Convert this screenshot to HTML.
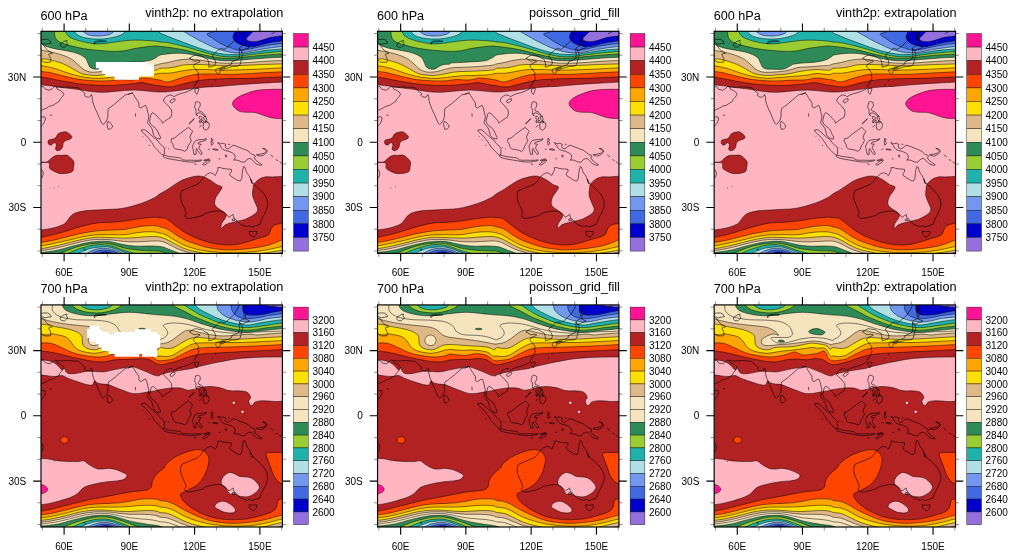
<!DOCTYPE html><html><head><meta charset="utf-8"><title>plot</title>
<style>html,body{margin:0;padding:0;background:#fff}svg{display:block;will-change:transform}text{font-family:"Liberation Sans",sans-serif;fill:#000}</style>
</head><body>
<svg width="1016" height="558" viewBox="0 0 1016 558">
<defs><clipPath id="fc"><rect x="0" y="0" width="241.4" height="222.1"/></clipPath>
<path id="coast" d="M-0.1 8.8L2.3 8.1L6.7 8.1L9.2 9.7L10.2 11.9L7.3 12.2L4.2 12.9L1.7 12.2L-0.1 11.3M19.6 12.2L21.2 11.3L23.1 10L25.9 9.1L25.6 11L26.9 13.2L25.3 14.4L23.7 16L20.6 15.7L19.3 14.4ZM53 12.2L53.3 10.7L55.8 9.7L60 9.4L62.8 9.5L65.3 10L62.8 10.4L60 10.4L56.5 10.7L54.3 11.3L53.6 12.9ZM1.4 12.9L2.9 14.4L4.8 17L7 19.5L9.5 20.4L11.4 22L9.2 22.3L7.7 23L8.6 25.2L9.5 27L9.9 28.9L9.5 30.8L6.1 31.1L2.9 30.8L1.7 29.9L-0.1 28.3M-0 55.6L2.1 55.1L4.5 58L8.3 58.9L11.1 57.5L13.5 55.1L15.4 55.6L16.3 58L19.6 59.4L22.5 61.7L22.9 63.1L21 66L19.1 67.9L18.2 70.2L14.9 72.1L12.1 74L8.3 75L5.4 76.8L1.7 78.5L-0 79.2M-0 86.3L2.1 85.4L4 85.8L4.5 87.7L3.6 90.1L2.6 92.4L0.7 94.3L-0 95.7M8.8 83.7L11.1 84.1M15.4 55.6L20.6 56.1L27.2 55.6L33.8 56.1L37.6 56.5L40.4 59.4L42.3 60.8L44.2 62.2L43.2 64.1L45.1 65.5L47.5 66L49.4 65L50.3 63.1L51.3 65.5L51.3 68.8L52.7 73.5L54.6 78.3L56.9 83L58.8 87.7L60.7 92L62.1 93.2L64 91.5L65.9 88.7L66.9 85.4L66.9 81.1L67.3 77.3L70.6 75L74.4 72.1L78.2 68.8L81.5 66L84.3 63.6L88.1 62.7L92 61.3M66.9 90.1L68.8 91L71.1 93.9L71.6 95.7L69.7 97.6L67.3 98.1L66.4 95.7L66.1 92.4ZM87 63.1L91.3 61.7L92.7 63.6L94.1 66L96 68.8L97.9 71.7L97.9 75.4L99.8 76.8L102.6 75L104.5 74L105.9 76.8L106.8 81.1L107.8 84.9L107.3 88.2L106.4 91.5L108.3 93.9L110.6 96.7M94.4 82L94.6 85.4M115.3 97.6L112.5 95.3L109.7 92.9L108.5 90.1L109.2 86.8L110.1 83L111.4 81.3L113.5 82.5L115.8 84.4L118.2 87.2L120.5 89.6L121.5 92L123.4 90.1L126.7 87.9L130 85.8L130.9 82L130.5 78.7L127.6 75L124.8 72.1L122.4 69.8L123.4 66.9L125.7 65L128.6 63.6L131.4 64.1L132.8 65.5L136.1 63.6L139.9 62.2L143.7 61.3L147.5 59.8L151.3 58L153.1 56.5M129.3 69.3L131.4 67.9L133.8 67.4L134.2 68.8L132.4 70.7L130.5 71.7L129 70.7ZM153.6 58L156 57L157.9 57.5L157.1 60.3L155.8 63.1L154.3 61.3ZM154.6 71L156.1 70.2L157.6 70.7L158.8 71.2L159.3 72.7L159.1 74.7L158.3 76.2L157.3 77.5L157.6 79.3L159.1 80L160.6 80.4L161.8 81.5L162.6 83L164.1 84L165.1 85L164.1 85.4L162.6 84.3L161.1 82.8L159.6 81.8L158.1 81.5L156.6 81.8L155.8 83.3L156.6 84.4L155.6 84L154.8 81.8L155 79.5L154.6 77.5L153.6 76.2L153.8 74.2L154.3 72.7ZM158.1 85.3L159.6 84.8L160.8 86L161.1 87.8L160.1 88.8L158.8 87.8L158.3 86.5ZM162.6 85.8L164.1 85.3L165.4 86.5L165.6 88.3L164.4 89.3L163.3 88L162.8 86.8ZM160.6 89.3L161.8 88.8L162.6 90.3L161.6 91.8L160.6 90.8ZM164.1 89.8L165.6 89.5L166.4 91L165.4 91.8L164.4 91ZM158.8 89L159.6 90.3L159.1 91.8L158.3 90.5ZM162.6 91.5L165.4 90.1L167.8 91.5L168.4 94.3L167.3 97.2L165 98.9L162.6 97.6L162.1 94.8ZM147.9 92.4L149.4 91L153.1 87.2L152.2 88.8L148.4 92.6ZM158.3 95.9L160.7 93.9M100.2 98.8L101.2 100.7L105 104L108.3 107.8L111.1 111.6L113.5 115.8L117.2 119.6L120.5 122.9L122.4 123.8L123.4 122.9L123.4 117.2L122.4 115.3L120.5 113.9L118.2 111.6L116.3 108.7L113 106.4L109.7 103.5L106.8 100.7L103.5 98.3L100.2 98.8ZM110.6 96.7L111.4 98.8L111.8 100.7L112.7 104L115.3 106.8L119.1 107.8L119.6 105.9L118 103.1L117 100.7L116.1 98.8L115.3 97.7M104.5 108.3L105.4 109.2M107.8 113.5L108.7 114.7M101.4 104.7L101.9 105.4M124.6 116L125.4 116.8M127.3 117.1L128.2 117.9M122.4 123.8L124.8 124.3L128.6 125.3L132.4 125.7L136.1 126.2L139.4 126.7L141.8 128.6L145.6 129L149.4 128.9L153.1 129L156.9 129L160.7 128.6L160.2 129.5L156 130.2L152.2 130.7L147.5 130.7L143.7 130.2L139.9 129.5L136.1 128.9L131.4 128.1L126.7 127.2L123.4 126.2L122.1 125.1ZM161.6 133.3L163.5 131.4L166.4 129.5L169.2 128.6L168.7 130L166.4 131.9L163.5 133.8ZM162.6 129L165.4 128.1L168.3 127.6L167.3 128.6L164 129.5ZM153.1 132.4L155.5 133.3M147.5 96.1L144.6 98.1L141.3 100.5L138 102.9L135.2 105.4L133.3 106.8L130.5 107.3L130 110.1L131.9 113L132.4 115.8L134.2 117.7L138 118.2L141.8 119.1L143.7 120.1L146.1 118.2L147 114.9L148.9 112L150.3 109.2L148.9 105.9L149.8 103.5L151.7 100L149.8 98.1ZM153.1 111.1L155 109.2L158.8 108.3L162.6 108.3L165.4 107.3L165 108.7L161.6 110.1L157.9 110.9L156.9 112.5L160.2 113L158.8 114.4L157.9 116.8L159.8 119.6L161.2 122.4L159.8 123.4L157.9 121L156.4 118.7L155.5 117.2L154.8 119.6L155.2 122.9L153.1 123.2L152.4 120.1L152 117.2L151.3 114.9L152.7 112.5ZM170.6 106.8L172 108.3L171.1 110.1L172.5 112L170.6 113.9L170.1 111.1ZM167.3 118.2L169.2 117.7M171.6 117.9L174.9 117.7L177.2 118.7L174.4 118.8ZM178.3 127.4L178.8 128.1M176.7 111.1L179.5 112.5L182.3 112L184.7 113L184.2 115.8L186.1 117.7L188.5 116.8L190.4 114.9L192.7 113.9L196.5 115.3L201.2 117.2L206 119.1L208.8 121L210.7 122.9L213.5 123.8L214.5 125.3L213.1 126.2L214.5 128.6L217.3 130.9L221.1 133.6L219.2 134L215.4 132.8L212.6 130L210.2 127.6L207.9 127.2L205.5 128.6L203.6 130.9L200.3 130.7L197 129L193.7 128.6L192.7 129L194.2 126.2L193.7 123.4L191.3 121.5L188 120.1L184.2 119.1L181.9 118.2L180.5 116.8L179 113.9L177.4 112.5ZM215.4 123.4L219.2 122.9L223 122L225.3 120.1L223.9 118.2L221.6 117L224.4 117.5L226.3 119.6L225.8 121L223.4 123.4L220.1 124.8L216.8 124.3ZM229.6 123.4L232.4 125.7M234.8 128.1L237.1 129.5M238.6 130L240.5 132.4M184.7 123.4L185.7 124.3L185.2 126L184.2 124.8ZM178.4 127L178.9 127.9M187.1 112.8L189.1 113.2M163.4 145.1L166.3 142.7L169.6 141.3L172.4 142.7L174.3 144.2L175.7 141.3L177.1 138L176.7 136.4L179 136.1L181.4 137.1L185.2 137.6L190.4 138L190.4 140.4L188.5 142.7L189.4 144.6L191.8 146.1L194.6 147.9L197 149.4L199.4 149.6L200.8 147L201.2 142.3L201.7 138.5L202.7 135.2L204.1 136.1L205 139.4L206.4 142.3L208.3 144.6L209.7 147.9L211.2 152.5L209.6 147.7L210.8 150.2L213.3 153.3L217 156.4L220.7 160.1L223.8 163.8L226.3 168.8L226.7 174.4L225.1 179.3L222.6 184.3L220.1 189.2L218.9 193L214.5 194.6L210.8 195.8L208.3 194.2L206.5 195.4L203.4 194.6L199.6 193L196.5 190.5L194.7 188L192.8 186.1L192 183L190.3 184.3L187.9 186.1L186 183.7L182.9 181.2L179.8 179.7L174.8 179.7L169.9 180.6L164.9 181.8L161.2 184.3L156.2 185.5L151.3 186.8L146.3 187.1L143.6 184.9L145.1 181.8L143.8 177.5L141.4 172.5L139.9 168.2L139.5 163.8L140.7 159.5L145.1 157.6L151.3 155.1L156.9 152.7L159.3 150.2L161.2 147.7ZM208.1 199.8L211.4 200.4L215.8 199.8L215.5 202.9L212.7 206L209.8 204.5L208.3 202ZM191 188L193.4 187.4L194.1 188.9L191.6 189.6ZM198.7 -1.3L198.3 0.6L196.4 4.4L193.5 9.1L189.7 12.9L186 16.2L183.1 18.1L180.3 17.1L177.9 18.1L175.6 20.4L172.7 22.3L171.3 24.7L172.7 26.6L174.2 28.9L174.8 31.8L173.7 34.1L170.9 35.1L167.8 36L168 33.7L167.5 30.8L166.6 28L164.2 27L162.3 25.6L160.5 24.7L156.7 24.2L154.3 23.7L152 24.7L149.1 26.6L148.2 27L149.6 27.5L151.5 28.9L152.9 29.9L155.7 29.4L158.6 29.4L159 30.4L157.1 31.3L154.8 32.2L152.9 33.7L152.4 35.6L154.3 37.4M174.8 38.4L176.5 37L178.4 37.4L179.4 39.3L178.4 41.7L177 43.1L175.6 41.7L174.6 39.8ZM179.8 37.9L182.2 36.5L184.1 37L182.7 38.4L180.8 39.1ZM178.4 37L181.2 35.6L185 35.1L187.9 34.1L190.7 32.7L190.7 30.8L192.6 29.9L195.4 28.9L198.3 27L198.7 23.3L198.3 20.4L198.3 17.6L200.1 19L201.6 23.3L200.6 27L199.7 30.8L199.2 33.2L197.3 34.6L194.5 35.1L191.6 35.1L188.8 36L186.9 36.5L185.5 37L183.1 36.5L180.3 37ZM198.3 17.1L200.1 15.2L203 13.8L205.8 14.8L208.6 16.2L206.8 17.1L204.4 17.6L202 19L200.1 19L198.7 18.1ZM201.7 -0.8L202.2 4.4L202.6 8.1L203.3 11.9L204.5 12.5L204.7 8.1L204.3 4.4L204.1 -0.8ZM154.4 37.2L155.8 39.5L157.7 41.9L156.7 44.7L158.1 46.1L157.2 48.5L155.8 50.9L154.4 53.2L152.9 55.6M170.4 54.2L171.8 52.8M174.2 49.9L174.7 48.5M0 137.5L1.8 140L2.3 143L1.2 146L0 147.5M12.9 156.3L13.7 156.9M17.4 155L18.2 155.6M42.8 217.6L44.4 218.2L43.6 219ZM230.5 2.4L232.5 1.6L234.5 0.4L235.2 -0.5" fill="none" stroke="#000" stroke-width="0.65" stroke-opacity="0.9" stroke-linejoin="round"/>
</defs>
<g transform="translate(41.0 31.3)">
<g clip-path="url(#fc)">
<rect x="0" y="0" width="241.4" height="222.1" fill="#FFB6C1"/>
<path d="M-0.5 53.5C1 53.6 5.8 54.1 8.5 54.5C11.2 54.8 12.9 55 16 55.5C19.1 55.9 23.7 56.5 27.2 57C30.8 57.4 34.1 57.7 37.2 58.2C40.4 58.7 43.1 59.3 46 59.7C48.9 60.1 51.8 60.5 54.8 60.7C57.7 60.9 60.4 61.1 63.5 61C66.6 60.8 70.2 60.4 73.5 60.1C76.8 59.8 80.2 59.4 83.5 59.2C86.8 59 90.2 58.8 93.5 58.8C96.8 58.9 100.2 59.2 103.5 59.5C106.8 59.7 110.9 60.2 113.5 60.5C116.1 60.7 116.8 60.7 119 60.7C121.2 60.7 123.8 60.7 126.5 60.5C129.2 60.2 132.3 59.8 135.2 59.5C138.2 59.1 140.9 58.6 144 58.2C147.1 57.8 150.2 57.4 154 57C157.8 56.5 162.3 56 166.5 55.7C170.7 55.4 174.4 55.4 179 55.1C183.6 54.8 189 54.2 194 53.8C199 53.4 203.8 52.9 209 52.6C214.2 52.2 219.7 52 225.2 51.7C230.8 51.4 239.3 50.9 242.1 50.7L243.4 -2L-2 -2Z" fill="#B22222" stroke="#000" stroke-width="0.55" stroke-opacity="0.9"/>
<path d="M-0.5 45.7C1 46 5.3 46.6 8.5 47.2C11.7 47.8 15.2 48.6 18.5 49.2C21.8 49.8 25.2 50.4 28.5 51C31.8 51.5 35.2 52.2 38.5 52.6C41.8 53 45.2 53.2 48.5 53.5C51.8 53.7 54.8 54 58.5 54.1C62.2 54.2 66.8 54.2 71 54.1C75.2 53.9 79.8 53.5 83.5 53.2C87.2 52.9 90.8 52.5 93.5 52.2C96.2 51.9 97.7 51.3 99.8 51.3C101.8 51.3 103.7 51.8 106 52.2C108.3 52.6 111.3 53.5 113.5 53.8C115.7 54.2 117 54.2 119 54.5C121 54.7 123.2 55.3 125.2 55.5C127.3 55.6 129.2 55.8 131.5 55.5C133.8 55.1 136.3 54.1 139 53.5C141.7 52.8 144.8 52 147.8 51.3C150.7 50.7 153.4 50 156.5 49.5C159.6 48.9 162.8 48.5 166.5 48.2C170.2 47.9 174.4 47.7 179 47.6C183.6 47.4 189 47.3 194 47.2C199 47.1 203.8 47.1 209 47C214.2 46.8 219.7 46.6 225.2 46.3C230.8 46.1 239.3 45.6 242.1 45.5L243.4 -2L-2 -2Z" fill="#FF4500" stroke="#000" stroke-width="0.55" stroke-opacity="0.9"/>
<path d="M-0.1 40.1C1.4 40.3 5.7 40.7 8.9 41.3C12.1 42 15.6 43 18.9 43.8C22.2 44.7 25.6 45.6 28.9 46.3C32.2 47.1 35.6 47.7 38.9 48.2C42.2 48.7 45.6 49 48.9 49.2C52.2 49.5 55.6 49.7 58.9 49.7C62.2 49.7 65.6 49.7 68.9 49.5C72.2 49.2 75.6 48.3 78.9 48.2C82.2 48.1 86 48.9 88.9 48.8C91.8 48.8 94.3 48.3 96.4 48C98.5 47.6 99.3 46.8 101.4 46.7C103.5 46.6 106.6 47 108.9 47.2C111.2 47.5 113.5 47.9 115.1 48.2C116.8 48.5 117.7 48.5 119 48.8C120.3 49.1 121.5 49.8 122.8 50.1C124 50.4 125 50.8 126.5 50.7C128 50.6 129.4 50.1 131.5 49.5C133.6 48.8 136.3 47.8 139 47C141.7 46.1 144.8 45.1 147.8 44.5C150.7 43.8 153 43.3 156.5 43C160 42.6 164.8 42.6 169 42.6C173.2 42.6 177.3 42.9 181.5 43C185.7 43 189.4 43.1 194 43C198.6 42.8 203.8 42.5 209 42.2C214.2 41.9 219.7 41.6 225.2 41.3C230.8 41 239.3 40.6 242.1 40.5L243.4 -2L-2 -2Z" fill="#FFA500" stroke="#000" stroke-width="0.55" stroke-opacity="0.9"/>
<path d="M-0.1 34.5C1 34.6 3.9 34.9 6.4 35.5C8.9 36 12.2 36.7 15.1 37.6C18.1 38.5 20.8 39.7 23.9 40.7C27 41.7 30.6 43 33.9 43.8C37.2 44.7 40.6 45.4 43.9 46C47.2 46.5 50.6 46.8 53.9 47C57.2 47.1 60.6 47 63.9 46.7C67.2 46.5 70.6 45.8 73.9 45.5C77.2 45.1 80.6 44.7 83.9 44.5C87.2 44.2 90.6 44.3 93.9 44.2C97.2 44.1 101 44 103.9 43.8C106.8 43.7 108.9 43.8 111.4 43.5C113.9 43.1 116.5 42.2 119 42C121.5 41.7 124 42.1 126.5 42C129 41.8 131.5 41.4 134 41C136.5 40.5 139 39.9 141.5 39.5C144 39 146.1 38.7 149 38.5C151.9 38.2 155.2 38.2 159 38.2C162.8 38.2 167.3 38.3 171.5 38.5C175.7 38.6 179.4 38.8 184 38.8C188.6 38.8 194 38.6 199 38.5C204 38.3 209 38.2 214 38C219 37.7 224.3 37.5 229 37.2C233.7 36.9 239.9 36.5 242.1 36.3L243.4 -2L-2 -2Z" fill="#FFDF00" stroke="#000" stroke-width="0.55" stroke-opacity="0.9"/>
<path d="M-0.1 27.9C0.6 27.9 2.4 27.5 3.9 27.6C5.4 27.7 6.4 27.8 8.9 28.4C11.4 29.1 16 30.3 18.9 31.3C21.8 32.3 23.9 33.2 26.4 34.5C28.9 35.7 31.4 37.5 33.9 38.8C36.4 40.2 38.9 41.7 41.4 42.6C43.9 43.4 46.4 43.6 48.9 43.8C51.4 44.1 53.9 44.3 56.4 44.2C58.9 44.1 61.4 43.6 63.9 43.2C66.4 42.8 68.9 42.2 71.4 41.7C73.9 41.2 76 40.7 78.9 40.5C81.8 40.2 85.6 40.2 88.9 40.1C92.2 40 95.6 39.8 98.9 39.7C102.2 39.6 106 39.4 108.9 39.2C111.8 39 114.7 38.8 116.4 38.5C118.1 38.1 117.3 37.2 119 37C120.7 36.7 124 36.9 126.5 36.7C129 36.5 131.5 36.2 134 35.7C136.5 35.2 139 34.2 141.5 33.8C144 33.4 146.1 33.3 149 33.2C151.9 33.1 155.2 33.1 159 33.2C162.8 33.3 167.3 33.6 171.5 33.8C175.7 34 179.4 34.4 184 34.5C188.6 34.5 194 34.4 199 34.2C204 34 209 33.7 214 33.5C219 33.2 224.3 33.1 229 33C233.7 32.8 239.9 32.6 242.1 32.6L243.4 -2L-2 -2Z" fill="#DEB887" stroke="#000" stroke-width="0.55" stroke-opacity="0.9"/>
<path d="M-0.1 18.8C1 19 3.9 19.6 6.4 20.1C8.9 20.6 12.2 21.2 15.1 21.9C18.1 22.7 21.2 23.6 23.9 24.7C26.6 25.8 29.1 26.9 31.4 28.4C33.7 30 35.8 32.2 37.6 33.8C39.5 35.5 40.8 37.1 42.6 38.2C44.5 39.3 46.6 40.3 48.9 40.7C51.2 41.1 54.1 40.9 56.4 40.7C58.7 40.5 60.6 40 62.6 39.5C64.7 38.9 66.6 38.1 68.9 37.6C71.2 37.1 73.5 36.6 76.4 36.3C79.3 36.1 83.1 36.1 86.4 36C89.7 35.8 93.1 35.7 96.4 35.5C99.7 35.2 103.3 35 106.4 34.7C109.5 34.4 113 34.2 115.1 33.8C117.2 33.5 117.1 33 119 32.6C120.9 32.2 124 31.8 126.5 31.3C129 30.8 131.5 30 134 29.4C136.5 28.9 139 28.4 141.5 28.2C144 27.9 146.1 27.8 149 27.9C151.9 28.1 155.2 28.4 159 28.8C162.8 29.3 167.3 30.2 171.5 30.7C175.7 31.2 179.4 31.8 184 31.9C188.6 32.1 194 31.9 199 31.7C204 31.5 209 31 214 30.7C219 30.4 224.3 29.9 229 29.7C233.7 29.4 239.9 29.3 242.1 29.2L243.4 -2L-2 -2Z" fill="#F5E4BD" stroke="#000" stroke-width="0.55" stroke-opacity="0.9"/>
<path d="M-0.1 11.9C0.6 12.4 2 13.6 3.9 14.4C5.8 15.3 8.5 16.2 11.4 16.9C14.3 17.7 18.1 18.2 21.4 18.8C24.7 19.4 28.5 20 31.4 20.7C34.3 21.4 36.7 22.2 38.9 23.2C41.1 24.2 43.2 25.5 44.5 26.9C45.9 28.4 46.3 30.5 47 31.9C47.8 33.4 48 34.8 48.9 35.7C49.8 36.6 51.2 37.3 52.6 37.6C54.1 37.9 56.2 38 57.6 37.6C59.1 37.2 59.9 35.8 61.4 35.1C62.9 34.3 64.7 33.6 66.4 33.2C68.1 32.8 70.1 33.2 71.4 33C72.6 32.7 72.2 32 73.9 31.7C75.6 31.4 78.5 31.5 81.4 31.3C84.3 31.2 88.1 30.9 91.4 30.7C94.7 30.5 98.5 30.3 101.4 30.1C104.3 29.8 106.6 29.8 108.9 29.2C111.2 28.6 113.5 27.2 115.1 26.3C116.8 25.4 117.1 24.4 119 23.8C120.9 23.2 123.8 22.9 126.5 22.6C129.2 22.3 132.3 22 135.2 21.9C138.2 21.9 140.9 21.9 144 22.2C147.1 22.5 150.7 23.1 154 23.8C157.3 24.5 160.7 25.6 164 26.3C167.3 27.1 170.7 27.9 174 28.4C177.3 29 180.7 29.3 184 29.4C187.3 29.6 190.2 29.4 194 29.2C197.8 29 202.3 28.5 206.5 28.2C210.7 27.9 214.8 27.5 219 27.2C223.2 26.9 227.6 26.5 231.5 26.3C235.4 26.1 240.4 26 242.1 25.9L243.4 -2L-2 -2Z" fill="#2E8B57" stroke="#000" stroke-width="0.55" stroke-opacity="0.9"/>
<path d="M13.5 -1.2C13.5 -0.2 13.4 2.9 13.8 4.4C14.1 6 14.4 7.1 15.4 8.2C16.4 9.3 17.8 10.4 19.8 11.3C21.7 12.3 24.3 13 27.2 13.8C30.2 14.7 33.7 15.6 37.2 16.3C40.8 17.1 44.5 17.7 48.5 18.2C52.5 18.7 56.8 19.1 61 19.4C65.2 19.8 69.8 20.1 73.5 20.1C77.2 20.1 80.2 19.9 83.5 19.4C86.8 19 90.2 17.8 93.5 17.2C96.8 16.6 100.2 16.1 103.5 15.7C106.8 15.3 110.9 14.8 113.5 14.7C116.1 14.6 116.8 14.9 119 15.1C121.2 15.3 123.8 15.6 126.5 15.9C129.2 16.3 132.3 16.7 135.2 17.2C138.2 17.7 140.9 18.1 144 18.8C147.1 19.5 150.7 20.5 154 21.3C157.3 22.2 160.7 23.1 164 23.8C167.3 24.6 170.7 25.4 174 25.9C177.3 26.5 180.7 26.8 184 26.9C187.3 27.1 190.2 26.9 194 26.7C197.8 26.4 202.3 25.9 206.5 25.4C210.7 25 214.8 24.6 219 24.2C223.2 23.8 227.6 23.5 231.5 23.2C235.4 22.9 240.4 22.7 242.1 22.6L243.4 -2Z" fill="#9ACD32" stroke="#000" stroke-width="0.55" stroke-opacity="0.9"/>
<path d="M24.1 -1.2C24.4 -0.4 25.1 1.9 26 3.2C26.9 4.4 28.1 5.4 29.8 6.3C31.4 7.3 33.3 8 36 8.8C38.7 9.7 42.7 10.7 46 11.3C49.3 11.9 52.7 12.5 56 12.6C59.3 12.7 62.7 12.3 66 11.9C69.3 11.6 72.7 10.9 76 10.4C79.3 10 82.7 9.5 86 9.2C89.3 8.9 92.7 8.8 96 8.8C99.3 8.8 102.7 9 106 9.2C109.3 9.4 113.8 9.8 116 10.1C118.2 10.3 117.2 10.5 119 10.7C120.8 10.9 123.8 10.9 126.5 11.3C129.2 11.7 132.3 12.5 135.2 13.2C138.2 13.9 140.9 14.6 144 15.4C147.1 16.3 150.7 17.2 154 18.2C157.3 19.2 160.7 20.4 164 21.3C167.3 22.3 170.7 23.1 174 23.8C177.3 24.5 180.7 25.2 184 25.4C187.3 25.7 190.2 25.7 194 25.4C197.8 25.2 202.3 24.4 206.5 23.8C210.7 23.3 214.8 22.7 219 22.2C223.2 21.7 227.6 21.3 231.5 20.9C235.4 20.6 240.4 20.2 242.1 20.1L243.4 -2Z" fill="#20B2AA" stroke="#000" stroke-width="0.55" stroke-opacity="0.9"/>
<path d="M32.2 -1.2C32.9 -0.4 34.5 2.1 36 3.2C37.5 4.3 38.9 5 41 5.7C43.1 6.4 45.8 6.8 48.5 7.2C51.2 7.6 54.3 7.8 57.2 7.8C60.2 7.8 63.1 7.6 66 7.2C68.9 6.8 72.2 6.1 74.8 5.4C77.2 4.8 79.1 4.3 81 3.2C82.9 2.1 85.2 -0.4 86 -1.2Z" fill="#B0E0E6" stroke="#000" stroke-width="0.55" stroke-opacity="0.9"/>
<path d="M116.5 -1.2C116.9 -0.7 117.8 0.9 119 1.7C120.2 2.5 121.9 2.9 124 3.8C126.1 4.7 128.6 5.8 131.5 6.9C134.4 8.1 138.2 9.4 141.5 10.7C144.8 11.9 148.2 13.2 151.5 14.4C154.8 15.7 158.2 16.9 161.5 17.9C164.8 19 168.2 19.9 171.5 20.7C174.8 21.5 178.2 22.2 181.5 22.6C184.8 23 188.2 23.2 191.5 23.2C194.8 23.2 197.8 23 201.5 22.6C205.2 22.2 209.8 21.3 214 20.7C218.2 20.1 221.8 19.3 226.5 18.8C231.2 18.3 239.5 17.8 242.1 17.6L243.4 -2Z" fill="#B0E0E6" stroke="#000" stroke-width="0.55" stroke-opacity="0.9"/>
<path d="M40.4 -1.2C41.3 -0.5 44 2 46 2.9C48 3.9 50.2 4.2 52.2 4.4C54.3 4.7 56.2 4.8 58.5 4.7C60.8 4.6 63.9 4.3 66 3.8C68.1 3.4 69.6 2.8 71 1.9C72.4 1.1 73.6 -0.7 74.1 -1.2Z" fill="#7297EE" stroke="#000" stroke-width="0.55" stroke-opacity="0.9"/>
<path d="M140.2 -1.2C141.5 -0.4 145 1.6 147.8 3.2C150.5 4.8 153.4 6.5 156.5 8.2C159.6 9.9 163.2 11.6 166.5 13.2C169.8 14.8 173.2 16.4 176.5 17.6C179.8 18.8 183.2 19.8 186.5 20.4C189.8 21.1 193.2 21.7 196.5 21.7C199.8 21.7 202.8 21.3 206.5 20.7C210.2 20.1 214.8 18.9 219 18.2C223.2 17.5 227.6 16.8 231.5 16.3C235.4 15.8 240.4 15.3 242.1 15.1L243.4 -2Z" fill="#7297EE" stroke="#000" stroke-width="0.55" stroke-opacity="0.9"/>
<path d="M176.5 -1.2C175.7 -0.8 173.3 0.3 171.5 0.9C169.7 1.6 165.9 1.9 165.9 2.9C165.9 3.9 169.3 5.4 171.5 6.9C173.7 8.4 176.1 10.4 179 11.9C181.9 13.5 185.7 15.2 189 16.3C192.3 17.5 195.7 18.6 199 18.8C202.3 19 205.7 18.1 209 17.6C212.3 17 215.2 16.2 219 15.4C222.8 14.7 227.6 13.8 231.5 13.2C235.4 12.6 240.4 12.2 242.1 11.9L243.4 -2Z" fill="#4169E1" stroke="#000" stroke-width="0.55" stroke-opacity="0.9"/>
<path d="M194.6 -1.2C194.2 -0.2 192.4 2.9 192.1 4.4C191.8 6 192 6.9 192.8 8.2C193.5 9.4 194.6 10.9 196.5 11.9C198.4 13 201.5 13.9 204 14.4C206.5 15 209 15.6 211.5 15.4C214 15.3 216.1 14.5 219 13.8C221.9 13.1 225.1 12.1 229 11.3C232.9 10.6 239.9 9.6 242.1 9.2L243.4 -2Z" fill="#0000CD" stroke="#000" stroke-width="0.55" stroke-opacity="0.9"/>
<path d="M213.4 -1.2C212.4 -0.2 209.1 3 207.8 4.4C206.4 5.9 205.2 6.7 205.2 7.6C205.2 8.4 206.3 9.2 207.8 9.7C209.2 10.2 211.7 10.6 214 10.4C216.3 10.3 219 9.5 221.5 8.8C224 8.1 226.5 6.9 229 6.3C231.5 5.7 234.3 5.3 236.5 5.1C238.7 4.8 241.2 4.8 242.1 4.7L243.4 -2Z" fill="#9370DB" stroke="#000" stroke-width="0.55" stroke-opacity="0.9"/>
<path d="M242.8 58C239.8 58 230 58 225.2 58.2C220.5 58.5 217.1 58.8 214 59.5C210.9 60.1 208.8 61 206.5 61.8C204.2 62.6 202.3 63.3 200.2 64.3C198.2 65.4 195.5 66.7 194 68.1C192.5 69.4 191.5 71 191.5 72.5C191.5 73.9 192.8 75.5 194 76.8C195.2 78.1 196.9 79.5 199 80.2C201.1 80.9 204 80.8 206.5 81C209 81.1 211.5 80.7 214 81.2C216.5 81.7 219 82.9 221.5 83.7C224 84.5 226.5 85.6 229 86.2C231.5 86.8 234.2 87 236.5 87.2C238.8 87.4 241.7 87.2 242.8 87.2Z" fill="#FF1493" stroke="#000" stroke-width="0.55" stroke-opacity="0.9"/>
<path d="M7.9 108.7C8.8 108.2 11.1 108.1 12.2 107.7C13.4 107.3 13.9 107.1 14.8 106.2C15.6 105.3 16.2 103.3 17.2 102.5C18.3 101.6 19.6 101.3 21 101C22.4 100.6 24 100.2 25.4 100.6C26.7 100.9 28.2 102.2 29.1 103.1C30.1 104 31.1 105.1 31 106C30.9 106.8 29.5 107.5 28.5 108.1C27.5 108.6 25.8 108.7 24.8 109.3C23.7 110 22.8 110.8 22.2 111.8C21.7 112.9 22.1 114.4 21.6 115.6C21.1 116.7 20.1 118.1 19.1 118.7C18.2 119.3 16.8 119.5 16 119.3C15.2 119.1 14.6 118.4 14.5 117.5C14.4 116.5 15.5 114.7 15.4 113.7C15.2 112.7 14.3 111.2 13.5 111.2C12.7 111.2 11.3 113.4 10.4 113.7C9.4 114 8.4 113.5 7.9 113.1C7.3 112.6 7 111.7 7 111C7 110.2 7 109.2 7.9 108.7Z" fill="#B22222" stroke="#000" stroke-width="0.55" stroke-opacity="0.9"/>
<path d="M-1.5 130.8C-0.2 130.7 4.1 131.1 6 130.6C7.9 130 8.3 128.5 9.8 127.5C11.2 126.4 12.9 124.9 14.8 124.3C16.6 123.7 19.1 124 21 124C22.9 123.9 24.5 123.5 26 124C27.5 124.4 28.6 125.7 29.8 126.8C30.9 127.9 32.4 129 32.9 130.6C33.3 132.1 32.7 134.6 32.5 136.2C32.3 137.8 32.5 139 31.6 139.9C30.8 140.9 29 141.4 27.2 141.8C25.5 142.2 22.9 142.5 21 142.4C19.1 142.4 17.6 142 16 141.4C14.4 140.9 12.9 140.1 11.6 139.3C10.4 138.6 9 137.9 8.5 136.8C8 135.8 8.8 134 8.5 133.1C8.2 132.2 8.3 131.6 6.6 131.3C5 131 -0.1 131.3 -1.5 131.2C-2.9 131.1 -2.8 130.9 -1.5 130.8Z" fill="#B22222" stroke="#000" stroke-width="0.55" stroke-opacity="0.9"/>
<path d="M-0.5 198.7C1 198.5 5.8 198 8.5 197.4C11.2 196.9 13.5 196.4 16 195.6C18.5 194.7 21.6 193.7 23.5 192.4C25.4 191.2 26 189.5 27.2 188.1C28.5 186.6 29.5 184.8 31 183.7C32.5 182.6 33.5 181.9 36 181.2C38.5 180.5 42.7 179.7 46 179.3C49.3 178.9 52.7 178.9 56 178.7C59.3 178.5 62.7 178.2 66 178.1C69.3 177.9 72.7 178 76 177.7C79.3 177.4 82.7 176.9 86 176.2C89.3 175.5 92.7 174.5 96 173.4C99.3 172.4 102.9 171.3 106 169.9C109.1 168.6 112.6 166.8 114.8 165.6C116.9 164.3 117 163.7 119 162.4C121 161.2 124 159.6 126.5 158.1C129 156.5 131.5 154.6 134 153.1C136.5 151.5 139 149.8 141.5 148.7C144 147.6 146.5 146.9 149 146.2C151.5 145.5 154.2 144.8 156.5 144.7C158.8 144.6 160.7 144.9 162.8 145.6C164.8 146.2 166.9 147.4 169 148.7C171.1 149.9 173.3 151.9 175.2 153.1C177.2 154.2 180.2 154.4 180.9 155.6C181.5 156.7 179.8 158.5 179 159.9C178.2 161.4 176.7 162.9 175.9 164.3C175 165.8 174.3 167.1 174 168.7C173.7 170.3 173.4 172.2 174 173.7C174.6 175.2 176.3 176.3 177.8 177.4C179.2 178.6 181.5 179.5 182.8 180.6C184 181.6 185 182.6 185.2 183.7C185.5 184.8 184.7 186.1 184 187.4C183.3 188.8 181.5 190.4 180.9 191.8C180.2 193.3 180 195.4 180 196.2C180 197 180.2 197.2 180.9 196.8C181.5 196.4 182.6 194.5 184 193.7C185.4 192.9 186.9 192.4 189 191.8C191.1 191.2 194 190.6 196.5 189.9C199 189.3 201.5 189 204 188.1C206.5 187.1 209.5 185.6 211.5 184.3C213.5 183.1 215 181.8 215.9 180.6C216.7 179.3 216.7 178.2 216.5 176.8C216.3 175.5 215.4 174.2 214.6 172.4C213.9 170.7 212.6 167.9 212.1 166.2C211.6 164.5 211.5 164.1 211.5 162.4C211.5 160.8 211.9 157.8 212.1 156.2C212.3 154.6 211.8 154.4 212.8 153.1C213.7 151.7 215.9 149.3 217.8 148.1C219.6 146.8 221.7 146 224 145.6C226.3 145.2 228.5 145.7 231.5 145.6C234.5 145.5 240.4 145.1 242.1 144.9L243.4 224.1L-2 224.1Z" fill="#B22222" stroke="#000" stroke-width="0.55" stroke-opacity="0.9"/>
<path d="M-0.5 206.2C1 205.9 5.3 205.1 8.5 204.3C11.7 203.6 15.2 202.8 18.5 201.8C21.8 200.9 25.2 199.7 28.5 198.7C31.8 197.7 35.2 196.5 38.5 195.6C41.8 194.6 45.2 193.8 48.5 193.1C51.8 192.4 54.8 191.8 58.5 191.4C62.2 191.1 66.8 191.2 71 190.9C75.2 190.7 79.8 190.2 83.5 189.7C87.2 189.2 90.2 188.6 93.5 188.1C96.8 187.6 100.2 187.2 103.5 186.8C106.8 186.5 110.9 186 113.5 185.9C116.1 185.9 117.2 186.3 119 186.4C120.8 186.6 122.3 186.2 124 186.8C125.7 187.4 127.1 188.6 129 189.9C130.9 191.3 132.8 193.1 135.2 194.9C137.8 196.8 140.9 199.3 144 201.2C147.1 203.1 150.7 204.7 154 206.2C157.3 207.7 160.7 208.9 164 209.9C167.3 211 170.7 211.8 174 212.4C177.3 213.1 180.7 213.5 184 213.7C187.3 213.9 190.7 213.9 194 213.4C197.3 213 200.7 212.1 204 211.2C207.3 210.3 210.9 209 214 208.1C217.1 207.1 220.5 206.4 222.8 205.6C225 204.7 226.5 204.4 227.8 203.1C229 201.7 229.2 199 230.2 197.4C231.3 195.9 232 194.6 234 193.7C236 192.8 240.8 192.1 242.1 191.8L243.4 224.1L-2 224.1Z" fill="#FF4500" stroke="#000" stroke-width="0.55" stroke-opacity="0.9"/>
<path d="M-0.5 211.2C1 210.9 5.3 210.3 8.5 209.7C11.7 209.1 15.2 208.2 18.5 207.4C21.8 206.7 25.2 205.8 28.5 204.9C31.8 204.1 35.2 203.2 38.5 202.4C41.8 201.7 45.2 201.1 48.5 200.6C51.8 200.1 54.8 199.6 58.5 199.3C62.2 199 66.8 198.9 71 198.7C75.2 198.5 79.8 198.5 83.5 198.1C87.2 197.7 90.2 196.8 93.5 196.2C96.8 195.6 100.2 195 103.5 194.7C106.8 194.4 110.9 194.2 113.5 194.3C116.1 194.5 117.2 195.2 119 195.6C120.8 196 122.3 196.2 124 196.8C125.7 197.4 127.1 198.2 129 199.3C130.9 200.5 132.8 202.1 135.2 203.7C137.8 205.3 140.9 207.2 144 208.7C147.1 210.2 150.7 211.3 154 212.4C157.3 213.6 160.7 214.7 164 215.6C167.3 216.4 170.7 217 174 217.4C177.3 217.9 180.7 218.3 184 218.4C187.3 218.6 190.7 218.6 194 218.4C197.3 218.3 200.7 218 204 217.7C207.3 217.4 210.7 216.9 214 216.4C217.3 215.9 221.1 215.4 224 214.7C226.9 214 229.2 213.2 231.5 212.4C233.8 211.7 236 210.7 237.8 209.9C239.5 209.2 241.4 208.4 242.1 208.1L243.4 224.1L-2 224.1Z" fill="#FFA500" stroke="#000" stroke-width="0.55" stroke-opacity="0.9"/>
<path d="M-0.5 214.7C1 214.4 5.3 213.7 8.5 213.1C11.7 212.4 15.2 211.7 18.5 210.9C21.8 210.2 25.2 209.5 28.5 208.7C31.8 207.9 35.2 206.9 38.5 206.2C41.8 205.5 45.2 204.8 48.5 204.3C51.8 203.9 54.8 203.6 58.5 203.4C62.2 203.3 66.8 203.4 71 203.4C75.2 203.4 79.8 203.7 83.5 203.4C87.2 203.2 90.2 202.3 93.5 201.8C96.8 201.3 100.2 200.8 103.5 200.6C106.8 200.4 110.9 200.4 113.5 200.6C116.1 200.8 117.2 201.4 119 201.8C120.8 202.2 122.1 202.2 124 203.1C125.9 203.9 128 205.5 130.2 206.8C132.5 208.2 135 209.8 137.8 211.2C140.5 212.6 143.4 214.1 146.5 215.2C149.6 216.3 153.2 217.3 156.5 218.1C159.8 218.9 163.2 219.5 166.5 219.9C169.8 220.4 173.2 220.7 176.5 220.9C179.8 221.2 183.2 221.4 186.5 221.4C189.8 221.5 193.2 221.5 196.5 221.4C199.8 221.4 203.2 221.2 206.5 220.9C209.8 220.7 213.2 220.4 216.5 219.9C219.8 219.5 223.6 219 226.5 218.4C229.4 217.9 231.4 217.4 234 216.8C236.6 216.2 240.8 215.3 242.1 214.9L243.4 224.1L-2 224.1Z" fill="#FFDF00" stroke="#000" stroke-width="0.55" stroke-opacity="0.9"/>
<path d="M-0.5 217.4C1 217.2 5.3 216.6 8.5 215.9C11.7 215.3 15.2 214.5 18.5 213.7C21.8 212.9 25.2 212 28.5 211.2C31.8 210.4 35.2 209.4 38.5 208.7C41.8 208 45.2 207.3 48.5 206.8C51.8 206.4 54.8 206 58.5 205.9C62.2 205.9 66.8 206.3 71 206.4C75.2 206.6 79.8 206.8 83.5 206.8C87.2 206.8 90.2 206.7 93.5 206.4C96.8 206.2 100.2 205.8 103.5 205.6C106.8 205.4 110.9 205.1 113.5 205.2C116.1 205.3 117.2 205.6 119 205.9C120.8 206.3 122.1 206.7 124 207.4C125.9 208.2 128 209.4 130.2 210.6C132.5 211.8 135 213.4 137.8 214.7C140.5 216 143.4 217.5 146.5 218.4C149.6 219.4 153.4 219.9 156.5 220.6C159.6 221.3 163.8 222.3 165.2 222.7L-2 224.1Z" fill="#DEB887" stroke="#000" stroke-width="0.55" stroke-opacity="0.9"/>
<path d="M217.8 222.7C219.6 222.4 225.9 221.4 229 220.9C232.1 220.4 234.3 220.1 236.5 219.7C238.7 219.3 241.2 218.9 242.1 218.7L243.4 224.1Z" fill="#DEB887" stroke="#000" stroke-width="0.55" stroke-opacity="0.9"/>
<path d="M-0.5 219.3C1 219.1 5.3 218.6 8.5 218.1C11.7 217.5 15.2 216.7 18.5 215.9C21.8 215.2 25.2 214.3 28.5 213.4C31.8 212.6 35.2 211.7 38.5 210.9C41.8 210.2 45.2 209.4 48.5 208.9C51.8 208.5 54.8 208.1 58.5 208.1C62.2 208 66.8 208.3 71 208.7C75.2 209.1 79.8 209.9 83.5 210.2C87.2 210.5 90.2 210.6 93.5 210.6C96.8 210.6 100.2 210.3 103.5 210.2C106.8 210.1 110.9 209.7 113.5 209.7C116.1 209.7 117.2 209.7 119 209.9C120.8 210.2 122.1 210.5 124 211.2C125.9 211.9 128 213.2 130.2 214.3C132.5 215.5 135 217 137.8 218.1C140.5 219.2 144 220.2 146.5 220.9C149 221.7 151.7 222.4 152.8 222.7L-2 224.1Z" fill="#F5E4BD" stroke="#000" stroke-width="0.55" stroke-opacity="0.9"/>
<path d="M235.2 222.7 L242.1 220.6L243.4 224.1Z" fill="#F5E4BD" stroke="#000" stroke-width="0.55" stroke-opacity="0.9"/>
<path d="M-0.5 221.2C1 221 5.3 220.7 8.5 220.2C11.7 219.7 15.2 219.2 18.5 218.4C21.8 217.7 25.2 216.5 28.5 215.6C31.8 214.7 35.2 213.8 38.5 213.1C41.8 212.3 45.2 211.5 48.5 210.9C51.8 210.4 55.2 210.1 58.5 209.9C61.8 209.8 65.2 209.8 68.5 210.2C71.8 210.6 75.2 211.8 78.5 212.4C81.8 213.1 85.2 213.9 88.5 214.3C91.8 214.7 95.2 214.9 98.5 214.9C101.8 215 105.1 214.7 108.5 214.7C111.9 214.7 116.4 214.9 119 215.2C121.6 215.5 122.1 215.8 124 216.4C125.9 217.1 128.2 218.2 130.2 218.9C132.3 219.7 134.8 220.6 136.5 221.2C138.2 221.8 139.6 222.4 140.2 222.7L-2 224.1Z" fill="#2E8B57" stroke="#000" stroke-width="0.55" stroke-opacity="0.9"/>
<path d="M17.2 222.7C18.7 222.1 23.3 220.4 26 219.3C28.7 218.3 30.6 217.4 33.5 216.4C36.4 215.5 40.2 214.4 43.5 213.7C46.8 213 50.2 212.5 53.5 212.2C56.8 211.9 60.2 211.6 63.5 211.8C66.8 212.1 70.2 212.9 73.5 213.7C76.8 214.5 80.2 216 83.5 216.8C86.8 217.6 90.2 218 93.5 218.4C96.8 218.9 100.2 219.1 103.5 219.3C106.8 219.5 110.9 219.6 113.5 219.7C116.1 219.8 117.5 219.7 119 219.9C120.5 220.2 121.5 220.5 122.8 220.9C124 221.4 125.9 222.4 126.5 222.7Z" fill="#9ACD32" stroke="#000" stroke-width="0.55" stroke-opacity="0.9"/>
<path d="M26 222.7C27.5 222 31.8 219.8 34.8 218.7C37.7 217.6 40.4 216.8 43.5 215.9C46.6 215.1 50.2 214.1 53.5 213.7C56.8 213.3 60.2 213.1 63.5 213.4C66.8 213.8 70.6 214.7 73.5 215.6C76.4 216.4 78.5 217.6 81 218.4C83.5 219.3 86 219.9 88.5 220.6C91 221.3 94.8 222.3 96 222.7Z" fill="#20B2AA" stroke="#000" stroke-width="0.55" stroke-opacity="0.9"/>
<path d="M36 222.7C37.2 222.1 41 220.3 43.5 219.3C46 218.3 48.1 217.4 51 216.8C53.9 216.2 58.1 215.7 61 215.6C63.9 215.4 66 215.5 68.5 215.9C71 216.4 73.7 217.3 76 218.1C78.3 218.8 80.4 219.8 82.2 220.6C84.1 221.3 86.4 222.3 87.2 222.7Z" fill="#B0E0E6" stroke="#000" stroke-width="0.55" stroke-opacity="0.9"/>
<path d="M44.8 222.7C45.8 222.1 48.7 220.2 51 219.3C53.3 218.4 56 217.6 58.5 217.2C61 216.8 63.5 216.9 66 217.2C68.5 217.4 71.4 218.1 73.5 218.7C75.6 219.3 76.8 219.9 78.5 220.6C80.2 221.2 82.7 222.3 83.5 222.7Z" fill="#7297EE" stroke="#000" stroke-width="0.55" stroke-opacity="0.9"/>
<path d="M49.8 222.7C50.8 222.2 53.9 220.6 56 219.9C58.1 219.3 60.2 219.1 62.2 218.9C64.3 218.8 66.4 219 68.5 219.3C70.6 219.7 73.1 220.4 74.8 220.9C76.4 221.5 77.9 222.4 78.5 222.7Z" fill="#4169E1" stroke="#000" stroke-width="0.55" stroke-opacity="0.9"/>
<path d="M56 222.7C57 222.4 60.4 221.1 62.2 220.8C64.1 220.5 65.4 220.5 67.2 220.8C69.1 221.1 72.5 222.4 73.5 222.7Z" fill="#0000CD" stroke="#000" stroke-width="0.55" stroke-opacity="0.9"/>
<path d="M54.9 30.7L107.2 30.7L107.2 33.3L113 33.3L113 45.3L97.9 45.3L97.9 48.4L73.5 48.4L73.5 45.3L64.2 45.3L64.2 42.6L61.1 42.6L61.1 39.5L58 39.5L58 36.9L54.9 36.9Z" fill="#fff"/>
<use href="#coast"/>
</g>
<path d="M1.3 0V-3.5 M1.3 222.1V225.6" stroke="#000" stroke-width="0.45"/>
<path d="M23.1 0V-7.8 M23.1 222.1V229.9" stroke="#000" stroke-width="1.1"/>
<path d="M44.8 0V-3.5 M44.8 222.1V225.6" stroke="#000" stroke-width="0.45"/>
<path d="M66.6 0V-3.5 M66.6 222.1V225.6" stroke="#000" stroke-width="0.45"/>
<path d="M88.3 0V-7.8 M88.3 222.1V229.9" stroke="#000" stroke-width="1.1"/>
<path d="M110.1 0V-3.5 M110.1 222.1V225.6" stroke="#000" stroke-width="0.45"/>
<path d="M131.9 0V-3.5 M131.9 222.1V225.6" stroke="#000" stroke-width="0.45"/>
<path d="M153.6 0V-7.8 M153.6 222.1V229.9" stroke="#000" stroke-width="1.1"/>
<path d="M175.4 0V-3.5 M175.4 222.1V225.6" stroke="#000" stroke-width="0.45"/>
<path d="M197.2 0V-3.5 M197.2 222.1V225.6" stroke="#000" stroke-width="0.45"/>
<path d="M218.9 0V-7.8 M218.9 222.1V229.9" stroke="#000" stroke-width="1.1"/>
<path d="M240.7 0V-3.5 M240.7 222.1V225.6" stroke="#000" stroke-width="0.45"/>
<path d="M0 219.6H-3.5 M241.4 219.6H244.9" stroke="#000" stroke-width="0.45"/>
<path d="M0 197.9H-3.5 M241.4 197.9H244.9" stroke="#000" stroke-width="0.45"/>
<path d="M0 176.2H-7.8 M241.4 176.2H249.2" stroke="#000" stroke-width="1.1"/>
<path d="M0 154.4H-3.5 M241.4 154.4H244.9" stroke="#000" stroke-width="0.45"/>
<path d="M0 132.7H-3.5 M241.4 132.7H244.9" stroke="#000" stroke-width="0.45"/>
<path d="M0 110.9H-7.8 M241.4 110.9H249.2" stroke="#000" stroke-width="1.1"/>
<path d="M0 89.2H-3.5 M241.4 89.2H244.9" stroke="#000" stroke-width="0.45"/>
<path d="M0 67.4H-3.5 M241.4 67.4H244.9" stroke="#000" stroke-width="0.45"/>
<path d="M0 45.7H-7.8 M241.4 45.7H249.2" stroke="#000" stroke-width="1.1"/>
<path d="M0 23.9H-3.5 M241.4 23.9H244.9" stroke="#000" stroke-width="0.45"/>
<path d="M0 2.2H-3.5 M241.4 2.2H244.9" stroke="#000" stroke-width="0.45"/>
<rect x="0" y="0" width="241.4" height="222.1" fill="none" stroke="#000" stroke-width="1.15"/>
<text x="23.1" y="244.7" text-anchor="middle" font-size="10">60E</text>
<text x="88.3" y="244.7" text-anchor="middle" font-size="10">90E</text>
<text x="153.6" y="244.7" text-anchor="middle" font-size="10">120E</text>
<text x="218.9" y="244.7" text-anchor="middle" font-size="10">150E</text>
<text x="-14.8" y="49.3" text-anchor="end" font-size="10">30N</text>
<text x="-14.8" y="114.5" text-anchor="end" font-size="10">0</text>
<text x="-14.8" y="179.8" text-anchor="end" font-size="10">30S</text>
<rect x="252.6" y="2.2" width="14.7" height="13.6" fill="#FF1493" stroke="#000" stroke-width="0.5" stroke-opacity="0.8"/>
<rect x="252.6" y="15.8" width="14.7" height="13.6" fill="#FFB6C1" stroke="#000" stroke-width="0.5" stroke-opacity="0.8"/>
<rect x="252.6" y="29.4" width="14.7" height="13.6" fill="#B22222" stroke="#000" stroke-width="0.5" stroke-opacity="0.8"/>
<rect x="252.6" y="43" width="14.7" height="13.6" fill="#FF4500" stroke="#000" stroke-width="0.5" stroke-opacity="0.8"/>
<rect x="252.6" y="56.6" width="14.7" height="13.6" fill="#FFA500" stroke="#000" stroke-width="0.5" stroke-opacity="0.8"/>
<rect x="252.6" y="70.2" width="14.7" height="13.6" fill="#FFDF00" stroke="#000" stroke-width="0.5" stroke-opacity="0.8"/>
<rect x="252.6" y="83.8" width="14.7" height="13.6" fill="#DEB887" stroke="#000" stroke-width="0.5" stroke-opacity="0.8"/>
<rect x="252.6" y="97.4" width="14.7" height="13.6" fill="#F5E4BD" stroke="#000" stroke-width="0.5" stroke-opacity="0.8"/>
<rect x="252.6" y="111" width="14.7" height="13.6" fill="#2E8B57" stroke="#000" stroke-width="0.5" stroke-opacity="0.8"/>
<rect x="252.6" y="124.6" width="14.7" height="13.6" fill="#9ACD32" stroke="#000" stroke-width="0.5" stroke-opacity="0.8"/>
<rect x="252.6" y="138.2" width="14.7" height="13.6" fill="#20B2AA" stroke="#000" stroke-width="0.5" stroke-opacity="0.8"/>
<rect x="252.6" y="151.8" width="14.7" height="13.6" fill="#B0E0E6" stroke="#000" stroke-width="0.5" stroke-opacity="0.8"/>
<rect x="252.6" y="165.4" width="14.7" height="13.6" fill="#7297EE" stroke="#000" stroke-width="0.5" stroke-opacity="0.8"/>
<rect x="252.6" y="179" width="14.7" height="13.6" fill="#4169E1" stroke="#000" stroke-width="0.5" stroke-opacity="0.8"/>
<rect x="252.6" y="192.6" width="14.7" height="13.6" fill="#0000CD" stroke="#000" stroke-width="0.5" stroke-opacity="0.8"/>
<rect x="252.6" y="206.2" width="14.7" height="13.6" fill="#9370DB" stroke="#000" stroke-width="0.5" stroke-opacity="0.8"/>
<text x="271.4" y="19.5" font-size="10">4450</text>
<text x="271.4" y="33.1" font-size="10">4400</text>
<text x="271.4" y="46.7" font-size="10">4350</text>
<text x="271.4" y="60.3" font-size="10">4300</text>
<text x="271.4" y="73.9" font-size="10">4250</text>
<text x="271.4" y="87.5" font-size="10">4200</text>
<text x="271.4" y="101.1" font-size="10">4150</text>
<text x="271.4" y="114.7" font-size="10">4100</text>
<text x="271.4" y="128.3" font-size="10">4050</text>
<text x="271.4" y="141.9" font-size="10">4000</text>
<text x="271.4" y="155.5" font-size="10">3950</text>
<text x="271.4" y="169.1" font-size="10">3900</text>
<text x="271.4" y="182.7" font-size="10">3850</text>
<text x="271.4" y="196.3" font-size="10">3800</text>
<text x="271.4" y="209.9" font-size="10">3750</text>
<text x="-0.5" y="-11.8" font-size="12.65">600 hPa</text>
<text x="242.4" y="-14.4" text-anchor="end" font-size="12.7">vinth2p: no extrapolation</text>
</g>
<g transform="translate(377.55 31.3)">
<g clip-path="url(#fc)">
<rect x="0" y="0" width="241.4" height="222.1" fill="#FFB6C1"/>
<path d="M-0.5 53.5C1 53.6 5.8 54.1 8.5 54.5C11.2 54.8 12.9 55 16 55.5C19.1 55.9 23.7 56.5 27.2 57C30.8 57.4 34.1 57.7 37.2 58.2C40.4 58.7 43.1 59.3 46 59.7C48.9 60.1 51.8 60.5 54.8 60.7C57.7 60.9 60.4 61.1 63.5 61C66.6 60.8 70.2 60.4 73.5 60.1C76.8 59.8 80.2 59.4 83.5 59.2C86.8 59 90.2 58.8 93.5 58.8C96.8 58.9 100.2 59.2 103.5 59.5C106.8 59.7 110.9 60.2 113.5 60.5C116.1 60.7 116.8 60.7 119 60.7C121.2 60.7 123.8 60.7 126.5 60.5C129.2 60.2 132.3 59.8 135.2 59.5C138.2 59.1 140.9 58.6 144 58.2C147.1 57.8 150.2 57.4 154 57C157.8 56.5 162.3 56 166.5 55.7C170.7 55.4 174.4 55.4 179 55.1C183.6 54.8 189 54.2 194 53.8C199 53.4 203.8 52.9 209 52.6C214.2 52.2 219.7 52 225.2 51.7C230.8 51.4 239.3 50.9 242.1 50.7L243.4 -2L-2 -2Z" fill="#B22222" stroke="#000" stroke-width="0.55" stroke-opacity="0.9"/>
<path d="M-0.5 45.7C1 46 5.3 46.6 8.5 47.2C11.7 47.8 15.2 48.6 18.5 49.2C21.8 49.8 25.2 50.4 28.5 51C31.8 51.5 35.2 52.2 38.5 52.6C41.8 53 45.2 53.2 48.5 53.5C51.8 53.7 54.8 54 58.5 54.1C62.2 54.2 66.8 54.2 71 54.1C75.2 53.9 79.8 53.5 83.5 53.2C87.2 52.9 90.8 52.5 93.5 52.2C96.2 51.9 97.7 51.3 99.8 51.3C101.8 51.3 103.7 51.8 106 52.2C108.3 52.6 111.3 53.5 113.5 53.8C115.7 54.2 117 54.2 119 54.5C121 54.7 123.2 55.3 125.2 55.5C127.3 55.6 129.2 55.8 131.5 55.5C133.8 55.1 136.3 54.1 139 53.5C141.7 52.8 144.8 52 147.8 51.3C150.7 50.7 153.4 50 156.5 49.5C159.6 48.9 162.8 48.5 166.5 48.2C170.2 47.9 174.4 47.7 179 47.6C183.6 47.4 189 47.3 194 47.2C199 47.1 203.8 47.1 209 47C214.2 46.8 219.7 46.6 225.2 46.3C230.8 46.1 239.3 45.6 242.1 45.5L243.4 -2L-2 -2Z" fill="#FF4500" stroke="#000" stroke-width="0.55" stroke-opacity="0.9"/>
<path d="M-0.1 40.1C1.4 40.3 5.7 40.7 8.9 41.3C12.1 42 15.6 43 18.9 43.8C22.2 44.7 25.6 45.6 28.9 46.3C32.2 47.1 35.6 47.7 38.9 48.2C42.2 48.7 45.6 49 48.9 49.2C52.2 49.5 55.6 49.7 58.9 49.7C62.2 49.7 65.6 49.7 68.9 49.5C72.2 49.2 75.6 48.3 78.9 48.2C82.2 48.1 86 48.9 88.9 48.8C91.8 48.8 94.3 48.3 96.4 48C98.5 47.6 99.3 46.8 101.4 46.7C103.5 46.6 106.6 47 108.9 47.2C111.2 47.5 113.5 47.9 115.1 48.2C116.8 48.5 117.7 48.5 119 48.8C120.3 49.1 121.5 49.8 122.8 50.1C124 50.4 125 50.8 126.5 50.7C128 50.6 129.4 50.1 131.5 49.5C133.6 48.8 136.3 47.8 139 47C141.7 46.1 144.8 45.1 147.8 44.5C150.7 43.8 153 43.3 156.5 43C160 42.6 164.8 42.6 169 42.6C173.2 42.6 177.3 42.9 181.5 43C185.7 43 189.4 43.1 194 43C198.6 42.8 203.8 42.5 209 42.2C214.2 41.9 219.7 41.6 225.2 41.3C230.8 41 239.3 40.6 242.1 40.5L243.4 -2L-2 -2Z" fill="#FFA500" stroke="#000" stroke-width="0.55" stroke-opacity="0.9"/>
<path d="M-0.1 34.5C1 34.6 3.9 34.9 6.4 35.5C8.9 36 12.2 36.7 15.1 37.6C18.1 38.5 20.8 39.7 23.9 40.7C27 41.7 30.6 43 33.9 43.8C37.2 44.7 40.6 45.4 43.9 46C47.2 46.5 50.6 46.8 53.9 47C57.2 47.1 60.6 47 63.9 46.7C67.2 46.5 70.6 45.8 73.9 45.5C77.2 45.1 80.6 44.7 83.9 44.5C87.2 44.2 90.6 44.3 93.9 44.2C97.2 44.1 101 44 103.9 43.8C106.8 43.7 108.9 43.8 111.4 43.5C113.9 43.1 116.5 42.2 119 42C121.5 41.7 124 42.1 126.5 42C129 41.8 131.5 41.4 134 41C136.5 40.5 139 39.9 141.5 39.5C144 39 146.1 38.7 149 38.5C151.9 38.2 155.2 38.2 159 38.2C162.8 38.2 167.3 38.3 171.5 38.5C175.7 38.6 179.4 38.8 184 38.8C188.6 38.8 194 38.6 199 38.5C204 38.3 209 38.2 214 38C219 37.7 224.3 37.5 229 37.2C233.7 36.9 239.9 36.5 242.1 36.3L243.4 -2L-2 -2Z" fill="#FFDF00" stroke="#000" stroke-width="0.55" stroke-opacity="0.9"/>
<path d="M-0.1 27.9C0.6 27.9 2.4 27.5 3.9 27.6C5.4 27.7 6.4 27.8 8.9 28.4C11.4 29.1 16 30.3 18.9 31.3C21.8 32.3 23.9 33.2 26.4 34.5C28.9 35.7 31.4 37.5 33.9 38.8C36.4 40.2 38.9 41.7 41.4 42.6C43.9 43.4 46.4 43.6 48.9 43.8C51.4 44.1 53.9 44.3 56.4 44.2C58.9 44.1 61.4 43.6 63.9 43.2C66.4 42.8 68.9 42.2 71.4 41.7C73.9 41.2 76 40.7 78.9 40.5C81.8 40.2 85.6 40.2 88.9 40.1C92.2 40 95.6 39.8 98.9 39.7C102.2 39.6 106 39.4 108.9 39.2C111.8 39 114.7 38.8 116.4 38.5C118.1 38.1 117.3 37.2 119 37C120.7 36.7 124 36.9 126.5 36.7C129 36.5 131.5 36.2 134 35.7C136.5 35.2 139 34.2 141.5 33.8C144 33.4 146.1 33.3 149 33.2C151.9 33.1 155.2 33.1 159 33.2C162.8 33.3 167.3 33.6 171.5 33.8C175.7 34 179.4 34.4 184 34.5C188.6 34.5 194 34.4 199 34.2C204 34 209 33.7 214 33.5C219 33.2 224.3 33.1 229 33C233.7 32.8 239.9 32.6 242.1 32.6L243.4 -2L-2 -2Z" fill="#DEB887" stroke="#000" stroke-width="0.55" stroke-opacity="0.9"/>
<path d="M-0.1 18.8C1 19 3.9 19.6 6.4 20.1C8.9 20.6 12.2 21.2 15.1 21.9C18.1 22.7 21.2 23.6 23.9 24.7C26.6 25.8 29.1 26.9 31.4 28.4C33.7 30 35.8 32.2 37.6 33.8C39.5 35.5 40.8 37.1 42.6 38.2C44.5 39.3 46.6 40.3 48.9 40.7C51.2 41.1 54.1 40.9 56.4 40.7C58.7 40.5 60.6 40 62.6 39.5C64.7 38.9 66.6 38.1 68.9 37.6C71.2 37.1 73.5 36.6 76.4 36.3C79.3 36.1 83.1 36.1 86.4 36C89.7 35.8 93.1 35.7 96.4 35.5C99.7 35.2 103.3 35 106.4 34.7C109.5 34.4 113 34.2 115.1 33.8C117.2 33.5 117.1 33 119 32.6C120.9 32.2 124 31.8 126.5 31.3C129 30.8 131.5 30 134 29.4C136.5 28.9 139 28.4 141.5 28.2C144 27.9 146.1 27.8 149 27.9C151.9 28.1 155.2 28.4 159 28.8C162.8 29.3 167.3 30.2 171.5 30.7C175.7 31.2 179.4 31.8 184 31.9C188.6 32.1 194 31.9 199 31.7C204 31.5 209 31 214 30.7C219 30.4 224.3 29.9 229 29.7C233.7 29.4 239.9 29.3 242.1 29.2L243.4 -2L-2 -2Z" fill="#F5E4BD" stroke="#000" stroke-width="0.55" stroke-opacity="0.9"/>
<path d="M-0.1 11.9C0.6 12.4 2 13.6 3.9 14.4C5.8 15.3 8.5 16.2 11.4 16.9C14.3 17.7 18.1 18.2 21.4 18.8C24.7 19.4 28.5 20 31.4 20.7C34.3 21.4 36.7 22.2 38.9 23.2C41.1 24.2 43.2 25.5 44.5 26.9C45.9 28.4 46.3 30.5 47 31.9C47.8 33.4 48 34.8 48.9 35.7C49.8 36.6 51.2 37.3 52.6 37.6C54.1 37.9 56.2 38 57.6 37.6C59.1 37.2 59.9 35.8 61.4 35.1C62.9 34.3 64.7 33.6 66.4 33.2C68.1 32.8 70.1 33.2 71.4 33C72.6 32.7 72.2 32 73.9 31.7C75.6 31.4 78.5 31.5 81.4 31.3C84.3 31.2 88.1 30.9 91.4 30.7C94.7 30.5 98.5 30.3 101.4 30.1C104.3 29.8 106.6 29.8 108.9 29.2C111.2 28.6 113.5 27.2 115.1 26.3C116.8 25.4 117.1 24.4 119 23.8C120.9 23.2 123.8 22.9 126.5 22.6C129.2 22.3 132.3 22 135.2 21.9C138.2 21.9 140.9 21.9 144 22.2C147.1 22.5 150.7 23.1 154 23.8C157.3 24.5 160.7 25.6 164 26.3C167.3 27.1 170.7 27.9 174 28.4C177.3 29 180.7 29.3 184 29.4C187.3 29.6 190.2 29.4 194 29.2C197.8 29 202.3 28.5 206.5 28.2C210.7 27.9 214.8 27.5 219 27.2C223.2 26.9 227.6 26.5 231.5 26.3C235.4 26.1 240.4 26 242.1 25.9L243.4 -2L-2 -2Z" fill="#2E8B57" stroke="#000" stroke-width="0.55" stroke-opacity="0.9"/>
<path d="M13.5 -1.2C13.5 -0.2 13.4 2.9 13.8 4.4C14.1 6 14.4 7.1 15.4 8.2C16.4 9.3 17.8 10.4 19.8 11.3C21.7 12.3 24.3 13 27.2 13.8C30.2 14.7 33.7 15.6 37.2 16.3C40.8 17.1 44.5 17.7 48.5 18.2C52.5 18.7 56.8 19.1 61 19.4C65.2 19.8 69.8 20.1 73.5 20.1C77.2 20.1 80.2 19.9 83.5 19.4C86.8 19 90.2 17.8 93.5 17.2C96.8 16.6 100.2 16.1 103.5 15.7C106.8 15.3 110.9 14.8 113.5 14.7C116.1 14.6 116.8 14.9 119 15.1C121.2 15.3 123.8 15.6 126.5 15.9C129.2 16.3 132.3 16.7 135.2 17.2C138.2 17.7 140.9 18.1 144 18.8C147.1 19.5 150.7 20.5 154 21.3C157.3 22.2 160.7 23.1 164 23.8C167.3 24.6 170.7 25.4 174 25.9C177.3 26.5 180.7 26.8 184 26.9C187.3 27.1 190.2 26.9 194 26.7C197.8 26.4 202.3 25.9 206.5 25.4C210.7 25 214.8 24.6 219 24.2C223.2 23.8 227.6 23.5 231.5 23.2C235.4 22.9 240.4 22.7 242.1 22.6L243.4 -2Z" fill="#9ACD32" stroke="#000" stroke-width="0.55" stroke-opacity="0.9"/>
<path d="M24.1 -1.2C24.4 -0.4 25.1 1.9 26 3.2C26.9 4.4 28.1 5.4 29.8 6.3C31.4 7.3 33.3 8 36 8.8C38.7 9.7 42.7 10.7 46 11.3C49.3 11.9 52.7 12.5 56 12.6C59.3 12.7 62.7 12.3 66 11.9C69.3 11.6 72.7 10.9 76 10.4C79.3 10 82.7 9.5 86 9.2C89.3 8.9 92.7 8.8 96 8.8C99.3 8.8 102.7 9 106 9.2C109.3 9.4 113.8 9.8 116 10.1C118.2 10.3 117.2 10.5 119 10.7C120.8 10.9 123.8 10.9 126.5 11.3C129.2 11.7 132.3 12.5 135.2 13.2C138.2 13.9 140.9 14.6 144 15.4C147.1 16.3 150.7 17.2 154 18.2C157.3 19.2 160.7 20.4 164 21.3C167.3 22.3 170.7 23.1 174 23.8C177.3 24.5 180.7 25.2 184 25.4C187.3 25.7 190.2 25.7 194 25.4C197.8 25.2 202.3 24.4 206.5 23.8C210.7 23.3 214.8 22.7 219 22.2C223.2 21.7 227.6 21.3 231.5 20.9C235.4 20.6 240.4 20.2 242.1 20.1L243.4 -2Z" fill="#20B2AA" stroke="#000" stroke-width="0.55" stroke-opacity="0.9"/>
<path d="M32.2 -1.2C32.9 -0.4 34.5 2.1 36 3.2C37.5 4.3 38.9 5 41 5.7C43.1 6.4 45.8 6.8 48.5 7.2C51.2 7.6 54.3 7.8 57.2 7.8C60.2 7.8 63.1 7.6 66 7.2C68.9 6.8 72.2 6.1 74.8 5.4C77.2 4.8 79.1 4.3 81 3.2C82.9 2.1 85.2 -0.4 86 -1.2Z" fill="#B0E0E6" stroke="#000" stroke-width="0.55" stroke-opacity="0.9"/>
<path d="M116.5 -1.2C116.9 -0.7 117.8 0.9 119 1.7C120.2 2.5 121.9 2.9 124 3.8C126.1 4.7 128.6 5.8 131.5 6.9C134.4 8.1 138.2 9.4 141.5 10.7C144.8 11.9 148.2 13.2 151.5 14.4C154.8 15.7 158.2 16.9 161.5 17.9C164.8 19 168.2 19.9 171.5 20.7C174.8 21.5 178.2 22.2 181.5 22.6C184.8 23 188.2 23.2 191.5 23.2C194.8 23.2 197.8 23 201.5 22.6C205.2 22.2 209.8 21.3 214 20.7C218.2 20.1 221.8 19.3 226.5 18.8C231.2 18.3 239.5 17.8 242.1 17.6L243.4 -2Z" fill="#B0E0E6" stroke="#000" stroke-width="0.55" stroke-opacity="0.9"/>
<path d="M40.4 -1.2C41.3 -0.5 44 2 46 2.9C48 3.9 50.2 4.2 52.2 4.4C54.3 4.7 56.2 4.8 58.5 4.7C60.8 4.6 63.9 4.3 66 3.8C68.1 3.4 69.6 2.8 71 1.9C72.4 1.1 73.6 -0.7 74.1 -1.2Z" fill="#7297EE" stroke="#000" stroke-width="0.55" stroke-opacity="0.9"/>
<path d="M140.2 -1.2C141.5 -0.4 145 1.6 147.8 3.2C150.5 4.8 153.4 6.5 156.5 8.2C159.6 9.9 163.2 11.6 166.5 13.2C169.8 14.8 173.2 16.4 176.5 17.6C179.8 18.8 183.2 19.8 186.5 20.4C189.8 21.1 193.2 21.7 196.5 21.7C199.8 21.7 202.8 21.3 206.5 20.7C210.2 20.1 214.8 18.9 219 18.2C223.2 17.5 227.6 16.8 231.5 16.3C235.4 15.8 240.4 15.3 242.1 15.1L243.4 -2Z" fill="#7297EE" stroke="#000" stroke-width="0.55" stroke-opacity="0.9"/>
<path d="M176.5 -1.2C175.7 -0.8 173.3 0.3 171.5 0.9C169.7 1.6 165.9 1.9 165.9 2.9C165.9 3.9 169.3 5.4 171.5 6.9C173.7 8.4 176.1 10.4 179 11.9C181.9 13.5 185.7 15.2 189 16.3C192.3 17.5 195.7 18.6 199 18.8C202.3 19 205.7 18.1 209 17.6C212.3 17 215.2 16.2 219 15.4C222.8 14.7 227.6 13.8 231.5 13.2C235.4 12.6 240.4 12.2 242.1 11.9L243.4 -2Z" fill="#4169E1" stroke="#000" stroke-width="0.55" stroke-opacity="0.9"/>
<path d="M194.6 -1.2C194.2 -0.2 192.4 2.9 192.1 4.4C191.8 6 192 6.9 192.8 8.2C193.5 9.4 194.6 10.9 196.5 11.9C198.4 13 201.5 13.9 204 14.4C206.5 15 209 15.6 211.5 15.4C214 15.3 216.1 14.5 219 13.8C221.9 13.1 225.1 12.1 229 11.3C232.9 10.6 239.9 9.6 242.1 9.2L243.4 -2Z" fill="#0000CD" stroke="#000" stroke-width="0.55" stroke-opacity="0.9"/>
<path d="M213.4 -1.2C212.4 -0.2 209.1 3 207.8 4.4C206.4 5.9 205.2 6.7 205.2 7.6C205.2 8.4 206.3 9.2 207.8 9.7C209.2 10.2 211.7 10.6 214 10.4C216.3 10.3 219 9.5 221.5 8.8C224 8.1 226.5 6.9 229 6.3C231.5 5.7 234.3 5.3 236.5 5.1C238.7 4.8 241.2 4.8 242.1 4.7L243.4 -2Z" fill="#9370DB" stroke="#000" stroke-width="0.55" stroke-opacity="0.9"/>
<path d="M242.8 58C239.8 58 230 58 225.2 58.2C220.5 58.5 217.1 58.8 214 59.5C210.9 60.1 208.8 61 206.5 61.8C204.2 62.6 202.3 63.3 200.2 64.3C198.2 65.4 195.5 66.7 194 68.1C192.5 69.4 191.5 71 191.5 72.5C191.5 73.9 192.8 75.5 194 76.8C195.2 78.1 196.9 79.5 199 80.2C201.1 80.9 204 80.8 206.5 81C209 81.1 211.5 80.7 214 81.2C216.5 81.7 219 82.9 221.5 83.7C224 84.5 226.5 85.6 229 86.2C231.5 86.8 234.2 87 236.5 87.2C238.8 87.4 241.7 87.2 242.8 87.2Z" fill="#FF1493" stroke="#000" stroke-width="0.55" stroke-opacity="0.9"/>
<path d="M7.9 108.7C8.8 108.2 11.1 108.1 12.2 107.7C13.4 107.3 13.9 107.1 14.8 106.2C15.6 105.3 16.2 103.3 17.2 102.5C18.3 101.6 19.6 101.3 21 101C22.4 100.6 24 100.2 25.4 100.6C26.7 100.9 28.2 102.2 29.1 103.1C30.1 104 31.1 105.1 31 106C30.9 106.8 29.5 107.5 28.5 108.1C27.5 108.6 25.8 108.7 24.8 109.3C23.7 110 22.8 110.8 22.2 111.8C21.7 112.9 22.1 114.4 21.6 115.6C21.1 116.7 20.1 118.1 19.1 118.7C18.2 119.3 16.8 119.5 16 119.3C15.2 119.1 14.6 118.4 14.5 117.5C14.4 116.5 15.5 114.7 15.4 113.7C15.2 112.7 14.3 111.2 13.5 111.2C12.7 111.2 11.3 113.4 10.4 113.7C9.4 114 8.4 113.5 7.9 113.1C7.3 112.6 7 111.7 7 111C7 110.2 7 109.2 7.9 108.7Z" fill="#B22222" stroke="#000" stroke-width="0.55" stroke-opacity="0.9"/>
<path d="M-1.5 130.8C-0.2 130.7 4.1 131.1 6 130.6C7.9 130 8.3 128.5 9.8 127.5C11.2 126.4 12.9 124.9 14.8 124.3C16.6 123.7 19.1 124 21 124C22.9 123.9 24.5 123.5 26 124C27.5 124.4 28.6 125.7 29.8 126.8C30.9 127.9 32.4 129 32.9 130.6C33.3 132.1 32.7 134.6 32.5 136.2C32.3 137.8 32.5 139 31.6 139.9C30.8 140.9 29 141.4 27.2 141.8C25.5 142.2 22.9 142.5 21 142.4C19.1 142.4 17.6 142 16 141.4C14.4 140.9 12.9 140.1 11.6 139.3C10.4 138.6 9 137.9 8.5 136.8C8 135.8 8.8 134 8.5 133.1C8.2 132.2 8.3 131.6 6.6 131.3C5 131 -0.1 131.3 -1.5 131.2C-2.9 131.1 -2.8 130.9 -1.5 130.8Z" fill="#B22222" stroke="#000" stroke-width="0.55" stroke-opacity="0.9"/>
<path d="M-0.5 198.7C1 198.5 5.8 198 8.5 197.4C11.2 196.9 13.5 196.4 16 195.6C18.5 194.7 21.6 193.7 23.5 192.4C25.4 191.2 26 189.5 27.2 188.1C28.5 186.6 29.5 184.8 31 183.7C32.5 182.6 33.5 181.9 36 181.2C38.5 180.5 42.7 179.7 46 179.3C49.3 178.9 52.7 178.9 56 178.7C59.3 178.5 62.7 178.2 66 178.1C69.3 177.9 72.7 178 76 177.7C79.3 177.4 82.7 176.9 86 176.2C89.3 175.5 92.7 174.5 96 173.4C99.3 172.4 102.9 171.3 106 169.9C109.1 168.6 112.6 166.8 114.8 165.6C116.9 164.3 117 163.7 119 162.4C121 161.2 124 159.6 126.5 158.1C129 156.5 131.5 154.6 134 153.1C136.5 151.5 139 149.8 141.5 148.7C144 147.6 146.5 146.9 149 146.2C151.5 145.5 154.2 144.8 156.5 144.7C158.8 144.6 160.7 144.9 162.8 145.6C164.8 146.2 166.9 147.4 169 148.7C171.1 149.9 173.3 151.9 175.2 153.1C177.2 154.2 180.2 154.4 180.9 155.6C181.5 156.7 179.8 158.5 179 159.9C178.2 161.4 176.7 162.9 175.9 164.3C175 165.8 174.3 167.1 174 168.7C173.7 170.3 173.4 172.2 174 173.7C174.6 175.2 176.3 176.3 177.8 177.4C179.2 178.6 181.5 179.5 182.8 180.6C184 181.6 185 182.6 185.2 183.7C185.5 184.8 184.7 186.1 184 187.4C183.3 188.8 181.5 190.4 180.9 191.8C180.2 193.3 180 195.4 180 196.2C180 197 180.2 197.2 180.9 196.8C181.5 196.4 182.6 194.5 184 193.7C185.4 192.9 186.9 192.4 189 191.8C191.1 191.2 194 190.6 196.5 189.9C199 189.3 201.5 189 204 188.1C206.5 187.1 209.5 185.6 211.5 184.3C213.5 183.1 215 181.8 215.9 180.6C216.7 179.3 216.7 178.2 216.5 176.8C216.3 175.5 215.4 174.2 214.6 172.4C213.9 170.7 212.6 167.9 212.1 166.2C211.6 164.5 211.5 164.1 211.5 162.4C211.5 160.8 211.9 157.8 212.1 156.2C212.3 154.6 211.8 154.4 212.8 153.1C213.7 151.7 215.9 149.3 217.8 148.1C219.6 146.8 221.7 146 224 145.6C226.3 145.2 228.5 145.7 231.5 145.6C234.5 145.5 240.4 145.1 242.1 144.9L243.4 224.1L-2 224.1Z" fill="#B22222" stroke="#000" stroke-width="0.55" stroke-opacity="0.9"/>
<path d="M-0.5 206.2C1 205.9 5.3 205.1 8.5 204.3C11.7 203.6 15.2 202.8 18.5 201.8C21.8 200.9 25.2 199.7 28.5 198.7C31.8 197.7 35.2 196.5 38.5 195.6C41.8 194.6 45.2 193.8 48.5 193.1C51.8 192.4 54.8 191.8 58.5 191.4C62.2 191.1 66.8 191.2 71 190.9C75.2 190.7 79.8 190.2 83.5 189.7C87.2 189.2 90.2 188.6 93.5 188.1C96.8 187.6 100.2 187.2 103.5 186.8C106.8 186.5 110.9 186 113.5 185.9C116.1 185.9 117.2 186.3 119 186.4C120.8 186.6 122.3 186.2 124 186.8C125.7 187.4 127.1 188.6 129 189.9C130.9 191.3 132.8 193.1 135.2 194.9C137.8 196.8 140.9 199.3 144 201.2C147.1 203.1 150.7 204.7 154 206.2C157.3 207.7 160.7 208.9 164 209.9C167.3 211 170.7 211.8 174 212.4C177.3 213.1 180.7 213.5 184 213.7C187.3 213.9 190.7 213.9 194 213.4C197.3 213 200.7 212.1 204 211.2C207.3 210.3 210.9 209 214 208.1C217.1 207.1 220.5 206.4 222.8 205.6C225 204.7 226.5 204.4 227.8 203.1C229 201.7 229.2 199 230.2 197.4C231.3 195.9 232 194.6 234 193.7C236 192.8 240.8 192.1 242.1 191.8L243.4 224.1L-2 224.1Z" fill="#FF4500" stroke="#000" stroke-width="0.55" stroke-opacity="0.9"/>
<path d="M-0.5 211.2C1 210.9 5.3 210.3 8.5 209.7C11.7 209.1 15.2 208.2 18.5 207.4C21.8 206.7 25.2 205.8 28.5 204.9C31.8 204.1 35.2 203.2 38.5 202.4C41.8 201.7 45.2 201.1 48.5 200.6C51.8 200.1 54.8 199.6 58.5 199.3C62.2 199 66.8 198.9 71 198.7C75.2 198.5 79.8 198.5 83.5 198.1C87.2 197.7 90.2 196.8 93.5 196.2C96.8 195.6 100.2 195 103.5 194.7C106.8 194.4 110.9 194.2 113.5 194.3C116.1 194.5 117.2 195.2 119 195.6C120.8 196 122.3 196.2 124 196.8C125.7 197.4 127.1 198.2 129 199.3C130.9 200.5 132.8 202.1 135.2 203.7C137.8 205.3 140.9 207.2 144 208.7C147.1 210.2 150.7 211.3 154 212.4C157.3 213.6 160.7 214.7 164 215.6C167.3 216.4 170.7 217 174 217.4C177.3 217.9 180.7 218.3 184 218.4C187.3 218.6 190.7 218.6 194 218.4C197.3 218.3 200.7 218 204 217.7C207.3 217.4 210.7 216.9 214 216.4C217.3 215.9 221.1 215.4 224 214.7C226.9 214 229.2 213.2 231.5 212.4C233.8 211.7 236 210.7 237.8 209.9C239.5 209.2 241.4 208.4 242.1 208.1L243.4 224.1L-2 224.1Z" fill="#FFA500" stroke="#000" stroke-width="0.55" stroke-opacity="0.9"/>
<path d="M-0.5 214.7C1 214.4 5.3 213.7 8.5 213.1C11.7 212.4 15.2 211.7 18.5 210.9C21.8 210.2 25.2 209.5 28.5 208.7C31.8 207.9 35.2 206.9 38.5 206.2C41.8 205.5 45.2 204.8 48.5 204.3C51.8 203.9 54.8 203.6 58.5 203.4C62.2 203.3 66.8 203.4 71 203.4C75.2 203.4 79.8 203.7 83.5 203.4C87.2 203.2 90.2 202.3 93.5 201.8C96.8 201.3 100.2 200.8 103.5 200.6C106.8 200.4 110.9 200.4 113.5 200.6C116.1 200.8 117.2 201.4 119 201.8C120.8 202.2 122.1 202.2 124 203.1C125.9 203.9 128 205.5 130.2 206.8C132.5 208.2 135 209.8 137.8 211.2C140.5 212.6 143.4 214.1 146.5 215.2C149.6 216.3 153.2 217.3 156.5 218.1C159.8 218.9 163.2 219.5 166.5 219.9C169.8 220.4 173.2 220.7 176.5 220.9C179.8 221.2 183.2 221.4 186.5 221.4C189.8 221.5 193.2 221.5 196.5 221.4C199.8 221.4 203.2 221.2 206.5 220.9C209.8 220.7 213.2 220.4 216.5 219.9C219.8 219.5 223.6 219 226.5 218.4C229.4 217.9 231.4 217.4 234 216.8C236.6 216.2 240.8 215.3 242.1 214.9L243.4 224.1L-2 224.1Z" fill="#FFDF00" stroke="#000" stroke-width="0.55" stroke-opacity="0.9"/>
<path d="M-0.5 217.4C1 217.2 5.3 216.6 8.5 215.9C11.7 215.3 15.2 214.5 18.5 213.7C21.8 212.9 25.2 212 28.5 211.2C31.8 210.4 35.2 209.4 38.5 208.7C41.8 208 45.2 207.3 48.5 206.8C51.8 206.4 54.8 206 58.5 205.9C62.2 205.9 66.8 206.3 71 206.4C75.2 206.6 79.8 206.8 83.5 206.8C87.2 206.8 90.2 206.7 93.5 206.4C96.8 206.2 100.2 205.8 103.5 205.6C106.8 205.4 110.9 205.1 113.5 205.2C116.1 205.3 117.2 205.6 119 205.9C120.8 206.3 122.1 206.7 124 207.4C125.9 208.2 128 209.4 130.2 210.6C132.5 211.8 135 213.4 137.8 214.7C140.5 216 143.4 217.5 146.5 218.4C149.6 219.4 153.4 219.9 156.5 220.6C159.6 221.3 163.8 222.3 165.2 222.7L-2 224.1Z" fill="#DEB887" stroke="#000" stroke-width="0.55" stroke-opacity="0.9"/>
<path d="M217.8 222.7C219.6 222.4 225.9 221.4 229 220.9C232.1 220.4 234.3 220.1 236.5 219.7C238.7 219.3 241.2 218.9 242.1 218.7L243.4 224.1Z" fill="#DEB887" stroke="#000" stroke-width="0.55" stroke-opacity="0.9"/>
<path d="M-0.5 219.3C1 219.1 5.3 218.6 8.5 218.1C11.7 217.5 15.2 216.7 18.5 215.9C21.8 215.2 25.2 214.3 28.5 213.4C31.8 212.6 35.2 211.7 38.5 210.9C41.8 210.2 45.2 209.4 48.5 208.9C51.8 208.5 54.8 208.1 58.5 208.1C62.2 208 66.8 208.3 71 208.7C75.2 209.1 79.8 209.9 83.5 210.2C87.2 210.5 90.2 210.6 93.5 210.6C96.8 210.6 100.2 210.3 103.5 210.2C106.8 210.1 110.9 209.7 113.5 209.7C116.1 209.7 117.2 209.7 119 209.9C120.8 210.2 122.1 210.5 124 211.2C125.9 211.9 128 213.2 130.2 214.3C132.5 215.5 135 217 137.8 218.1C140.5 219.2 144 220.2 146.5 220.9C149 221.7 151.7 222.4 152.8 222.7L-2 224.1Z" fill="#F5E4BD" stroke="#000" stroke-width="0.55" stroke-opacity="0.9"/>
<path d="M235.2 222.7 L242.1 220.6L243.4 224.1Z" fill="#F5E4BD" stroke="#000" stroke-width="0.55" stroke-opacity="0.9"/>
<path d="M-0.5 221.2C1 221 5.3 220.7 8.5 220.2C11.7 219.7 15.2 219.2 18.5 218.4C21.8 217.7 25.2 216.5 28.5 215.6C31.8 214.7 35.2 213.8 38.5 213.1C41.8 212.3 45.2 211.5 48.5 210.9C51.8 210.4 55.2 210.1 58.5 209.9C61.8 209.8 65.2 209.8 68.5 210.2C71.8 210.6 75.2 211.8 78.5 212.4C81.8 213.1 85.2 213.9 88.5 214.3C91.8 214.7 95.2 214.9 98.5 214.9C101.8 215 105.1 214.7 108.5 214.7C111.9 214.7 116.4 214.9 119 215.2C121.6 215.5 122.1 215.8 124 216.4C125.9 217.1 128.2 218.2 130.2 218.9C132.3 219.7 134.8 220.6 136.5 221.2C138.2 221.8 139.6 222.4 140.2 222.7L-2 224.1Z" fill="#2E8B57" stroke="#000" stroke-width="0.55" stroke-opacity="0.9"/>
<path d="M17.2 222.7C18.7 222.1 23.3 220.4 26 219.3C28.7 218.3 30.6 217.4 33.5 216.4C36.4 215.5 40.2 214.4 43.5 213.7C46.8 213 50.2 212.5 53.5 212.2C56.8 211.9 60.2 211.6 63.5 211.8C66.8 212.1 70.2 212.9 73.5 213.7C76.8 214.5 80.2 216 83.5 216.8C86.8 217.6 90.2 218 93.5 218.4C96.8 218.9 100.2 219.1 103.5 219.3C106.8 219.5 110.9 219.6 113.5 219.7C116.1 219.8 117.5 219.7 119 219.9C120.5 220.2 121.5 220.5 122.8 220.9C124 221.4 125.9 222.4 126.5 222.7Z" fill="#9ACD32" stroke="#000" stroke-width="0.55" stroke-opacity="0.9"/>
<path d="M26 222.7C27.5 222 31.8 219.8 34.8 218.7C37.7 217.6 40.4 216.8 43.5 215.9C46.6 215.1 50.2 214.1 53.5 213.7C56.8 213.3 60.2 213.1 63.5 213.4C66.8 213.8 70.6 214.7 73.5 215.6C76.4 216.4 78.5 217.6 81 218.4C83.5 219.3 86 219.9 88.5 220.6C91 221.3 94.8 222.3 96 222.7Z" fill="#20B2AA" stroke="#000" stroke-width="0.55" stroke-opacity="0.9"/>
<path d="M36 222.7C37.2 222.1 41 220.3 43.5 219.3C46 218.3 48.1 217.4 51 216.8C53.9 216.2 58.1 215.7 61 215.6C63.9 215.4 66 215.5 68.5 215.9C71 216.4 73.7 217.3 76 218.1C78.3 218.8 80.4 219.8 82.2 220.6C84.1 221.3 86.4 222.3 87.2 222.7Z" fill="#B0E0E6" stroke="#000" stroke-width="0.55" stroke-opacity="0.9"/>
<path d="M44.8 222.7C45.8 222.1 48.7 220.2 51 219.3C53.3 218.4 56 217.6 58.5 217.2C61 216.8 63.5 216.9 66 217.2C68.5 217.4 71.4 218.1 73.5 218.7C75.6 219.3 76.8 219.9 78.5 220.6C80.2 221.2 82.7 222.3 83.5 222.7Z" fill="#7297EE" stroke="#000" stroke-width="0.55" stroke-opacity="0.9"/>
<path d="M49.8 222.7C50.8 222.2 53.9 220.6 56 219.9C58.1 219.3 60.2 219.1 62.2 218.9C64.3 218.8 66.4 219 68.5 219.3C70.6 219.7 73.1 220.4 74.8 220.9C76.4 221.5 77.9 222.4 78.5 222.7Z" fill="#4169E1" stroke="#000" stroke-width="0.55" stroke-opacity="0.9"/>
<path d="M56 222.7C57 222.4 60.4 221.1 62.2 220.8C64.1 220.5 65.4 220.5 67.2 220.8C69.1 221.1 72.5 222.4 73.5 222.7Z" fill="#0000CD" stroke="#000" stroke-width="0.55" stroke-opacity="0.9"/>
<use href="#coast"/>
</g>
<path d="M1.3 0V-3.5 M1.3 222.1V225.6" stroke="#000" stroke-width="0.45"/>
<path d="M23.1 0V-7.8 M23.1 222.1V229.9" stroke="#000" stroke-width="1.1"/>
<path d="M44.8 0V-3.5 M44.8 222.1V225.6" stroke="#000" stroke-width="0.45"/>
<path d="M66.6 0V-3.5 M66.6 222.1V225.6" stroke="#000" stroke-width="0.45"/>
<path d="M88.3 0V-7.8 M88.3 222.1V229.9" stroke="#000" stroke-width="1.1"/>
<path d="M110.1 0V-3.5 M110.1 222.1V225.6" stroke="#000" stroke-width="0.45"/>
<path d="M131.9 0V-3.5 M131.9 222.1V225.6" stroke="#000" stroke-width="0.45"/>
<path d="M153.6 0V-7.8 M153.6 222.1V229.9" stroke="#000" stroke-width="1.1"/>
<path d="M175.4 0V-3.5 M175.4 222.1V225.6" stroke="#000" stroke-width="0.45"/>
<path d="M197.2 0V-3.5 M197.2 222.1V225.6" stroke="#000" stroke-width="0.45"/>
<path d="M218.9 0V-7.8 M218.9 222.1V229.9" stroke="#000" stroke-width="1.1"/>
<path d="M240.7 0V-3.5 M240.7 222.1V225.6" stroke="#000" stroke-width="0.45"/>
<path d="M0 219.6H-3.5 M241.4 219.6H244.9" stroke="#000" stroke-width="0.45"/>
<path d="M0 197.9H-3.5 M241.4 197.9H244.9" stroke="#000" stroke-width="0.45"/>
<path d="M0 176.2H-7.8 M241.4 176.2H249.2" stroke="#000" stroke-width="1.1"/>
<path d="M0 154.4H-3.5 M241.4 154.4H244.9" stroke="#000" stroke-width="0.45"/>
<path d="M0 132.7H-3.5 M241.4 132.7H244.9" stroke="#000" stroke-width="0.45"/>
<path d="M0 110.9H-7.8 M241.4 110.9H249.2" stroke="#000" stroke-width="1.1"/>
<path d="M0 89.2H-3.5 M241.4 89.2H244.9" stroke="#000" stroke-width="0.45"/>
<path d="M0 67.4H-3.5 M241.4 67.4H244.9" stroke="#000" stroke-width="0.45"/>
<path d="M0 45.7H-7.8 M241.4 45.7H249.2" stroke="#000" stroke-width="1.1"/>
<path d="M0 23.9H-3.5 M241.4 23.9H244.9" stroke="#000" stroke-width="0.45"/>
<path d="M0 2.2H-3.5 M241.4 2.2H244.9" stroke="#000" stroke-width="0.45"/>
<rect x="0" y="0" width="241.4" height="222.1" fill="none" stroke="#000" stroke-width="1.15"/>
<text x="23.1" y="244.7" text-anchor="middle" font-size="10">60E</text>
<text x="88.3" y="244.7" text-anchor="middle" font-size="10">90E</text>
<text x="153.6" y="244.7" text-anchor="middle" font-size="10">120E</text>
<text x="218.9" y="244.7" text-anchor="middle" font-size="10">150E</text>
<text x="-14.8" y="49.3" text-anchor="end" font-size="10">30N</text>
<text x="-14.8" y="114.5" text-anchor="end" font-size="10">0</text>
<text x="-14.8" y="179.8" text-anchor="end" font-size="10">30S</text>
<rect x="252.6" y="2.2" width="14.7" height="13.6" fill="#FF1493" stroke="#000" stroke-width="0.5" stroke-opacity="0.8"/>
<rect x="252.6" y="15.8" width="14.7" height="13.6" fill="#FFB6C1" stroke="#000" stroke-width="0.5" stroke-opacity="0.8"/>
<rect x="252.6" y="29.4" width="14.7" height="13.6" fill="#B22222" stroke="#000" stroke-width="0.5" stroke-opacity="0.8"/>
<rect x="252.6" y="43" width="14.7" height="13.6" fill="#FF4500" stroke="#000" stroke-width="0.5" stroke-opacity="0.8"/>
<rect x="252.6" y="56.6" width="14.7" height="13.6" fill="#FFA500" stroke="#000" stroke-width="0.5" stroke-opacity="0.8"/>
<rect x="252.6" y="70.2" width="14.7" height="13.6" fill="#FFDF00" stroke="#000" stroke-width="0.5" stroke-opacity="0.8"/>
<rect x="252.6" y="83.8" width="14.7" height="13.6" fill="#DEB887" stroke="#000" stroke-width="0.5" stroke-opacity="0.8"/>
<rect x="252.6" y="97.4" width="14.7" height="13.6" fill="#F5E4BD" stroke="#000" stroke-width="0.5" stroke-opacity="0.8"/>
<rect x="252.6" y="111" width="14.7" height="13.6" fill="#2E8B57" stroke="#000" stroke-width="0.5" stroke-opacity="0.8"/>
<rect x="252.6" y="124.6" width="14.7" height="13.6" fill="#9ACD32" stroke="#000" stroke-width="0.5" stroke-opacity="0.8"/>
<rect x="252.6" y="138.2" width="14.7" height="13.6" fill="#20B2AA" stroke="#000" stroke-width="0.5" stroke-opacity="0.8"/>
<rect x="252.6" y="151.8" width="14.7" height="13.6" fill="#B0E0E6" stroke="#000" stroke-width="0.5" stroke-opacity="0.8"/>
<rect x="252.6" y="165.4" width="14.7" height="13.6" fill="#7297EE" stroke="#000" stroke-width="0.5" stroke-opacity="0.8"/>
<rect x="252.6" y="179" width="14.7" height="13.6" fill="#4169E1" stroke="#000" stroke-width="0.5" stroke-opacity="0.8"/>
<rect x="252.6" y="192.6" width="14.7" height="13.6" fill="#0000CD" stroke="#000" stroke-width="0.5" stroke-opacity="0.8"/>
<rect x="252.6" y="206.2" width="14.7" height="13.6" fill="#9370DB" stroke="#000" stroke-width="0.5" stroke-opacity="0.8"/>
<text x="271.4" y="19.5" font-size="10">4450</text>
<text x="271.4" y="33.1" font-size="10">4400</text>
<text x="271.4" y="46.7" font-size="10">4350</text>
<text x="271.4" y="60.3" font-size="10">4300</text>
<text x="271.4" y="73.9" font-size="10">4250</text>
<text x="271.4" y="87.5" font-size="10">4200</text>
<text x="271.4" y="101.1" font-size="10">4150</text>
<text x="271.4" y="114.7" font-size="10">4100</text>
<text x="271.4" y="128.3" font-size="10">4050</text>
<text x="271.4" y="141.9" font-size="10">4000</text>
<text x="271.4" y="155.5" font-size="10">3950</text>
<text x="271.4" y="169.1" font-size="10">3900</text>
<text x="271.4" y="182.7" font-size="10">3850</text>
<text x="271.4" y="196.3" font-size="10">3800</text>
<text x="271.4" y="209.9" font-size="10">3750</text>
<text x="-0.5" y="-11.8" font-size="12.65">600 hPa</text>
<text x="242.4" y="-14.4" text-anchor="end" font-size="12.7">poisson_grid_fill</text>
</g>
<g transform="translate(714.15 31.3)">
<g clip-path="url(#fc)">
<rect x="0" y="0" width="241.4" height="222.1" fill="#FFB6C1"/>
<path d="M-0.5 53.5C1 53.6 5.8 54.1 8.5 54.5C11.2 54.8 12.9 55 16 55.5C19.1 55.9 23.7 56.5 27.2 57C30.8 57.4 34.1 57.7 37.2 58.2C40.4 58.7 43.1 59.3 46 59.7C48.9 60.1 51.8 60.5 54.8 60.7C57.7 60.9 60.4 61.1 63.5 61C66.6 60.8 70.2 60.4 73.5 60.1C76.8 59.8 80.2 59.4 83.5 59.2C86.8 59 90.2 58.8 93.5 58.8C96.8 58.9 100.2 59.2 103.5 59.5C106.8 59.7 110.9 60.2 113.5 60.5C116.1 60.7 116.8 60.7 119 60.7C121.2 60.7 123.8 60.7 126.5 60.5C129.2 60.2 132.3 59.8 135.2 59.5C138.2 59.1 140.9 58.6 144 58.2C147.1 57.8 150.2 57.4 154 57C157.8 56.5 162.3 56 166.5 55.7C170.7 55.4 174.4 55.4 179 55.1C183.6 54.8 189 54.2 194 53.8C199 53.4 203.8 52.9 209 52.6C214.2 52.2 219.7 52 225.2 51.7C230.8 51.4 239.3 50.9 242.1 50.7L243.4 -2L-2 -2Z" fill="#B22222" stroke="#000" stroke-width="0.55" stroke-opacity="0.9"/>
<path d="M-0.5 45.7C1 46 5.3 46.6 8.5 47.2C11.7 47.8 15.2 48.6 18.5 49.2C21.8 49.8 25.2 50.4 28.5 51C31.8 51.5 35.2 52.2 38.5 52.6C41.8 53 45.2 53.2 48.5 53.5C51.8 53.7 54.8 54 58.5 54.1C62.2 54.2 66.8 54.2 71 54.1C75.2 53.9 79.8 53.5 83.5 53.2C87.2 52.9 90.8 52.5 93.5 52.2C96.2 51.9 97.7 51.3 99.8 51.3C101.8 51.3 103.7 51.8 106 52.2C108.3 52.6 111.3 53.5 113.5 53.8C115.7 54.2 117 54.2 119 54.5C121 54.7 123.2 55.3 125.2 55.5C127.3 55.6 129.2 55.8 131.5 55.5C133.8 55.1 136.3 54.1 139 53.5C141.7 52.8 144.8 52 147.8 51.3C150.7 50.7 153.4 50 156.5 49.5C159.6 48.9 162.8 48.5 166.5 48.2C170.2 47.9 174.4 47.7 179 47.6C183.6 47.4 189 47.3 194 47.2C199 47.1 203.8 47.1 209 47C214.2 46.8 219.7 46.6 225.2 46.3C230.8 46.1 239.3 45.6 242.1 45.5L243.4 -2L-2 -2Z" fill="#FF4500" stroke="#000" stroke-width="0.55" stroke-opacity="0.9"/>
<path d="M-0.7 40.1C0.8 40.3 5.1 40.7 8.3 41.3C11.5 42 15 43 18.3 43.8C21.6 44.7 25 45.6 28.3 46.3C31.6 47.1 35 47.7 38.3 48.2C41.6 48.7 45 49 48.3 49.2C51.6 49.5 55 49.7 58.3 49.7C61.6 49.7 65 49.6 68.3 49.5C71.6 49.3 75 48.9 78.3 48.8C81.6 48.7 85.4 49 88.3 48.8C91.2 48.7 93.7 48.3 95.8 48C97.9 47.6 98.7 46.8 100.8 46.7C102.9 46.6 106 47 108.3 47.2C110.6 47.5 112.8 47.9 114.5 48.2C116.3 48.5 117.6 48.5 119 48.8C120.4 49.1 121.5 49.8 122.8 50.1C124 50.4 125 50.8 126.5 50.7C128 50.6 129.4 50.1 131.5 49.5C133.6 48.8 136.3 47.8 139 47C141.7 46.1 144.8 45.1 147.8 44.5C150.7 43.8 153 43.3 156.5 43C160 42.6 164.8 42.6 169 42.6C173.2 42.6 177.3 42.9 181.5 43C185.7 43 189.4 43.1 194 43C198.6 42.8 203.8 42.5 209 42.2C214.2 41.9 219.7 41.6 225.2 41.3C230.8 41 239.3 40.6 242.1 40.5L243.4 -2L-2 -2Z" fill="#FFA500" stroke="#000" stroke-width="0.55" stroke-opacity="0.9"/>
<path d="M-0.7 34.5C0.4 34.6 3.3 34.9 5.8 35.5C8.3 36 11.6 36.7 14.5 37.6C17.5 38.5 20.2 39.7 23.3 40.7C26.4 41.7 30 43 33.3 43.8C36.6 44.7 40 45.4 43.3 46C46.6 46.5 50 46.9 53.3 47C56.6 47 60 46.6 63.3 46.3C66.6 46.1 70 45.7 73.3 45.5C76.6 45.2 80 45 83.3 44.7C86.6 44.4 90.2 44.2 93.3 43.8C96.4 43.4 99.1 42.3 102 42.2C105 42.1 108.5 42.8 110.8 43C113.1 43.1 114.4 43.4 115.8 43.2C117.2 43 117.2 42.2 119 42C120.8 41.7 124 42.1 126.5 42C129 41.8 131.5 41.4 134 41C136.5 40.5 139 39.9 141.5 39.5C144 39 146.1 38.7 149 38.5C151.9 38.2 155.2 38.2 159 38.2C162.8 38.2 167.3 38.3 171.5 38.5C175.7 38.6 179.4 38.8 184 38.8C188.6 38.8 194 38.6 199 38.5C204 38.3 209 38.2 214 38C219 37.7 224.3 37.5 229 37.2C233.7 36.9 239.9 36.5 242.1 36.3L243.4 -2L-2 -2Z" fill="#FFDF00" stroke="#000" stroke-width="0.55" stroke-opacity="0.9"/>
<path d="M-0.7 27.9C-0 27.9 1.8 27.5 3.3 27.6C4.8 27.7 5.8 27.8 8.3 28.4C10.8 29.1 15.4 30.3 18.3 31.3C21.2 32.3 23.3 33.2 25.8 34.5C28.3 35.7 30.8 37.5 33.3 38.8C35.8 40.2 38.3 41.7 40.8 42.6C43.3 43.4 45.8 43.6 48.3 43.8C50.8 44.1 53.3 44.3 55.8 44.2C58.3 44.1 60.8 43.7 63.3 43.5C65.8 43.2 68.3 43.2 70.8 43C73.3 42.7 75.8 42.2 78.3 41.7C80.8 41.2 82.9 40.6 85.8 40.1C88.7 39.6 92.9 39.1 95.8 38.8C98.7 38.5 100.8 38.2 103.3 38.2C105.8 38.2 108.7 38.7 110.8 38.8C112.9 38.9 114.4 39.1 115.8 38.8C117.2 38.5 117.2 37.3 119 37C120.8 36.6 124 36.9 126.5 36.7C129 36.5 131.5 36.2 134 35.7C136.5 35.2 139 34.2 141.5 33.8C144 33.4 146.1 33.3 149 33.2C151.9 33.1 155.2 33.1 159 33.2C162.8 33.3 167.3 33.6 171.5 33.8C175.7 34 179.4 34.4 184 34.5C188.6 34.5 194 34.4 199 34.2C204 34 209 33.7 214 33.5C219 33.2 224.3 33.1 229 33C233.7 32.8 239.9 32.6 242.1 32.6L243.4 -2L-2 -2Z" fill="#DEB887" stroke="#000" stroke-width="0.55" stroke-opacity="0.9"/>
<path d="M-0.7 18.8C0.4 19 3.3 19.6 5.8 20.1C8.3 20.6 11.6 21.2 14.5 21.9C17.5 22.7 20.6 23.6 23.3 24.7C26 25.8 28.5 26.9 30.8 28.4C33.1 30 35.2 32.2 37 33.8C38.9 35.5 40.2 37.1 42 38.2C43.9 39.3 46 40.2 48.3 40.7C50.6 41.2 53.3 41 55.8 41C58.3 40.9 60.8 40.7 63.3 40.5C65.8 40.2 68.5 40.1 70.8 39.7C73.1 39.3 75 38.8 77 38.2C79.1 37.6 81 36.7 83.3 36.3C85.6 35.9 87.9 35.9 90.8 35.7C93.7 35.5 97.9 35.3 100.8 35.1C103.7 34.9 106 34.6 108.3 34.5C110.6 34.3 112.8 34.5 114.5 34.2C116.3 33.9 117 33.1 119 32.6C121 32.1 124 31.8 126.5 31.3C129 30.8 131.5 30 134 29.4C136.5 28.9 139 28.4 141.5 28.2C144 27.9 146.1 27.8 149 27.9C151.9 28.1 155.2 28.4 159 28.8C162.8 29.3 167.3 30.2 171.5 30.7C175.7 31.2 179.4 31.8 184 31.9C188.6 32.1 194 31.9 199 31.7C204 31.5 209 31 214 30.7C219 30.4 224.3 29.9 229 29.7C233.7 29.4 239.9 29.3 242.1 29.2L243.4 -2L-2 -2Z" fill="#F5E4BD" stroke="#000" stroke-width="0.55" stroke-opacity="0.9"/>
<path d="M-0.7 11.9C-0 12.4 1.4 13.6 3.3 14.4C5.2 15.3 7.9 16.2 10.8 16.9C13.7 17.7 17.5 18.2 20.8 18.8C24.1 19.4 27.9 20 30.8 20.7C33.7 21.4 36.1 22.2 38.3 23.2C40.5 24.2 42.6 25.5 43.9 26.9C45.3 28.4 45.7 30.5 46.4 31.9C47.2 33.4 47.4 34.8 48.3 35.7C49.2 36.6 50 37.2 52 37.6C54.1 38 58.1 37.9 60.8 38C63.5 38 66.2 38.2 68.3 38C70.4 37.7 71.6 37.1 73.3 36.3C75 35.5 76.2 33.9 78.3 33.2C80.4 32.5 82.9 32.3 85.8 31.9C88.7 31.6 92.5 31.6 95.8 31.3C99.1 31 102.9 30.6 105.8 30.1C108.7 29.5 111.2 28.8 113.3 27.9C115.4 27.1 117.3 25.4 118.3 24.7C119.2 24 117.6 24.2 119 23.8C120.4 23.5 123.8 22.9 126.5 22.6C129.2 22.3 132.3 22 135.2 21.9C138.2 21.9 140.9 21.9 144 22.2C147.1 22.5 150.7 23.1 154 23.8C157.3 24.5 160.7 25.6 164 26.3C167.3 27.1 170.7 27.9 174 28.4C177.3 29 180.7 29.3 184 29.4C187.3 29.6 190.2 29.4 194 29.2C197.8 29 202.3 28.5 206.5 28.2C210.7 27.9 214.8 27.5 219 27.2C223.2 26.9 227.6 26.5 231.5 26.3C235.4 26.1 240.4 26 242.1 25.9L243.4 -2L-2 -2Z" fill="#2E8B57" stroke="#000" stroke-width="0.55" stroke-opacity="0.9"/>
<path d="M13.5 -1.2C13.5 -0.2 13.4 2.9 13.8 4.4C14.1 6 14.4 7.1 15.4 8.2C16.4 9.3 17.8 10.4 19.8 11.3C21.7 12.3 24.3 13 27.2 13.8C30.2 14.7 33.7 15.6 37.2 16.3C40.8 17.1 44.5 17.7 48.5 18.2C52.5 18.7 56.8 19.1 61 19.4C65.2 19.8 69.8 20.1 73.5 20.1C77.2 20.1 80.2 19.9 83.5 19.4C86.8 19 90.2 17.8 93.5 17.2C96.8 16.6 100.2 16.1 103.5 15.7C106.8 15.3 110.9 14.8 113.5 14.7C116.1 14.6 116.8 14.9 119 15.1C121.2 15.3 123.8 15.6 126.5 15.9C129.2 16.3 132.3 16.7 135.2 17.2C138.2 17.7 140.9 18.1 144 18.8C147.1 19.5 150.7 20.5 154 21.3C157.3 22.2 160.7 23.1 164 23.8C167.3 24.6 170.7 25.4 174 25.9C177.3 26.5 180.7 26.8 184 26.9C187.3 27.1 190.2 26.9 194 26.7C197.8 26.4 202.3 25.9 206.5 25.4C210.7 25 214.8 24.6 219 24.2C223.2 23.8 227.6 23.5 231.5 23.2C235.4 22.9 240.4 22.7 242.1 22.6L243.4 -2Z" fill="#9ACD32" stroke="#000" stroke-width="0.55" stroke-opacity="0.9"/>
<path d="M24.1 -1.2C24.4 -0.4 25.1 1.9 26 3.2C26.9 4.4 28.1 5.4 29.8 6.3C31.4 7.3 33.3 8 36 8.8C38.7 9.7 42.7 10.7 46 11.3C49.3 11.9 52.7 12.5 56 12.6C59.3 12.7 62.7 12.3 66 11.9C69.3 11.6 72.7 10.9 76 10.4C79.3 10 82.7 9.5 86 9.2C89.3 8.9 92.7 8.8 96 8.8C99.3 8.8 102.7 9 106 9.2C109.3 9.4 113.8 9.8 116 10.1C118.2 10.3 117.2 10.5 119 10.7C120.8 10.9 123.8 10.9 126.5 11.3C129.2 11.7 132.3 12.5 135.2 13.2C138.2 13.9 140.9 14.6 144 15.4C147.1 16.3 150.7 17.2 154 18.2C157.3 19.2 160.7 20.4 164 21.3C167.3 22.3 170.7 23.1 174 23.8C177.3 24.5 180.7 25.2 184 25.4C187.3 25.7 190.2 25.7 194 25.4C197.8 25.2 202.3 24.4 206.5 23.8C210.7 23.3 214.8 22.7 219 22.2C223.2 21.7 227.6 21.3 231.5 20.9C235.4 20.6 240.4 20.2 242.1 20.1L243.4 -2Z" fill="#20B2AA" stroke="#000" stroke-width="0.55" stroke-opacity="0.9"/>
<path d="M32.2 -1.2C32.9 -0.4 34.5 2.1 36 3.2C37.5 4.3 38.9 5 41 5.7C43.1 6.4 45.8 6.8 48.5 7.2C51.2 7.6 54.3 7.8 57.2 7.8C60.2 7.8 63.1 7.6 66 7.2C68.9 6.8 72.2 6.1 74.8 5.4C77.2 4.8 79.1 4.3 81 3.2C82.9 2.1 85.2 -0.4 86 -1.2Z" fill="#B0E0E6" stroke="#000" stroke-width="0.55" stroke-opacity="0.9"/>
<path d="M116.5 -1.2C116.9 -0.7 117.8 0.9 119 1.7C120.2 2.5 121.9 2.9 124 3.8C126.1 4.7 128.6 5.8 131.5 6.9C134.4 8.1 138.2 9.4 141.5 10.7C144.8 11.9 148.2 13.2 151.5 14.4C154.8 15.7 158.2 16.9 161.5 17.9C164.8 19 168.2 19.9 171.5 20.7C174.8 21.5 178.2 22.2 181.5 22.6C184.8 23 188.2 23.2 191.5 23.2C194.8 23.2 197.8 23 201.5 22.6C205.2 22.2 209.8 21.3 214 20.7C218.2 20.1 221.8 19.3 226.5 18.8C231.2 18.3 239.5 17.8 242.1 17.6L243.4 -2Z" fill="#B0E0E6" stroke="#000" stroke-width="0.55" stroke-opacity="0.9"/>
<path d="M40.4 -1.2C41.3 -0.5 44 2 46 2.9C48 3.9 50.2 4.2 52.2 4.4C54.3 4.7 56.2 4.8 58.5 4.7C60.8 4.6 63.9 4.3 66 3.8C68.1 3.4 69.6 2.8 71 1.9C72.4 1.1 73.6 -0.7 74.1 -1.2Z" fill="#7297EE" stroke="#000" stroke-width="0.55" stroke-opacity="0.9"/>
<path d="M140.2 -1.2C141.5 -0.4 145 1.6 147.8 3.2C150.5 4.8 153.4 6.5 156.5 8.2C159.6 9.9 163.2 11.6 166.5 13.2C169.8 14.8 173.2 16.4 176.5 17.6C179.8 18.8 183.2 19.8 186.5 20.4C189.8 21.1 193.2 21.7 196.5 21.7C199.8 21.7 202.8 21.3 206.5 20.7C210.2 20.1 214.8 18.9 219 18.2C223.2 17.5 227.6 16.8 231.5 16.3C235.4 15.8 240.4 15.3 242.1 15.1L243.4 -2Z" fill="#7297EE" stroke="#000" stroke-width="0.55" stroke-opacity="0.9"/>
<path d="M176.5 -1.2C175.7 -0.8 173.3 0.3 171.5 0.9C169.7 1.6 165.9 1.9 165.9 2.9C165.9 3.9 169.3 5.4 171.5 6.9C173.7 8.4 176.1 10.4 179 11.9C181.9 13.5 185.7 15.2 189 16.3C192.3 17.5 195.7 18.6 199 18.8C202.3 19 205.7 18.1 209 17.6C212.3 17 215.2 16.2 219 15.4C222.8 14.7 227.6 13.8 231.5 13.2C235.4 12.6 240.4 12.2 242.1 11.9L243.4 -2Z" fill="#4169E1" stroke="#000" stroke-width="0.55" stroke-opacity="0.9"/>
<path d="M194.6 -1.2C194.2 -0.2 192.4 2.9 192.1 4.4C191.8 6 192 6.9 192.8 8.2C193.5 9.4 194.6 10.9 196.5 11.9C198.4 13 201.5 13.9 204 14.4C206.5 15 209 15.6 211.5 15.4C214 15.3 216.1 14.5 219 13.8C221.9 13.1 225.1 12.1 229 11.3C232.9 10.6 239.9 9.6 242.1 9.2L243.4 -2Z" fill="#0000CD" stroke="#000" stroke-width="0.55" stroke-opacity="0.9"/>
<path d="M213.4 -1.2C212.4 -0.2 209.1 3 207.8 4.4C206.4 5.9 205.2 6.7 205.2 7.6C205.2 8.4 206.3 9.2 207.8 9.7C209.2 10.2 211.7 10.6 214 10.4C216.3 10.3 219 9.5 221.5 8.8C224 8.1 226.5 6.9 229 6.3C231.5 5.7 234.3 5.3 236.5 5.1C238.7 4.8 241.2 4.8 242.1 4.7L243.4 -2Z" fill="#9370DB" stroke="#000" stroke-width="0.55" stroke-opacity="0.9"/>
<path d="M242.8 58C239.8 58 230 58 225.2 58.2C220.5 58.5 217.1 58.8 214 59.5C210.9 60.1 208.8 61 206.5 61.8C204.2 62.6 202.3 63.3 200.2 64.3C198.2 65.4 195.5 66.7 194 68.1C192.5 69.4 191.5 71 191.5 72.5C191.5 73.9 192.8 75.5 194 76.8C195.2 78.1 196.9 79.5 199 80.2C201.1 80.9 204 80.8 206.5 81C209 81.1 211.5 80.7 214 81.2C216.5 81.7 219 82.9 221.5 83.7C224 84.5 226.5 85.6 229 86.2C231.5 86.8 234.2 87 236.5 87.2C238.8 87.4 241.7 87.2 242.8 87.2Z" fill="#FF1493" stroke="#000" stroke-width="0.55" stroke-opacity="0.9"/>
<path d="M7.9 108.7C8.8 108.2 11.1 108.1 12.2 107.7C13.4 107.3 13.9 107.1 14.8 106.2C15.6 105.3 16.2 103.3 17.2 102.5C18.3 101.6 19.6 101.3 21 101C22.4 100.6 24 100.2 25.4 100.6C26.7 100.9 28.2 102.2 29.1 103.1C30.1 104 31.1 105.1 31 106C30.9 106.8 29.5 107.5 28.5 108.1C27.5 108.6 25.8 108.7 24.8 109.3C23.7 110 22.8 110.8 22.2 111.8C21.7 112.9 22.1 114.4 21.6 115.6C21.1 116.7 20.1 118.1 19.1 118.7C18.2 119.3 16.8 119.5 16 119.3C15.2 119.1 14.6 118.4 14.5 117.5C14.4 116.5 15.5 114.7 15.4 113.7C15.2 112.7 14.3 111.2 13.5 111.2C12.7 111.2 11.3 113.4 10.4 113.7C9.4 114 8.4 113.5 7.9 113.1C7.3 112.6 7 111.7 7 111C7 110.2 7 109.2 7.9 108.7Z" fill="#B22222" stroke="#000" stroke-width="0.55" stroke-opacity="0.9"/>
<path d="M-1.5 130.8C-0.2 130.7 4.1 131.1 6 130.6C7.9 130 8.3 128.5 9.8 127.5C11.2 126.4 12.9 124.9 14.8 124.3C16.6 123.7 19.1 124 21 124C22.9 123.9 24.5 123.5 26 124C27.5 124.4 28.6 125.7 29.8 126.8C30.9 127.9 32.4 129 32.9 130.6C33.3 132.1 32.7 134.6 32.5 136.2C32.3 137.8 32.5 139 31.6 139.9C30.8 140.9 29 141.4 27.2 141.8C25.5 142.2 22.9 142.5 21 142.4C19.1 142.4 17.6 142 16 141.4C14.4 140.9 12.9 140.1 11.6 139.3C10.4 138.6 9 137.9 8.5 136.8C8 135.8 8.8 134 8.5 133.1C8.2 132.2 8.3 131.6 6.6 131.3C5 131 -0.1 131.3 -1.5 131.2C-2.9 131.1 -2.8 130.9 -1.5 130.8Z" fill="#B22222" stroke="#000" stroke-width="0.55" stroke-opacity="0.9"/>
<path d="M-0.5 198.7C1 198.5 5.8 198 8.5 197.4C11.2 196.9 13.5 196.4 16 195.6C18.5 194.7 21.6 193.7 23.5 192.4C25.4 191.2 26 189.5 27.2 188.1C28.5 186.6 29.5 184.8 31 183.7C32.5 182.6 33.5 181.9 36 181.2C38.5 180.5 42.7 179.7 46 179.3C49.3 178.9 52.7 178.9 56 178.7C59.3 178.5 62.7 178.2 66 178.1C69.3 177.9 72.7 178 76 177.7C79.3 177.4 82.7 176.9 86 176.2C89.3 175.5 92.7 174.5 96 173.4C99.3 172.4 102.9 171.3 106 169.9C109.1 168.6 112.6 166.8 114.8 165.6C116.9 164.3 117 163.7 119 162.4C121 161.2 124 159.6 126.5 158.1C129 156.5 131.5 154.6 134 153.1C136.5 151.5 139 149.8 141.5 148.7C144 147.6 146.5 146.9 149 146.2C151.5 145.5 154.2 144.8 156.5 144.7C158.8 144.6 160.7 144.9 162.8 145.6C164.8 146.2 166.9 147.4 169 148.7C171.1 149.9 173.3 151.9 175.2 153.1C177.2 154.2 180.2 154.4 180.9 155.6C181.5 156.7 179.8 158.5 179 159.9C178.2 161.4 176.7 162.9 175.9 164.3C175 165.8 174.3 167.1 174 168.7C173.7 170.3 173.4 172.2 174 173.7C174.6 175.2 176.3 176.3 177.8 177.4C179.2 178.6 181.5 179.5 182.8 180.6C184 181.6 185 182.6 185.2 183.7C185.5 184.8 184.7 186.1 184 187.4C183.3 188.8 181.5 190.4 180.9 191.8C180.2 193.3 180 195.4 180 196.2C180 197 180.2 197.2 180.9 196.8C181.5 196.4 182.6 194.5 184 193.7C185.4 192.9 186.9 192.4 189 191.8C191.1 191.2 194 190.6 196.5 189.9C199 189.3 201.5 189 204 188.1C206.5 187.1 209.5 185.6 211.5 184.3C213.5 183.1 215 181.8 215.9 180.6C216.7 179.3 216.7 178.2 216.5 176.8C216.3 175.5 215.4 174.2 214.6 172.4C213.9 170.7 212.6 167.9 212.1 166.2C211.6 164.5 211.5 164.1 211.5 162.4C211.5 160.8 211.9 157.8 212.1 156.2C212.3 154.6 211.8 154.4 212.8 153.1C213.7 151.7 215.9 149.3 217.8 148.1C219.6 146.8 221.7 146 224 145.6C226.3 145.2 228.5 145.7 231.5 145.6C234.5 145.5 240.4 145.1 242.1 144.9L243.4 224.1L-2 224.1Z" fill="#B22222" stroke="#000" stroke-width="0.55" stroke-opacity="0.9"/>
<path d="M-0.5 206.2C1 205.9 5.3 205.1 8.5 204.3C11.7 203.6 15.2 202.8 18.5 201.8C21.8 200.9 25.2 199.7 28.5 198.7C31.8 197.7 35.2 196.5 38.5 195.6C41.8 194.6 45.2 193.8 48.5 193.1C51.8 192.4 54.8 191.8 58.5 191.4C62.2 191.1 66.8 191.2 71 190.9C75.2 190.7 79.8 190.2 83.5 189.7C87.2 189.2 90.2 188.6 93.5 188.1C96.8 187.6 100.2 187.2 103.5 186.8C106.8 186.5 110.9 186 113.5 185.9C116.1 185.9 117.2 186.3 119 186.4C120.8 186.6 122.3 186.2 124 186.8C125.7 187.4 127.1 188.6 129 189.9C130.9 191.3 132.8 193.1 135.2 194.9C137.8 196.8 140.9 199.3 144 201.2C147.1 203.1 150.7 204.7 154 206.2C157.3 207.7 160.7 208.9 164 209.9C167.3 211 170.7 211.8 174 212.4C177.3 213.1 180.7 213.5 184 213.7C187.3 213.9 190.7 213.9 194 213.4C197.3 213 200.7 212.1 204 211.2C207.3 210.3 210.9 209 214 208.1C217.1 207.1 220.5 206.4 222.8 205.6C225 204.7 226.5 204.4 227.8 203.1C229 201.7 229.2 199 230.2 197.4C231.3 195.9 232 194.6 234 193.7C236 192.8 240.8 192.1 242.1 191.8L243.4 224.1L-2 224.1Z" fill="#FF4500" stroke="#000" stroke-width="0.55" stroke-opacity="0.9"/>
<path d="M-0.5 211.2C1 210.9 5.3 210.3 8.5 209.7C11.7 209.1 15.2 208.2 18.5 207.4C21.8 206.7 25.2 205.8 28.5 204.9C31.8 204.1 35.2 203.2 38.5 202.4C41.8 201.7 45.2 201.1 48.5 200.6C51.8 200.1 54.8 199.6 58.5 199.3C62.2 199 66.8 198.9 71 198.7C75.2 198.5 79.8 198.5 83.5 198.1C87.2 197.7 90.2 196.8 93.5 196.2C96.8 195.6 100.2 195 103.5 194.7C106.8 194.4 110.9 194.2 113.5 194.3C116.1 194.5 117.2 195.2 119 195.6C120.8 196 122.3 196.2 124 196.8C125.7 197.4 127.1 198.2 129 199.3C130.9 200.5 132.8 202.1 135.2 203.7C137.8 205.3 140.9 207.2 144 208.7C147.1 210.2 150.7 211.3 154 212.4C157.3 213.6 160.7 214.7 164 215.6C167.3 216.4 170.7 217 174 217.4C177.3 217.9 180.7 218.3 184 218.4C187.3 218.6 190.7 218.6 194 218.4C197.3 218.3 200.7 218 204 217.7C207.3 217.4 210.7 216.9 214 216.4C217.3 215.9 221.1 215.4 224 214.7C226.9 214 229.2 213.2 231.5 212.4C233.8 211.7 236 210.7 237.8 209.9C239.5 209.2 241.4 208.4 242.1 208.1L243.4 224.1L-2 224.1Z" fill="#FFA500" stroke="#000" stroke-width="0.55" stroke-opacity="0.9"/>
<path d="M-0.5 214.7C1 214.4 5.3 213.7 8.5 213.1C11.7 212.4 15.2 211.7 18.5 210.9C21.8 210.2 25.2 209.5 28.5 208.7C31.8 207.9 35.2 206.9 38.5 206.2C41.8 205.5 45.2 204.8 48.5 204.3C51.8 203.9 54.8 203.6 58.5 203.4C62.2 203.3 66.8 203.4 71 203.4C75.2 203.4 79.8 203.7 83.5 203.4C87.2 203.2 90.2 202.3 93.5 201.8C96.8 201.3 100.2 200.8 103.5 200.6C106.8 200.4 110.9 200.4 113.5 200.6C116.1 200.8 117.2 201.4 119 201.8C120.8 202.2 122.1 202.2 124 203.1C125.9 203.9 128 205.5 130.2 206.8C132.5 208.2 135 209.8 137.8 211.2C140.5 212.6 143.4 214.1 146.5 215.2C149.6 216.3 153.2 217.3 156.5 218.1C159.8 218.9 163.2 219.5 166.5 219.9C169.8 220.4 173.2 220.7 176.5 220.9C179.8 221.2 183.2 221.4 186.5 221.4C189.8 221.5 193.2 221.5 196.5 221.4C199.8 221.4 203.2 221.2 206.5 220.9C209.8 220.7 213.2 220.4 216.5 219.9C219.8 219.5 223.6 219 226.5 218.4C229.4 217.9 231.4 217.4 234 216.8C236.6 216.2 240.8 215.3 242.1 214.9L243.4 224.1L-2 224.1Z" fill="#FFDF00" stroke="#000" stroke-width="0.55" stroke-opacity="0.9"/>
<path d="M-0.5 217.4C1 217.2 5.3 216.6 8.5 215.9C11.7 215.3 15.2 214.5 18.5 213.7C21.8 212.9 25.2 212 28.5 211.2C31.8 210.4 35.2 209.4 38.5 208.7C41.8 208 45.2 207.3 48.5 206.8C51.8 206.4 54.8 206 58.5 205.9C62.2 205.9 66.8 206.3 71 206.4C75.2 206.6 79.8 206.8 83.5 206.8C87.2 206.8 90.2 206.7 93.5 206.4C96.8 206.2 100.2 205.8 103.5 205.6C106.8 205.4 110.9 205.1 113.5 205.2C116.1 205.3 117.2 205.6 119 205.9C120.8 206.3 122.1 206.7 124 207.4C125.9 208.2 128 209.4 130.2 210.6C132.5 211.8 135 213.4 137.8 214.7C140.5 216 143.4 217.5 146.5 218.4C149.6 219.4 153.4 219.9 156.5 220.6C159.6 221.3 163.8 222.3 165.2 222.7L-2 224.1Z" fill="#DEB887" stroke="#000" stroke-width="0.55" stroke-opacity="0.9"/>
<path d="M217.8 222.7C219.6 222.4 225.9 221.4 229 220.9C232.1 220.4 234.3 220.1 236.5 219.7C238.7 219.3 241.2 218.9 242.1 218.7L243.4 224.1Z" fill="#DEB887" stroke="#000" stroke-width="0.55" stroke-opacity="0.9"/>
<path d="M-0.5 219.3C1 219.1 5.3 218.6 8.5 218.1C11.7 217.5 15.2 216.7 18.5 215.9C21.8 215.2 25.2 214.3 28.5 213.4C31.8 212.6 35.2 211.7 38.5 210.9C41.8 210.2 45.2 209.4 48.5 208.9C51.8 208.5 54.8 208.1 58.5 208.1C62.2 208 66.8 208.3 71 208.7C75.2 209.1 79.8 209.9 83.5 210.2C87.2 210.5 90.2 210.6 93.5 210.6C96.8 210.6 100.2 210.3 103.5 210.2C106.8 210.1 110.9 209.7 113.5 209.7C116.1 209.7 117.2 209.7 119 209.9C120.8 210.2 122.1 210.5 124 211.2C125.9 211.9 128 213.2 130.2 214.3C132.5 215.5 135 217 137.8 218.1C140.5 219.2 144 220.2 146.5 220.9C149 221.7 151.7 222.4 152.8 222.7L-2 224.1Z" fill="#F5E4BD" stroke="#000" stroke-width="0.55" stroke-opacity="0.9"/>
<path d="M235.2 222.7 L242.1 220.6L243.4 224.1Z" fill="#F5E4BD" stroke="#000" stroke-width="0.55" stroke-opacity="0.9"/>
<path d="M-0.5 221.2C1 221 5.3 220.7 8.5 220.2C11.7 219.7 15.2 219.2 18.5 218.4C21.8 217.7 25.2 216.5 28.5 215.6C31.8 214.7 35.2 213.8 38.5 213.1C41.8 212.3 45.2 211.5 48.5 210.9C51.8 210.4 55.2 210.1 58.5 209.9C61.8 209.8 65.2 209.8 68.5 210.2C71.8 210.6 75.2 211.8 78.5 212.4C81.8 213.1 85.2 213.9 88.5 214.3C91.8 214.7 95.2 214.9 98.5 214.9C101.8 215 105.1 214.7 108.5 214.7C111.9 214.7 116.4 214.9 119 215.2C121.6 215.5 122.1 215.8 124 216.4C125.9 217.1 128.2 218.2 130.2 218.9C132.3 219.7 134.8 220.6 136.5 221.2C138.2 221.8 139.6 222.4 140.2 222.7L-2 224.1Z" fill="#2E8B57" stroke="#000" stroke-width="0.55" stroke-opacity="0.9"/>
<path d="M17.2 222.7C18.7 222.1 23.3 220.4 26 219.3C28.7 218.3 30.6 217.4 33.5 216.4C36.4 215.5 40.2 214.4 43.5 213.7C46.8 213 50.2 212.5 53.5 212.2C56.8 211.9 60.2 211.6 63.5 211.8C66.8 212.1 70.2 212.9 73.5 213.7C76.8 214.5 80.2 216 83.5 216.8C86.8 217.6 90.2 218 93.5 218.4C96.8 218.9 100.2 219.1 103.5 219.3C106.8 219.5 110.9 219.6 113.5 219.7C116.1 219.8 117.5 219.7 119 219.9C120.5 220.2 121.5 220.5 122.8 220.9C124 221.4 125.9 222.4 126.5 222.7Z" fill="#9ACD32" stroke="#000" stroke-width="0.55" stroke-opacity="0.9"/>
<path d="M26 222.7C27.5 222 31.8 219.8 34.8 218.7C37.7 217.6 40.4 216.8 43.5 215.9C46.6 215.1 50.2 214.1 53.5 213.7C56.8 213.3 60.2 213.1 63.5 213.4C66.8 213.8 70.6 214.7 73.5 215.6C76.4 216.4 78.5 217.6 81 218.4C83.5 219.3 86 219.9 88.5 220.6C91 221.3 94.8 222.3 96 222.7Z" fill="#20B2AA" stroke="#000" stroke-width="0.55" stroke-opacity="0.9"/>
<path d="M36 222.7C37.2 222.1 41 220.3 43.5 219.3C46 218.3 48.1 217.4 51 216.8C53.9 216.2 58.1 215.7 61 215.6C63.9 215.4 66 215.5 68.5 215.9C71 216.4 73.7 217.3 76 218.1C78.3 218.8 80.4 219.8 82.2 220.6C84.1 221.3 86.4 222.3 87.2 222.7Z" fill="#B0E0E6" stroke="#000" stroke-width="0.55" stroke-opacity="0.9"/>
<path d="M44.8 222.7C45.8 222.1 48.7 220.2 51 219.3C53.3 218.4 56 217.6 58.5 217.2C61 216.8 63.5 216.9 66 217.2C68.5 217.4 71.4 218.1 73.5 218.7C75.6 219.3 76.8 219.9 78.5 220.6C80.2 221.2 82.7 222.3 83.5 222.7Z" fill="#7297EE" stroke="#000" stroke-width="0.55" stroke-opacity="0.9"/>
<path d="M49.8 222.7C50.8 222.2 53.9 220.6 56 219.9C58.1 219.3 60.2 219.1 62.2 218.9C64.3 218.8 66.4 219 68.5 219.3C70.6 219.7 73.1 220.4 74.8 220.9C76.4 221.5 77.9 222.4 78.5 222.7Z" fill="#4169E1" stroke="#000" stroke-width="0.55" stroke-opacity="0.9"/>
<path d="M56 222.7C57 222.4 60.4 221.1 62.2 220.8C64.1 220.5 65.4 220.5 67.2 220.8C69.1 221.1 72.5 222.4 73.5 222.7Z" fill="#0000CD" stroke="#000" stroke-width="0.55" stroke-opacity="0.9"/>
<use href="#coast"/>
</g>
<path d="M1.3 0V-3.5 M1.3 222.1V225.6" stroke="#000" stroke-width="0.45"/>
<path d="M23.1 0V-7.8 M23.1 222.1V229.9" stroke="#000" stroke-width="1.1"/>
<path d="M44.8 0V-3.5 M44.8 222.1V225.6" stroke="#000" stroke-width="0.45"/>
<path d="M66.6 0V-3.5 M66.6 222.1V225.6" stroke="#000" stroke-width="0.45"/>
<path d="M88.3 0V-7.8 M88.3 222.1V229.9" stroke="#000" stroke-width="1.1"/>
<path d="M110.1 0V-3.5 M110.1 222.1V225.6" stroke="#000" stroke-width="0.45"/>
<path d="M131.9 0V-3.5 M131.9 222.1V225.6" stroke="#000" stroke-width="0.45"/>
<path d="M153.6 0V-7.8 M153.6 222.1V229.9" stroke="#000" stroke-width="1.1"/>
<path d="M175.4 0V-3.5 M175.4 222.1V225.6" stroke="#000" stroke-width="0.45"/>
<path d="M197.2 0V-3.5 M197.2 222.1V225.6" stroke="#000" stroke-width="0.45"/>
<path d="M218.9 0V-7.8 M218.9 222.1V229.9" stroke="#000" stroke-width="1.1"/>
<path d="M240.7 0V-3.5 M240.7 222.1V225.6" stroke="#000" stroke-width="0.45"/>
<path d="M0 219.6H-3.5 M241.4 219.6H244.9" stroke="#000" stroke-width="0.45"/>
<path d="M0 197.9H-3.5 M241.4 197.9H244.9" stroke="#000" stroke-width="0.45"/>
<path d="M0 176.2H-7.8 M241.4 176.2H249.2" stroke="#000" stroke-width="1.1"/>
<path d="M0 154.4H-3.5 M241.4 154.4H244.9" stroke="#000" stroke-width="0.45"/>
<path d="M0 132.7H-3.5 M241.4 132.7H244.9" stroke="#000" stroke-width="0.45"/>
<path d="M0 110.9H-7.8 M241.4 110.9H249.2" stroke="#000" stroke-width="1.1"/>
<path d="M0 89.2H-3.5 M241.4 89.2H244.9" stroke="#000" stroke-width="0.45"/>
<path d="M0 67.4H-3.5 M241.4 67.4H244.9" stroke="#000" stroke-width="0.45"/>
<path d="M0 45.7H-7.8 M241.4 45.7H249.2" stroke="#000" stroke-width="1.1"/>
<path d="M0 23.9H-3.5 M241.4 23.9H244.9" stroke="#000" stroke-width="0.45"/>
<path d="M0 2.2H-3.5 M241.4 2.2H244.9" stroke="#000" stroke-width="0.45"/>
<rect x="0" y="0" width="241.4" height="222.1" fill="none" stroke="#000" stroke-width="1.15"/>
<text x="23.1" y="244.7" text-anchor="middle" font-size="10">60E</text>
<text x="88.3" y="244.7" text-anchor="middle" font-size="10">90E</text>
<text x="153.6" y="244.7" text-anchor="middle" font-size="10">120E</text>
<text x="218.9" y="244.7" text-anchor="middle" font-size="10">150E</text>
<text x="-14.8" y="49.3" text-anchor="end" font-size="10">30N</text>
<text x="-14.8" y="114.5" text-anchor="end" font-size="10">0</text>
<text x="-14.8" y="179.8" text-anchor="end" font-size="10">30S</text>
<rect x="252.6" y="2.2" width="14.7" height="13.6" fill="#FF1493" stroke="#000" stroke-width="0.5" stroke-opacity="0.8"/>
<rect x="252.6" y="15.8" width="14.7" height="13.6" fill="#FFB6C1" stroke="#000" stroke-width="0.5" stroke-opacity="0.8"/>
<rect x="252.6" y="29.4" width="14.7" height="13.6" fill="#B22222" stroke="#000" stroke-width="0.5" stroke-opacity="0.8"/>
<rect x="252.6" y="43" width="14.7" height="13.6" fill="#FF4500" stroke="#000" stroke-width="0.5" stroke-opacity="0.8"/>
<rect x="252.6" y="56.6" width="14.7" height="13.6" fill="#FFA500" stroke="#000" stroke-width="0.5" stroke-opacity="0.8"/>
<rect x="252.6" y="70.2" width="14.7" height="13.6" fill="#FFDF00" stroke="#000" stroke-width="0.5" stroke-opacity="0.8"/>
<rect x="252.6" y="83.8" width="14.7" height="13.6" fill="#DEB887" stroke="#000" stroke-width="0.5" stroke-opacity="0.8"/>
<rect x="252.6" y="97.4" width="14.7" height="13.6" fill="#F5E4BD" stroke="#000" stroke-width="0.5" stroke-opacity="0.8"/>
<rect x="252.6" y="111" width="14.7" height="13.6" fill="#2E8B57" stroke="#000" stroke-width="0.5" stroke-opacity="0.8"/>
<rect x="252.6" y="124.6" width="14.7" height="13.6" fill="#9ACD32" stroke="#000" stroke-width="0.5" stroke-opacity="0.8"/>
<rect x="252.6" y="138.2" width="14.7" height="13.6" fill="#20B2AA" stroke="#000" stroke-width="0.5" stroke-opacity="0.8"/>
<rect x="252.6" y="151.8" width="14.7" height="13.6" fill="#B0E0E6" stroke="#000" stroke-width="0.5" stroke-opacity="0.8"/>
<rect x="252.6" y="165.4" width="14.7" height="13.6" fill="#7297EE" stroke="#000" stroke-width="0.5" stroke-opacity="0.8"/>
<rect x="252.6" y="179" width="14.7" height="13.6" fill="#4169E1" stroke="#000" stroke-width="0.5" stroke-opacity="0.8"/>
<rect x="252.6" y="192.6" width="14.7" height="13.6" fill="#0000CD" stroke="#000" stroke-width="0.5" stroke-opacity="0.8"/>
<rect x="252.6" y="206.2" width="14.7" height="13.6" fill="#9370DB" stroke="#000" stroke-width="0.5" stroke-opacity="0.8"/>
<text x="271.4" y="19.5" font-size="10">4450</text>
<text x="271.4" y="33.1" font-size="10">4400</text>
<text x="271.4" y="46.7" font-size="10">4350</text>
<text x="271.4" y="60.3" font-size="10">4300</text>
<text x="271.4" y="73.9" font-size="10">4250</text>
<text x="271.4" y="87.5" font-size="10">4200</text>
<text x="271.4" y="101.1" font-size="10">4150</text>
<text x="271.4" y="114.7" font-size="10">4100</text>
<text x="271.4" y="128.3" font-size="10">4050</text>
<text x="271.4" y="141.9" font-size="10">4000</text>
<text x="271.4" y="155.5" font-size="10">3950</text>
<text x="271.4" y="169.1" font-size="10">3900</text>
<text x="271.4" y="182.7" font-size="10">3850</text>
<text x="271.4" y="196.3" font-size="10">3800</text>
<text x="271.4" y="209.9" font-size="10">3750</text>
<text x="-0.5" y="-11.8" font-size="12.65">600 hPa</text>
<text x="242.4" y="-14.4" text-anchor="end" font-size="12.7">vinth2p: extrapolation</text>
</g>
<g transform="translate(41.0 304.9)">
<g clip-path="url(#fc)">
<rect x="0" y="0" width="241.4" height="222.1" fill="#B22222"/>
<path d="M-1.5 69.7C-0 69.9 4.5 70.7 7.2 71C10 71.3 12.5 71.7 14.8 71.6C17 71.5 18.9 70.3 21 70.6C23.1 70.9 24.8 72.5 27.2 73.5C29.8 74.5 33.3 75.7 36 76.6C38.7 77.5 41 78.5 43.5 79.1C46 79.7 49.3 80.6 51 80.1C52.7 79.6 52.7 76.4 53.5 76C54.3 75.6 54.8 77.3 56 77.9C57.2 78.4 59.1 78.8 61 79.1C62.9 79.4 65.2 79.2 67.2 79.7C69.3 80.2 70.8 81.2 73.5 82.2C76.2 83.3 80.6 84.9 83.5 86C86.4 87 88.5 88.1 91 88.5C93.5 88.9 96 88.7 98.5 88.5C101 88.3 103.5 87.6 106 87.2C108.5 86.8 111.3 86.4 113.5 86C115.7 85.6 116.8 85.1 119 84.7C121.2 84.3 124 83.8 126.5 83.5C129 83.2 131.5 82.9 134 82.9C136.5 82.9 139.4 83.1 141.5 83.5C143.6 83.9 144.8 85.1 146.5 85.4C148.2 85.6 149.8 85 151.5 84.7C153.2 84.4 154.8 83.9 156.5 83.5C158.2 83.1 159.4 82.5 161.5 82.2C163.6 81.9 166.7 81.6 169 81.6C171.3 81.6 173.2 81.9 175.2 82.2C177.3 82.5 179.6 83 181.5 83.5C183.4 84 184.8 84.9 186.5 85.4C188.2 85.8 189.4 85.9 191.5 86C193.6 86.1 196.7 85.8 199 86C201.3 86.1 203.7 86.2 205.2 86.9C206.8 87.5 207.6 88.7 208.4 89.7C209.1 90.7 209.7 91.8 209.6 92.9C209.5 93.9 207.9 94.8 207.8 96C207.6 97.1 208.4 99 209 99.7C209.6 100.5 210.7 100.8 211.5 100.4C212.3 99.9 212.8 98 214 97.2C215.2 96.5 216.9 96.2 219 96C221.1 95.8 224 95.9 226.5 96C229 96.1 231.2 96.5 234 96.6C236.8 96.7 241.8 96.4 243.4 96.4L243.4 52.1C241.4 52.1 235.6 52.1 231.5 52.1C227.4 52.1 223.2 52.2 219 52.4C214.8 52.5 210.2 52.7 206.5 53C202.8 53.2 199.8 53.4 196.5 53.9C193.2 54.3 189.8 54.9 186.5 55.5C183.2 56.1 179.8 56.7 176.5 57.4C173.2 58 169.8 58.9 166.5 59.6C163.2 60.4 159 61.2 156.5 61.9C154 62.5 153.6 63 151.5 63.5C149.4 64 146.9 64.2 144 64.7C141.1 65.2 137.1 65.8 134 66.4C130.9 66.9 127.8 67.5 125.2 68.1C122.8 68.7 120.2 69.6 119 70.1C117.8 70.6 118.8 70.9 117.9 71C117 71 115.5 71 113.5 70.4C111.5 69.7 108.5 68.3 106 67.2C103.5 66.2 101 65 98.5 64.1C96 63.2 93.5 62.1 91 61.9C88.5 61.6 86.4 62.4 83.5 62.9C80.6 63.3 76.8 64.1 73.5 64.7C70.2 65.4 66.6 66.5 63.5 66.9C60.4 67.2 57.7 66.7 54.8 66.6C51.8 66.5 48.7 66.1 46 66.4C43.3 66.6 41 67.4 38.5 67.9C36 68.3 33.1 68.9 31 68.9C28.9 68.9 27.4 68.9 26 67.9C24.6 66.9 23.7 63.3 22.9 62.9C22 62.4 21.9 65.4 21 65.1C20.1 64.8 18.7 62.4 17.2 61.1C15.8 59.8 14.1 58.3 12.2 57.4C10.4 56.4 8.3 55.9 6 55.5C3.7 55.1 -0.2 55 -1.5 54.9Z" fill="#FFB6C1" stroke="#000" stroke-width="0.55" stroke-opacity="0.9"/>
<path d="M-1.1 46.1C0.6 46.3 5.6 46.6 8.9 47.1C12.2 47.6 15.6 48.5 18.9 49.2C22.2 50 25.6 51 28.9 51.7C32.2 52.5 35.6 53.2 38.9 53.9C42.2 54.5 45.6 55.3 48.9 55.9C52.2 56.4 56 57 58.9 57.1C61.8 57.2 63.9 56.7 66.4 56.4C68.9 56 71 55.1 73.9 54.9C76.8 54.6 80.6 54.7 83.9 54.6C87.2 54.5 91 54.4 93.9 54.2C96.8 54.1 98.9 53.5 101.4 53.6C103.9 53.7 106.8 54.1 108.9 54.9C111 55.6 112.2 57.1 113.9 58C115.6 58.8 116.9 59.7 119 59.9C121.1 60 123.6 59.3 126.5 58.6C129.4 57.9 133.2 56.9 136.5 55.9C139.8 54.8 143.2 53.4 146.5 52.4C149.8 51.4 153.2 50.5 156.5 49.9C159.8 49.2 163.2 48.9 166.5 48.6C169.8 48.3 172.8 48.2 176.5 48C180.2 47.8 184.8 47.6 189 47.4C193.2 47.1 197.3 46.9 201.5 46.7C205.7 46.5 209.8 46.3 214 46.1C218.2 45.9 221.7 45.7 226.5 45.5C231.3 45.2 240 44.7 242.8 44.6L243.4 -2L-2 -2Z" fill="#FF4500" stroke="#000" stroke-width="0.55" stroke-opacity="0.9"/>
<path d="M-1.1 38.4C0.1 38.3 4.1 37.8 6.4 38C8.7 38.1 10.4 38.5 12.6 39.2C14.9 40 17.6 41.2 20.1 42.4C22.6 43.5 24.9 45 27.6 46.1C30.4 47.2 33.3 48.4 36.4 49.2C39.5 50.1 43.1 50.6 46.4 51.1C49.7 51.6 53.1 52.1 56.4 52.1C59.7 52.1 63.7 51.6 66.4 51.1C69.1 50.6 70.6 49.4 72.6 49.2C74.7 49 76.2 49.6 78.9 49.9C81.6 50.1 86 50.6 88.9 50.5C91.8 50.3 93.9 49.1 96.4 48.9C98.9 48.6 101.6 48.9 103.9 49.2C106.2 49.6 108.3 50.2 110.1 51.1C112 52 113.7 54.1 115.1 54.9C116.6 55.6 117.1 55.8 119 55.9C120.9 55.9 124.4 55.4 126.5 55.1C128.6 54.8 129.4 55 131.5 54.2C133.6 53.5 136.3 51.8 139 50.5C141.7 49.1 144.8 47.3 147.8 46.1C150.7 44.9 153.4 43.9 156.5 43.4C159.6 42.8 163.2 42.8 166.5 42.6C169.8 42.4 172.8 42.4 176.5 42.4C180.2 42.3 184.8 42.2 189 42.1C193.2 42 197.3 41.9 201.5 41.7C205.7 41.6 209.8 41.3 214 41.1C218.2 40.9 221.7 40.7 226.5 40.5C231.3 40.2 240 39.7 242.8 39.6L243.4 -2L-2 -2Z" fill="#FFA500" stroke="#000" stroke-width="0.55" stroke-opacity="0.9"/>
<path d="M-1.1 29.2C0.1 29.3 4.5 29.9 6.4 29.9C8.3 29.8 8.5 28.9 10.1 28.9C11.8 28.9 14.1 29.4 16.4 29.9C18.7 30.3 21.9 30.9 23.9 31.7C25.9 32.6 27 33.6 28.3 34.9C29.5 36.1 30.3 37.8 31.4 39.2C32.5 40.7 33.7 42.5 35.1 43.6C36.6 44.7 38.3 45.4 40.1 46.1C42 46.8 44.1 47.2 46.4 47.6C48.7 48 51.4 48.4 53.9 48.4C56.4 48.3 59.1 47.6 61.4 47.1C63.7 46.6 65.6 45.5 67.6 45.1C69.7 44.7 71.2 44.5 73.9 44.6C76.6 44.7 81 45.4 83.9 45.5C86.8 45.6 88.9 45.1 91.4 45.1C93.9 45.1 96.4 45.3 98.9 45.5C101.4 45.7 104.3 45.9 106.4 46.4C108.5 46.8 109.9 47.2 111.4 48C112.9 48.8 113.9 50.6 115.1 51.1C116.4 51.6 117.3 51 119 51.1C120.7 51.2 123.2 51.8 125.2 51.7C127.3 51.6 129.4 51.3 131.5 50.5C133.6 49.6 135.7 48 137.8 46.7C139.8 45.5 141.7 44.2 144 43C146.3 41.7 149 40.1 151.5 39.2C154 38.4 156.1 38.2 159 38C161.9 37.8 165.7 38 169 38C172.3 37.9 175.7 37.7 179 37.6C182.3 37.5 185.2 37.6 189 37.6C192.8 37.6 197.3 37.7 201.5 37.6C205.7 37.5 209.8 37.3 214 37.1C218.2 36.9 221.7 36.6 226.5 36.4C231.3 36.1 240 35.6 242.8 35.5L243.4 -2L-2 -2Z" fill="#FFDF00" stroke="#000" stroke-width="0.55" stroke-opacity="0.9"/>
<path d="M-1.1 19.2C0.1 19.3 3.9 19.4 6.4 19.9C8.9 20.3 11.4 21.2 13.9 21.7C16.4 22.2 18.9 22.5 21.4 23C23.9 23.5 26.4 23.9 28.9 24.6C31.4 25.3 34.4 26.3 36.4 27.4C38.4 28.4 39.9 29.6 40.8 31.1C41.6 32.6 41.2 34.6 41.4 36.1C41.6 37.6 41.4 38.7 42 39.9C42.6 41 43.8 42.2 45.1 43C46.5 43.8 48.5 44.3 50.1 44.6C51.8 44.9 53.5 45.1 55.1 44.9C56.8 44.6 58.5 43.7 60.1 43C61.8 42.2 63.3 41 65.1 40.5C67 39.9 68.7 39.7 71.4 39.6C74.1 39.5 78.1 39.9 81.4 40.1C84.7 40.3 88.1 40.6 91.4 40.9C94.7 41.1 98.5 41.1 101.4 41.4C104.3 41.6 106.8 41.7 108.9 42.1C111 42.5 112.5 43.1 113.9 43.6C115.3 44.1 116.2 45 117 44.9C117.9 44.7 117.6 42.8 119 42.6C120.4 42.4 123.2 43.5 125.2 43.6C127.3 43.7 129.6 43.5 131.5 43C133.4 42.5 134.6 41.5 136.5 40.5C138.4 39.4 140.7 37.9 142.8 36.7C144.8 35.6 146.7 34.3 149 33.6C151.3 32.9 153.6 32.6 156.5 32.6C159.4 32.6 163.2 33.1 166.5 33.4C169.8 33.6 173.2 34 176.5 34.2C179.8 34.4 182.8 34.6 186.5 34.6C190.2 34.6 194.8 34.4 199 34.2C203.2 34.1 206.9 33.9 211.5 33.6C216.1 33.3 221.3 32.9 226.5 32.6C231.7 32.3 240 31.9 242.8 31.7L243.4 -2L-2 -2Z" fill="#DEB887" stroke="#000" stroke-width="0.55" stroke-opacity="0.9"/>
<path d="M-1.1 13C-0.3 13.3 1.8 14.2 3.9 14.9C6 15.5 8.5 16.1 11.4 16.7C14.3 17.4 18.1 18.1 21.4 18.6C24.7 19.1 28.1 19.5 31.4 19.9C34.7 20.2 38.5 20.5 41.4 20.9C44.3 21.2 46.6 21.4 48.9 21.7C51.2 22.1 53.3 22.4 55.1 23C57 23.6 58.7 24.4 60.1 25.5C61.6 26.5 62.4 28.2 63.9 29.2C65.4 30.3 66.8 31.1 68.9 31.7C71 32.4 73.5 32.6 76.4 33C79.3 33.4 83.1 33.8 86.4 34.2C89.7 34.6 93.1 35 96.4 35.5C99.7 36 103.5 36.6 106.4 37.1C109.3 37.6 111.9 38.2 113.9 38.6C115.9 39 117.4 39.1 118.3 39.2C119.1 39.3 117.5 39.4 118.9 39.1C120.3 38.8 124.4 38.4 126.7 37.6C129 36.8 130.6 35.5 132.6 34.2C134.6 32.9 136.8 31 138.6 29.7C140.4 28.4 141.9 27 143.5 26.3C145.1 25.6 146.6 25.3 148.4 25.3C150.2 25.3 152 25.8 154.3 26.3C156.6 26.8 159.6 27.7 162.2 28.3C164.8 28.9 167.5 29.5 170.1 29.9C172.7 30.3 175.1 30.7 178 30.9C180.9 31.1 184.5 31 187.8 30.9C191.1 30.8 194.2 30.5 197.7 30.2C201.2 29.9 205.9 29.2 209 29.2C212.1 29.2 213.2 30.2 216.5 30.1C219.8 30 224.6 29.2 229 28.9C233.4 28.5 240.7 28.1 243 28L243.4 -2L-2 -2Z" fill="#F5E4BD" stroke="#000" stroke-width="0.55" stroke-opacity="0.9"/>
<path d="M52.9 30.2C54.2 30.2 56 30.9 56.9 31.7C57.8 32.6 58.5 34.2 58.5 35.5C58.5 36.7 57.8 38.4 56.9 39.2C56 40.1 54.2 40.7 52.9 40.7C51.6 40.7 49.8 40.1 48.9 39.2C48 38.4 47.3 36.7 47.3 35.5C47.3 34.2 48 32.6 48.9 31.7C49.8 30.9 51.6 30.2 52.9 30.2Z" fill="#F5E4BD" stroke="#000" stroke-width="0.55" stroke-opacity="0.9"/>
<path d="M11.4 -0.8C11.4 0.2 11 3.3 11.4 4.9C11.8 6.4 12.6 7.5 13.9 8.6C15.1 9.7 16.8 10.9 18.9 11.7C21 12.6 23.5 13.1 26.4 13.6C29.3 14.1 33.1 14.6 36.4 14.9C39.7 15.1 43.1 15 46.4 15.1C49.7 15.2 53.1 15.2 56.4 15.5C59.7 15.7 63.7 16.1 66.4 16.7C69.1 17.4 71 18.3 72.6 19.2C74.3 20.2 75.5 21.2 76.4 22.4C77.3 23.5 77.2 25 78.3 26.1C79.3 27.2 80.9 28.2 82.6 28.9C84.4 29.5 86.2 29.8 88.9 30.1C91.6 30.4 95.6 30.2 98.9 30.5C102.2 30.7 106 31.1 108.9 31.7C111.8 32.4 114.7 33.7 116.4 34.2C118.1 34.7 117.9 35.1 119.3 34.7C120.7 34.3 123.6 32.9 124.8 31.7C126 30.6 126.7 29.1 126.7 27.8C126.7 26.5 125.5 25 124.8 23.8C124.1 22.7 122.2 21.7 122.3 20.9C122.5 20.1 123.8 19.4 125.7 18.9C127.6 18.4 130.6 18.1 133.6 18.1C136.6 18.1 140.4 18.4 143.5 18.9C146.6 19.4 149.5 20.2 152.3 20.9C155.1 21.6 157.6 22.6 160.2 23.3C162.8 24 165.1 24.7 168.1 25.3C171.1 25.9 174.7 26.6 178 27C181.3 27.4 184.5 27.8 187.8 28C191.1 28.2 194.2 28.4 197.7 28.3C201.2 28.2 203.8 27.6 209 27.3C214.2 27 223.3 26.9 229 26.7C234.7 26.5 240.7 26.2 243 26.1" fill="none" stroke="#000" stroke-width="0.55" stroke-opacity="0.9"/>
<path d="M21 -0.8C21.3 -0 21.8 2.4 22.9 3.6C23.9 4.9 25.5 5.9 27.2 6.7C29 7.6 31.2 8 33.5 8.6C35.8 9.2 38.3 9.7 41 10.1C43.7 10.5 46.8 10.8 49.8 10.9C52.7 10.9 55.4 10.7 58.5 10.5C61.6 10.2 65.2 9.6 68.5 9.2C71.8 8.8 75.2 8.3 78.5 8C81.8 7.7 85.2 7.4 88.5 7.4C91.8 7.4 95.2 7.7 98.5 8C101.8 8.3 105.6 8.9 108.5 9.2C111.4 9.5 114.2 9.7 116 9.9C117.8 10 117.2 10 119 10.1C120.8 10.2 124 10.4 126.5 10.6C129 10.8 131.5 11 134 11.4C136.5 11.7 139 12.3 141.5 12.9C144 13.4 146.1 13.9 149 14.9C151.9 15.8 155.9 17.3 159 18.4C162.1 19.4 164.6 20.1 167.5 21C170.4 21.8 173.3 22.8 176.1 23.5C179 24.2 181.8 24.7 184.6 25.2C187.5 25.7 190.4 26.1 193.2 26.5C196.1 26.8 198.9 27.2 201.8 27.4C204.6 27.5 207.5 27.3 210.4 27.1C213.2 26.9 216.1 26.5 219 26.2C221.9 25.9 223.5 25.7 227.5 25.2C231.5 24.8 240.2 23.9 242.8 23.6L243.4 -2Z" fill="#2E8B57" stroke="#000" stroke-width="0.55" stroke-opacity="0.9"/>
<path d="M97.6 24.1C97.6 23.9 100 23.4 101.1 23.4C102.3 23.4 104.6 23.9 104.6 24.1C104.6 24.4 102.3 24.9 101.1 24.9C100 24.9 97.6 24.4 97.6 24.1Z" fill="#2E8B57" stroke="#000" stroke-width="0.55" stroke-opacity="0.9"/>
<path d="M30.4 -0.8C31.1 -0 33 2.5 34.8 3.6C36.5 4.7 38.7 5.4 41 6.1C43.3 6.8 46 7.3 48.5 7.6C51 7.9 53.5 8 56 8C58.5 7.9 61 7.8 63.5 7.4C66 6.9 68.7 6.2 71 5.5C73.3 4.7 75.5 4 77.2 3C79 1.9 80.9 -0.1 81.6 -0.8Z" fill="#9ACD32" stroke="#000" stroke-width="0.55" stroke-opacity="0.9"/>
<path d="M129.6 -0.8C130.8 -0.1 134.1 1.7 136.5 3C138.9 4.2 141.5 5.4 144 6.7C146.5 8 149 9.6 151.5 10.9C154 12.1 156.3 13 159 14.1C161.7 15.2 164.6 16.4 167.5 17.5C170.4 18.5 173.3 19.6 176.1 20.5C179 21.3 181.8 22 184.6 22.6C187.5 23.2 190.4 23.9 193.2 24.4C196.1 24.8 198.9 25.1 201.8 25.2C204.6 25.3 207.5 25.2 210.4 25C213.2 24.8 216.1 24.4 219 24C221.9 23.6 223.5 23.1 227.5 22.6C231.5 22.1 240.2 21.2 242.8 21L243.4 -2Z" fill="#9ACD32" stroke="#000" stroke-width="0.55" stroke-opacity="0.9"/>
<path d="M38.5 -0.8C39.3 -0.1 41.6 2.1 43.5 3C45.4 3.9 47.5 4.3 49.8 4.6C52 4.9 54.8 5 57.2 4.9C59.8 4.7 62.7 4.1 64.8 3.6C66.8 3.1 68.6 2.5 69.8 1.7C70.9 1 71.3 -0.4 71.6 -0.8Z" fill="#20B2AA" stroke="#000" stroke-width="0.55" stroke-opacity="0.9"/>
<path d="M142.1 -0.8C143.3 -0 146.2 2.1 149 3.9C151.8 5.6 155.9 8.2 159 9.9C162.1 11.5 164.6 12.4 167.5 13.6C170.4 14.8 173.3 16.1 176.1 17.1C179 18.1 181.8 18.9 184.6 19.6C187.5 20.3 190.4 20.9 193.2 21.4C196.1 21.9 198.9 22.4 201.8 22.6C204.6 22.8 207.5 22.7 210.4 22.5C213.2 22.3 216.1 21.7 219 21.4C221.9 21 223.5 20.7 227.5 20.1C231.5 19.5 240.2 18.3 242.8 18L243.4 -2Z" fill="#20B2AA" stroke="#000" stroke-width="0.55" stroke-opacity="0.9"/>
<path d="M153.4 -0.8C154.3 0.1 156.6 3 159 4.6C161.4 6.2 164.6 7.5 167.5 9C170.4 10.4 173.3 12 176.1 13.2C179 14.4 181.8 15.4 184.6 16.2C187.5 17.1 190.7 17.8 193.2 18.4C195.8 18.9 197.8 19.3 200.1 19.6C202.4 19.9 204.4 20.2 207 20.1C209.6 20 212.1 19.3 215.5 18.7C218.9 18.1 223 17.3 227.5 16.6C232 15.9 240.2 14.8 242.8 14.5L243.4 -2Z" fill="#B0E0E6" stroke="#000" stroke-width="0.55" stroke-opacity="0.9"/>
<path d="M176.1 -0.8C176.2 -0 176.1 2.5 176.5 3.9C176.9 5.2 177.7 6.1 178.8 7.2C179.8 8.4 181.4 9.6 183 10.6C184.6 11.6 186.1 12.4 188.1 13.2C190.1 14 192.7 14.8 195 15.4C197.3 15.9 199.5 16.3 201.8 16.6C204 16.9 206 17.2 208.6 17.1C211.2 17 214.1 16.4 217.2 15.9C220.4 15.3 223.2 14.2 227.5 13.6C231.8 13 240.2 12.2 242.8 12L243.4 -2Z" fill="#7297EE" stroke="#000" stroke-width="0.55" stroke-opacity="0.9"/>
<path d="M190.2 -0.8C190.3 0.1 190.1 3 190.6 4.6C191.1 6.2 192.1 7.7 193.2 9C194.4 10.2 195.8 11.2 197.5 12C199.2 12.7 201.4 13.3 203.5 13.6C205.6 13.9 207.8 13.8 210.4 13.6C213 13.4 216.1 12.9 219 12.4C221.9 11.9 223.5 11.2 227.5 10.6C231.5 10 240.2 8.8 242.8 8.5L243.4 -2Z" fill="#4169E1" stroke="#000" stroke-width="0.55" stroke-opacity="0.9"/>
<path d="M202.6 -0.8C202.5 0.1 201.6 3.1 201.8 4.6C201.9 6.1 202.6 7.2 203.5 8.1C204.4 9 205.3 9.5 207 9.9C208.7 10.2 210.9 10.4 213.8 10.2C216.6 10.1 221 9.5 224.1 9C227.3 8.5 229.5 7.8 232.6 7.2C235.7 6.6 241.1 5.8 242.8 5.5L243.4 -2Z" fill="#0000CD" stroke="#000" stroke-width="0.55" stroke-opacity="0.9"/>
<path d="M223.4 -0.8C223.9 -0.5 225 0.4 226.5 0.9C228 1.3 229.9 1.6 232.6 1.9C235.3 2.1 241.1 2.4 242.8 2.5L243.4 -2Z" fill="#9370DB" stroke="#000" stroke-width="0.55" stroke-opacity="0.9"/>
<path d="M-1.5 153.5C-0.2 153.5 3.7 153.6 6 153.9C8.3 154.1 10.2 154.7 12.2 155.1C14.3 155.5 15.8 155.7 18.5 156C21.2 156.2 25.4 156.5 28.5 156.6C31.6 156.7 34.9 156.7 37.2 156.6C39.6 156.5 41.2 155.6 42.9 156C44.5 156.4 45.7 158.1 47.2 159.1C48.8 160.1 50.6 161.4 52.2 162.2C53.9 163.1 55.4 163.8 57.2 164.1C59.1 164.4 61.6 164 63.5 163.9C65.4 163.7 66.6 163.3 68.5 163.5C70.4 163.6 72.7 164.1 74.8 164.7C76.8 165.4 79.2 166.4 81 167.2C82.8 168.1 84.6 168.9 85.4 169.7C86.1 170.6 85.9 171.4 85.4 172.2C84.9 173.1 83.8 174.1 82.2 174.7C80.7 175.4 78.3 175.7 76 176C73.7 176.3 71.4 176.2 68.5 176.6C65.6 177 61.6 177.5 58.5 178.1C55.4 178.7 52.2 179.4 49.8 180.1C47.2 180.8 45.2 181.4 43.5 182.2C41.8 183.1 41 184.2 39.8 185.4C38.5 186.5 37.9 187.9 36 189.1C34.1 190.4 31.4 191.7 28.5 192.9C25.6 194 21.8 195 18.5 196C15.2 196.9 11.8 197.8 8.5 198.5C5.2 199.2 0.2 199.8 -1.5 200.1Z" fill="#FFB6C1" stroke="#000" stroke-width="0.55" stroke-opacity="0.9"/>
<path d="M-1.5 179.1C-0.6 179.4 2.8 180.1 4.1 181C5.5 181.8 6.5 183.1 6.6 184.1C6.7 185.1 6.1 186.3 4.8 187.2C3.4 188.2 -0.5 189.3 -1.5 189.7Z" fill="#FF1493" stroke="#000" stroke-width="0.55" stroke-opacity="0.9"/>
<path d="M27.6 135.1C27.6 135.9 27.1 136.9 26.4 137.5C25.7 138 24.5 138.5 23.5 138.5C22.5 138.5 21.3 138 20.6 137.5C19.9 136.9 19.4 135.9 19.4 135.1C19.4 134.3 19.9 133.3 20.6 132.7C21.3 132.2 22.5 131.7 23.5 131.7C24.5 131.7 25.7 132.2 26.4 132.7C27.1 133.3 27.6 134.3 27.6 135.1Z" fill="#FF4500" stroke="#000" stroke-width="0.55" stroke-opacity="0.9"/>
<path d="M-1.5 206.4C0.2 206.1 5.2 205.4 8.5 204.7C11.8 204 15.2 203.1 18.5 202.2C21.8 201.4 25.2 200.6 28.5 199.7C31.8 198.9 35.2 198.1 38.5 197.2C41.8 196.4 45.2 195.5 48.5 194.7C51.8 194 55.2 193.5 58.5 192.9C61.8 192.2 65.2 191.6 68.5 191C71.8 190.4 75.2 189.7 78.5 189.1C81.8 188.5 85.2 187.7 88.5 187.2C91.8 186.7 95.6 186.3 98.5 186C101.4 185.6 104 185.7 106 185.1C108 184.5 109.5 183.4 110.4 182.2C111.2 181 110.6 179.4 111 177.9C111.4 176.3 111.8 174.5 112.9 172.9C113.9 171.2 115.6 169.5 117.2 167.9C118.9 166.2 121.7 164.3 123 162.9C124.3 161.4 123.6 160.8 125.2 159.1C126.9 157.4 130.2 154.5 132.8 152.9C135.2 151.2 137.5 150.2 140.2 149.1C143 148 146.3 146.7 149 146C151.7 145.2 154.3 144.8 156.5 144.7C158.7 144.7 160.6 144.9 162.1 145.6C163.7 146.3 164.9 147.7 165.9 149.1C166.9 150.5 167.8 152.2 168 154.1C168.2 156 167.6 158.3 167.1 160.4C166.7 162.4 166.1 164.5 165.2 166.6C164.4 168.7 163.4 170.9 162.1 172.9C160.9 174.8 159.3 176.9 157.8 178.5C156.2 180 154.6 181.1 152.8 182.2C150.9 183.4 148.2 184.5 146.5 185.4C144.8 186.2 143.9 186.6 142.8 187.2C141.6 187.9 140 188.2 139.6 189.1C139.2 190 139.5 191.4 140.2 192.9C141 194.3 142.3 196.2 144 197.9C145.7 199.5 148 201.3 150.2 202.9C152.5 204.4 155 205.9 157.8 207.2C160.5 208.6 163.4 209.9 166.5 211C169.6 212 173.2 212.9 176.5 213.5C179.8 214.1 183.2 214.5 186.5 214.7C189.8 214.9 193.2 214.9 196.5 214.7C199.8 214.6 203.2 214.4 206.5 213.9C209.8 213.3 213.4 212.4 216.5 211.6C219.6 210.8 222.8 209.9 225.2 209.1C227.8 208.3 229.8 207.6 231.5 206.6C233.2 205.6 234.4 204.3 235.2 202.9C236.1 201.4 236.1 199.2 236.5 197.9C236.9 196.5 236.6 195.5 237.8 194.7C238.9 194 242.4 193.7 243.4 193.5L243.4 224.1L-2 224.1Z" fill="#FF4500" stroke="#000" stroke-width="0.55" stroke-opacity="0.9"/>
<path d="M243.4 147.6C241.4 147.6 234.5 147.5 231.5 147.6C228.5 147.7 226.1 147.4 225.2 148.5C224.4 149.6 225.9 152.1 226.5 154.1C227.1 156.1 228.2 158.1 229 160.4C229.8 162.6 230.7 165.8 231.5 167.9C232.3 169.9 233 171.3 234 172.9C235 174.4 236.2 176 237.8 177.2C239.3 178.5 242.4 179.8 243.4 180.4Z" fill="#FF4500" stroke="#000" stroke-width="0.55" stroke-opacity="0.9"/>
<path d="M180.2 176.6C180.4 175.5 180.7 174.1 181.5 172.9C182.3 171.6 184 170 185.2 169.1C186.5 168.2 187.5 167.6 189 167.6C190.5 167.6 192.3 168.4 194 169.1C195.7 169.8 196.9 171.1 199 171.6C201.1 172.1 204.4 171.9 206.5 172.2C208.6 172.6 209.9 172.9 211.5 173.9C213.1 174.8 214.7 176.5 215.9 177.9C217 179.2 218.3 180.9 218.4 182.2C218.5 183.6 217.4 184.8 216.5 186C215.6 187.1 214.2 188.2 212.8 189.1C211.3 190 209.4 191.1 207.8 191.6C206.1 192.1 204.4 192 202.8 191.9C201.1 191.7 199.2 191.4 197.8 191C196.3 190.5 195.5 189.4 194 189.1C192.5 188.8 190.2 189.6 189 189.1C187.8 188.6 187.3 187.1 186.5 186C185.7 184.8 184.9 183.3 184 182.2C183.1 181.2 181.5 180.7 180.9 179.7C180.2 178.8 180.1 177.7 180.2 176.6Z" fill="#FFB6C1" stroke="#000" stroke-width="0.55" stroke-opacity="0.9"/>
<path d="M174 201C174.3 200.1 175.2 198.6 176.5 197.9C177.8 197.1 179.8 196.4 181.5 196.4C183.2 196.3 184.8 196.8 186.5 197.6C188.2 198.4 190.2 199.9 191.5 201C192.8 202.1 193.9 203.1 194.2 204.1C194.6 205.1 194.2 206.6 193.4 207.2C192.5 207.9 190.8 208.1 189 208.1C187.2 208.1 184.6 207.8 182.8 207.2C180.9 206.7 179.1 205.5 177.8 204.7C176.4 204 175.2 203.5 174.6 202.9C174 202.2 173.7 201.8 174 201Z" fill="#FFB6C1" stroke="#000" stroke-width="0.55" stroke-opacity="0.9"/>
<path d="M-1.5 210.1C0.2 209.9 5.2 209.4 8.5 208.9C11.8 208.3 15.2 207.4 18.5 206.6C21.8 205.8 25.2 204.9 28.5 204.1C31.8 203.3 35.2 202.3 38.5 201.6C41.8 200.9 45.2 200.2 48.5 199.7C51.8 199.3 55.2 199.1 58.5 198.9C61.8 198.6 65.2 198.6 68.5 198.5C71.8 198.3 75.2 198.2 78.5 197.9C81.8 197.5 85.2 196.9 88.5 196.4C91.8 195.8 95.2 194.8 98.5 194.4C101.8 193.9 105.6 193.9 108.5 193.9C111.4 193.9 114.2 194.1 116 194.4C117.8 194.6 117.2 195.2 119 195.6C120.8 196 124 195.9 126.5 196.6C129 197.3 131.5 198.5 134 199.7C136.5 201 138.8 202.6 141.5 204.1C144.2 205.6 147.1 207 150.2 208.5C153.4 209.9 156.9 211.6 160.2 212.9C163.6 214.1 166.9 215.2 170.2 216C173.6 216.8 176.9 217.2 180.2 217.6C183.6 218 186.9 218.4 190.2 218.5C193.6 218.6 196.9 218.3 200.2 218.1C203.6 217.9 206.9 217.6 210.2 217.2C213.6 216.8 217.1 216.2 220.2 215.6C223.4 215 226.3 214.2 229 213.5C231.7 212.8 234.1 212 236.5 211.4C238.9 210.7 242.2 210 243.4 209.7L243.4 224.1L-2 224.1Z" fill="#FFA500" stroke="#000" stroke-width="0.55" stroke-opacity="0.9"/>
<path d="M-1.5 213.1C0.2 212.9 5.2 212.4 8.5 211.9C11.8 211.3 15.2 210.5 18.5 209.7C21.8 209 25.2 208.1 28.5 207.2C31.8 206.4 35.2 205.5 38.5 204.7C41.8 204 45.2 203.3 48.5 202.9C51.8 202.4 55.2 202.3 58.5 202.2C61.8 202.1 65.2 202.2 68.5 202.2C71.8 202.2 75.2 202.3 78.5 202.2C81.8 202.1 85.2 201.9 88.5 201.6C91.8 201.3 95.2 200.8 98.5 200.6C101.8 200.4 105.6 200.3 108.5 200.4C111.4 200.4 114.2 200.7 116 201C117.8 201.3 117.2 201.9 119 202.2C120.8 202.6 124 202.5 126.5 203.1C129 203.7 131.5 204.8 134 206C136.5 207.2 138.8 209 141.5 210.4C144.2 211.7 147.1 213 150.2 214.1C153.4 215.2 156.9 216.4 160.2 217.2C163.6 218.1 166.9 218.8 170.2 219.4C173.6 219.9 176.9 220.3 180.2 220.6C183.6 220.9 186.9 221.1 190.2 221.2C193.6 221.3 196.9 221.3 200.2 221.2C203.6 221.1 206.9 221 210.2 220.6C213.6 220.2 217.1 219.7 220.2 219.1C223.4 218.5 226.3 217.9 229 217.2C231.7 216.6 234.1 215.7 236.5 215.1C238.9 214.5 242.2 214.1 243.4 213.9L243.4 224.1L-2 224.1Z" fill="#FFDF00" stroke="#000" stroke-width="0.55" stroke-opacity="0.9"/>
<path d="M-1.5 215.6C0.2 215.4 5.2 214.9 8.5 214.4C11.8 213.8 15.2 213 18.5 212.2C21.8 211.5 25.2 210.6 28.5 209.7C31.8 208.9 35.2 207.9 38.5 207.2C41.8 206.5 45.2 206 48.5 205.6C51.8 205.2 55.2 205.1 58.5 205.1C61.8 205.1 65.2 205.4 68.5 205.6C71.8 205.8 75.2 206.2 78.5 206.4C81.8 206.5 85.2 206.7 88.5 206.6C91.8 206.5 95.2 206.1 98.5 206C101.8 205.8 105.6 205.5 108.5 205.6C111.4 205.7 114.2 206 116 206.4C117.8 206.7 117.2 207.2 119 207.6C120.8 208 124 207.8 126.5 208.5C129 209.1 131.5 210.5 134 211.6C136.5 212.7 138.8 214.1 141.5 215.4C144.2 216.6 147.1 217.9 150.2 218.9C153.4 219.9 157.3 220.6 160.2 221.4C163.2 222.1 166.5 222.8 167.8 223.1L-2 224.1Z" fill="#DEB887" stroke="#000" stroke-width="0.55" stroke-opacity="0.9"/>
<path d="M217.8 223.1C219.2 222.7 223.8 221.6 226.5 221C229.2 220.3 231.2 219.7 234 219.1C236.8 218.5 241.8 217.5 243.4 217.2L243.4 224.1Z" fill="#DEB887" stroke="#000" stroke-width="0.55" stroke-opacity="0.9"/>
<path d="M-1.5 217.6C0.2 217.4 5.2 216.9 8.5 216.4C11.8 215.8 15.2 215.1 18.5 214.4C21.8 213.6 25.2 212.7 28.5 211.9C31.8 211 35.2 210.1 38.5 209.4C41.8 208.6 45.2 208 48.5 207.6C51.8 207.2 55.2 206.9 58.5 206.9C61.8 206.8 65.2 207 68.5 207.2C71.8 207.5 75.2 208.1 78.5 208.5C81.8 208.8 85.2 209.2 88.5 209.4C91.8 209.5 95.2 209.3 98.5 209.4C101.8 209.4 105.6 209.5 108.5 209.7C111.4 210 114.2 210.6 116 211C117.8 211.4 117.2 211.9 119 212.2C120.8 212.6 124 212.5 126.5 213.1C129 213.7 131.5 215 134 216C136.5 217 139 218.2 141.5 219.1C144 220 147.1 220.9 149 221.6C150.9 222.3 152.1 222.9 152.8 223.1L-2 224.1Z" fill="#F5E4BD" stroke="#000" stroke-width="0.55" stroke-opacity="0.9"/>
<path d="M234 223.1 L243.4 220.4L243.4 224.1Z" fill="#F5E4BD" stroke="#000" stroke-width="0.55" stroke-opacity="0.9"/>
<path d="M-1.5 219.4C0.2 219.1 5.2 218.6 8.5 218.1C11.8 217.6 15.2 217.1 18.5 216.4C21.8 215.6 25.2 214.7 28.5 213.9C31.8 213 35.2 212.1 38.5 211.4C41.8 210.6 45.2 209.8 48.5 209.4C51.8 208.9 55.2 208.6 58.5 208.5C61.8 208.4 65.2 208.4 68.5 208.9C71.8 209.3 75.2 210.3 78.5 211C81.8 211.6 85.2 212.4 88.5 212.9C91.8 213.3 95.2 213.5 98.5 213.9C101.8 214.2 105.6 214.4 108.5 214.7C111.4 215.1 114.2 215.6 116 216C117.8 216.3 117.2 216.6 119 216.9C120.8 217.1 124 217.1 126.5 217.6C129 218.1 131.5 219.2 134 220.1C136.5 221 140.2 222.6 141.5 223.1" fill="none" stroke="#000" stroke-width="0.55" stroke-opacity="0.9"/>
<path d="M-1.5 221.4C0.2 221.2 5.2 220.8 8.5 220.4C11.8 219.9 15.2 219.6 18.5 218.9C21.8 218.1 25.2 216.9 28.5 216C31.8 215.1 35.2 214.2 38.5 213.5C41.8 212.7 45.2 211.9 48.5 211.4C51.8 210.8 55.2 210.5 58.5 210.4C61.8 210.2 65.2 210.1 68.5 210.6C71.8 211.1 75.2 212.2 78.5 213.1C81.8 214 85.2 215.1 88.5 216C91.8 216.8 95.2 217.5 98.5 218.1C101.8 218.7 105.6 219.3 108.5 219.7C111.4 220.1 114.2 220.3 116 220.6C117.8 220.9 117.7 220.9 119 221.4C120.3 221.8 123.2 222.8 124 223.1L-2 224.1Z" fill="#2E8B57" stroke="#000" stroke-width="0.55" stroke-opacity="0.9"/>
<path d="M19.8 223.1C21.2 222.5 25.8 220.8 28.5 219.7C31.2 218.7 33.1 217.8 36 216.9C38.9 215.9 42.7 214.9 46 214.1C49.3 213.3 52.7 212.5 56 212.2C59.3 211.9 62.7 211.9 66 212.2C69.3 212.6 72.7 213.4 76 214.4C79.3 215.3 82.9 216.7 86 217.9C89.1 219 92.5 220.1 94.8 221C97 221.9 98.9 222.7 99.8 223.1Z" fill="#9ACD32" stroke="#000" stroke-width="0.55" stroke-opacity="0.9"/>
<path d="M28.5 223.1C29.8 222.6 33.5 221.1 36 220.1C38.5 219.1 40.6 218.1 43.5 217.2C46.4 216.3 50.2 215.2 53.5 214.7C56.8 214.2 60.2 213.9 63.5 214.1C66.8 214.3 70.4 215.1 73.5 216C76.6 216.8 79.8 218.2 82.2 219.1C84.8 220 86.8 220.9 88.5 221.6C90.2 222.3 91.6 222.9 92.2 223.1Z" fill="#20B2AA" stroke="#000" stroke-width="0.55" stroke-opacity="0.9"/>
<path d="M37.2 223.1C38.5 222.5 42.2 220.7 44.8 219.7C47.2 218.7 49.5 217.9 52.2 217.2C55 216.6 58.1 216.1 61 216C63.9 215.9 67 216.1 69.8 216.6C72.5 217.1 75 218.3 77.2 219.1C79.5 219.9 82 220.9 83.5 221.6C85 222.3 85.6 222.9 86 223.1Z" fill="#B0E0E6" stroke="#000" stroke-width="0.55" stroke-opacity="0.9"/>
<path d="M44.8 223.1C45.8 222.6 48.7 221 51 220.1C53.3 219.2 56 218.3 58.5 217.9C61 217.4 63.5 217.4 66 217.6C68.5 217.8 71.2 218.5 73.5 219.1C75.8 219.7 78.2 220.7 79.8 221.4C81.3 222 82.4 222.8 82.9 223.1Z" fill="#7297EE" stroke="#000" stroke-width="0.55" stroke-opacity="0.9"/>
<path d="M49.8 223.1C50.8 222.7 53.9 221.2 56 220.6C58.1 220 60.2 219.5 62.2 219.4C64.3 219.2 66.4 219.4 68.5 219.7C70.6 220 73.1 220.7 74.8 221.2C76.4 221.8 77.9 222.8 78.5 223.1Z" fill="#4169E1" stroke="#000" stroke-width="0.55" stroke-opacity="0.9"/>
<path d="M54.8 223.1C56 222.7 60 221.3 62.2 221C64.5 220.7 66.6 220.9 68.5 221.2C70.4 221.6 72.7 222.8 73.5 223.1Z" fill="#0000CD" stroke="#000" stroke-width="0.55" stroke-opacity="0.9"/>
<circle cx="192.8" cy="97.9" r="1.1" fill="#fff"/>
<circle cx="201.5" cy="106.9" r="1.1" fill="#fff"/>
<path d="M48.7 20.8L58 20.8L58 23.4L62.9 27L67.8 27L67.8 29.6L73.1 29.6L73.1 27L93.9 27L93.9 24.3L109.9 24.3L109.9 27L116.1 27L116.1 29.6L119.2 29.6L119.2 42.5L116.1 42.5L116.1 51.8L101 51.8L101 49.1L98.3 49.1L98.3 51.8L73.5 51.8L73.5 49.1L67.8 49.1L67.8 46L60.7 46L60.7 42.5L58 42.5L58 39.4L54.9 39.4L54.9 36.3L48.7 36.3L48.7 33.2L46.1 33.2L46.1 23.9L48.7 23.9Z" fill="#fff"/>
<use href="#coast"/>
</g>
<path d="M1.3 0V-3.5 M1.3 222.1V225.6" stroke="#000" stroke-width="0.45"/>
<path d="M23.1 0V-7.8 M23.1 222.1V229.9" stroke="#000" stroke-width="1.1"/>
<path d="M44.8 0V-3.5 M44.8 222.1V225.6" stroke="#000" stroke-width="0.45"/>
<path d="M66.6 0V-3.5 M66.6 222.1V225.6" stroke="#000" stroke-width="0.45"/>
<path d="M88.3 0V-7.8 M88.3 222.1V229.9" stroke="#000" stroke-width="1.1"/>
<path d="M110.1 0V-3.5 M110.1 222.1V225.6" stroke="#000" stroke-width="0.45"/>
<path d="M131.9 0V-3.5 M131.9 222.1V225.6" stroke="#000" stroke-width="0.45"/>
<path d="M153.6 0V-7.8 M153.6 222.1V229.9" stroke="#000" stroke-width="1.1"/>
<path d="M175.4 0V-3.5 M175.4 222.1V225.6" stroke="#000" stroke-width="0.45"/>
<path d="M197.2 0V-3.5 M197.2 222.1V225.6" stroke="#000" stroke-width="0.45"/>
<path d="M218.9 0V-7.8 M218.9 222.1V229.9" stroke="#000" stroke-width="1.1"/>
<path d="M240.7 0V-3.5 M240.7 222.1V225.6" stroke="#000" stroke-width="0.45"/>
<path d="M0 219.6H-3.5 M241.4 219.6H244.9" stroke="#000" stroke-width="0.45"/>
<path d="M0 197.9H-3.5 M241.4 197.9H244.9" stroke="#000" stroke-width="0.45"/>
<path d="M0 176.2H-7.8 M241.4 176.2H249.2" stroke="#000" stroke-width="1.1"/>
<path d="M0 154.4H-3.5 M241.4 154.4H244.9" stroke="#000" stroke-width="0.45"/>
<path d="M0 132.7H-3.5 M241.4 132.7H244.9" stroke="#000" stroke-width="0.45"/>
<path d="M0 110.9H-7.8 M241.4 110.9H249.2" stroke="#000" stroke-width="1.1"/>
<path d="M0 89.2H-3.5 M241.4 89.2H244.9" stroke="#000" stroke-width="0.45"/>
<path d="M0 67.4H-3.5 M241.4 67.4H244.9" stroke="#000" stroke-width="0.45"/>
<path d="M0 45.7H-7.8 M241.4 45.7H249.2" stroke="#000" stroke-width="1.1"/>
<path d="M0 23.9H-3.5 M241.4 23.9H244.9" stroke="#000" stroke-width="0.45"/>
<path d="M0 2.2H-3.5 M241.4 2.2H244.9" stroke="#000" stroke-width="0.45"/>
<rect x="0" y="0" width="241.4" height="222.1" fill="none" stroke="#000" stroke-width="1.15"/>
<text x="23.1" y="244.7" text-anchor="middle" font-size="10">60E</text>
<text x="88.3" y="244.7" text-anchor="middle" font-size="10">90E</text>
<text x="153.6" y="244.7" text-anchor="middle" font-size="10">120E</text>
<text x="218.9" y="244.7" text-anchor="middle" font-size="10">150E</text>
<text x="-14.8" y="49.3" text-anchor="end" font-size="10">30N</text>
<text x="-14.8" y="114.5" text-anchor="end" font-size="10">0</text>
<text x="-14.8" y="179.8" text-anchor="end" font-size="10">30S</text>
<rect x="252.6" y="2.2" width="14.7" height="12.8" fill="#FF1493" stroke="#000" stroke-width="0.5" stroke-opacity="0.8"/>
<rect x="252.6" y="15" width="14.7" height="12.8" fill="#FFB6C1" stroke="#000" stroke-width="0.5" stroke-opacity="0.8"/>
<rect x="252.6" y="27.8" width="14.7" height="12.8" fill="#B22222" stroke="#000" stroke-width="0.5" stroke-opacity="0.8"/>
<rect x="252.6" y="40.6" width="14.7" height="12.8" fill="#FF4500" stroke="#000" stroke-width="0.5" stroke-opacity="0.8"/>
<rect x="252.6" y="53.4" width="14.7" height="12.8" fill="#FFA500" stroke="#000" stroke-width="0.5" stroke-opacity="0.8"/>
<rect x="252.6" y="66.2" width="14.7" height="12.8" fill="#FFDF00" stroke="#000" stroke-width="0.5" stroke-opacity="0.8"/>
<rect x="252.6" y="79" width="14.7" height="12.8" fill="#DEB887" stroke="#000" stroke-width="0.5" stroke-opacity="0.8"/>
<rect x="252.6" y="91.8" width="14.7" height="12.8" fill="#F5E4BD" stroke="#000" stroke-width="0.5" stroke-opacity="0.8"/>
<rect x="252.6" y="104.6" width="14.7" height="12.8" fill="#F5E4BD" stroke="#000" stroke-width="0.5" stroke-opacity="0.8"/>
<rect x="252.6" y="117.4" width="14.7" height="12.8" fill="#2E8B57" stroke="#000" stroke-width="0.5" stroke-opacity="0.8"/>
<rect x="252.6" y="130.2" width="14.7" height="12.8" fill="#9ACD32" stroke="#000" stroke-width="0.5" stroke-opacity="0.8"/>
<rect x="252.6" y="143" width="14.7" height="12.8" fill="#20B2AA" stroke="#000" stroke-width="0.5" stroke-opacity="0.8"/>
<rect x="252.6" y="155.8" width="14.7" height="12.8" fill="#B0E0E6" stroke="#000" stroke-width="0.5" stroke-opacity="0.8"/>
<rect x="252.6" y="168.6" width="14.7" height="12.8" fill="#7297EE" stroke="#000" stroke-width="0.5" stroke-opacity="0.8"/>
<rect x="252.6" y="181.4" width="14.7" height="12.8" fill="#4169E1" stroke="#000" stroke-width="0.5" stroke-opacity="0.8"/>
<rect x="252.6" y="194.2" width="14.7" height="12.8" fill="#0000CD" stroke="#000" stroke-width="0.5" stroke-opacity="0.8"/>
<rect x="252.6" y="207" width="14.7" height="12.8" fill="#9370DB" stroke="#000" stroke-width="0.5" stroke-opacity="0.8"/>
<text x="271.4" y="18.7" font-size="10">3200</text>
<text x="271.4" y="31.5" font-size="10">3160</text>
<text x="271.4" y="44.3" font-size="10">3120</text>
<text x="271.4" y="57.1" font-size="10">3080</text>
<text x="271.4" y="69.9" font-size="10">3040</text>
<text x="271.4" y="82.7" font-size="10">3000</text>
<text x="271.4" y="95.5" font-size="10">2960</text>
<text x="271.4" y="108.3" font-size="10">2920</text>
<text x="271.4" y="121.1" font-size="10">2880</text>
<text x="271.4" y="133.9" font-size="10">2840</text>
<text x="271.4" y="146.7" font-size="10">2800</text>
<text x="271.4" y="159.5" font-size="10">2760</text>
<text x="271.4" y="172.3" font-size="10">2720</text>
<text x="271.4" y="185.1" font-size="10">2680</text>
<text x="271.4" y="197.9" font-size="10">2640</text>
<text x="271.4" y="210.7" font-size="10">2600</text>
<text x="-0.5" y="-11.8" font-size="12.65">700 hPa</text>
<text x="242.4" y="-14.4" text-anchor="end" font-size="12.7">vinth2p: no extrapolation</text>
</g>
<g transform="translate(377.55 304.9)">
<g clip-path="url(#fc)">
<rect x="0" y="0" width="241.4" height="222.1" fill="#B22222"/>
<path d="M-1.5 69.7C-0 69.9 4.5 70.7 7.2 71C10 71.3 12.5 71.7 14.8 71.6C17 71.5 18.9 70.3 21 70.6C23.1 70.9 24.8 72.5 27.2 73.5C29.8 74.5 33.3 75.7 36 76.6C38.7 77.5 41 78.5 43.5 79.1C46 79.7 49.3 80.6 51 80.1C52.7 79.6 52.7 76.4 53.5 76C54.3 75.6 54.8 77.3 56 77.9C57.2 78.4 59.1 78.8 61 79.1C62.9 79.4 65.2 79.2 67.2 79.7C69.3 80.2 70.8 81.2 73.5 82.2C76.2 83.3 80.6 84.9 83.5 86C86.4 87 88.5 88.1 91 88.5C93.5 88.9 96 88.7 98.5 88.5C101 88.3 103.5 87.6 106 87.2C108.5 86.8 111.3 86.4 113.5 86C115.7 85.6 116.8 85.1 119 84.7C121.2 84.3 124 83.8 126.5 83.5C129 83.2 131.5 82.9 134 82.9C136.5 82.9 139.4 83.1 141.5 83.5C143.6 83.9 144.8 85.1 146.5 85.4C148.2 85.6 149.8 85 151.5 84.7C153.2 84.4 154.8 83.9 156.5 83.5C158.2 83.1 159.4 82.5 161.5 82.2C163.6 81.9 166.7 81.6 169 81.6C171.3 81.6 173.2 81.9 175.2 82.2C177.3 82.5 179.6 83 181.5 83.5C183.4 84 184.8 84.9 186.5 85.4C188.2 85.8 189.4 85.9 191.5 86C193.6 86.1 196.7 85.8 199 86C201.3 86.1 203.7 86.2 205.2 86.9C206.8 87.5 207.6 88.7 208.4 89.7C209.1 90.7 209.7 91.8 209.6 92.9C209.5 93.9 207.9 94.8 207.8 96C207.6 97.1 208.4 99 209 99.7C209.6 100.5 210.7 100.8 211.5 100.4C212.3 99.9 212.8 98 214 97.2C215.2 96.5 216.9 96.2 219 96C221.1 95.8 224 95.9 226.5 96C229 96.1 231.2 96.5 234 96.6C236.8 96.7 241.8 96.4 243.4 96.4L243.4 52.1C241.4 52.1 235.6 52.1 231.5 52.1C227.4 52.1 223.2 52.2 219 52.4C214.8 52.5 210.2 52.7 206.5 53C202.8 53.2 199.8 53.4 196.5 53.9C193.2 54.3 189.8 54.9 186.5 55.5C183.2 56.1 179.8 56.7 176.5 57.4C173.2 58 169.8 58.9 166.5 59.6C163.2 60.4 159 61.2 156.5 61.9C154 62.5 153.6 63 151.5 63.5C149.4 64 146.9 64.2 144 64.7C141.1 65.2 137.1 65.8 134 66.4C130.9 66.9 127.8 67.5 125.2 68.1C122.8 68.7 120.2 69.6 119 70.1C117.8 70.6 118.8 70.9 117.9 71C117 71 115.5 71 113.5 70.4C111.5 69.7 108.5 68.3 106 67.2C103.5 66.2 101 65 98.5 64.1C96 63.2 93.5 62.1 91 61.9C88.5 61.6 86.4 62.4 83.5 62.9C80.6 63.3 76.8 64.1 73.5 64.7C70.2 65.4 66.6 66.5 63.5 66.9C60.4 67.2 57.7 66.7 54.8 66.6C51.8 66.5 48.7 66.1 46 66.4C43.3 66.6 41 67.4 38.5 67.9C36 68.3 33.1 68.9 31 68.9C28.9 68.9 27.4 68.9 26 67.9C24.6 66.9 23.7 63.3 22.9 62.9C22 62.4 21.9 65.4 21 65.1C20.1 64.8 18.7 62.4 17.2 61.1C15.8 59.8 14.1 58.3 12.2 57.4C10.4 56.4 8.3 55.9 6 55.5C3.7 55.1 -0.2 55 -1.5 54.9Z" fill="#FFB6C1" stroke="#000" stroke-width="0.55" stroke-opacity="0.9"/>
<path d="M-1.1 46.1C0.6 46.3 5.6 46.6 8.9 47.1C12.2 47.6 15.6 48.5 18.9 49.2C22.2 50 25.6 51 28.9 51.7C32.2 52.5 35.6 53.2 38.9 53.9C42.2 54.5 45.6 55.3 48.9 55.9C52.2 56.4 56 57 58.9 57.1C61.8 57.2 63.9 56.7 66.4 56.4C68.9 56 71 55.1 73.9 54.9C76.8 54.6 80.6 54.7 83.9 54.6C87.2 54.5 91 54.4 93.9 54.2C96.8 54.1 98.9 53.5 101.4 53.6C103.9 53.7 106.8 54.1 108.9 54.9C111 55.6 112.2 57.1 113.9 58C115.6 58.8 116.9 59.7 119 59.9C121.1 60 123.6 59.3 126.5 58.6C129.4 57.9 133.2 56.9 136.5 55.9C139.8 54.8 143.2 53.4 146.5 52.4C149.8 51.4 153.2 50.5 156.5 49.9C159.8 49.2 163.2 48.9 166.5 48.6C169.8 48.3 172.8 48.2 176.5 48C180.2 47.8 184.8 47.6 189 47.4C193.2 47.1 197.3 46.9 201.5 46.7C205.7 46.5 209.8 46.3 214 46.1C218.2 45.9 221.7 45.7 226.5 45.5C231.3 45.2 240 44.7 242.8 44.6L243.4 -2L-2 -2Z" fill="#FF4500" stroke="#000" stroke-width="0.55" stroke-opacity="0.9"/>
<path d="M-1.1 38.4C0.1 38.3 4.1 37.8 6.4 38C8.7 38.1 10.4 38.5 12.6 39.2C14.9 40 17.6 41.2 20.1 42.4C22.6 43.5 24.9 45 27.6 46.1C30.4 47.2 33.3 48.4 36.4 49.2C39.5 50.1 43.1 50.6 46.4 51.1C49.7 51.6 53.1 52.1 56.4 52.1C59.7 52.1 63.7 51.6 66.4 51.1C69.1 50.6 70.6 49.4 72.6 49.2C74.7 49 76.2 49.6 78.9 49.9C81.6 50.1 86 50.6 88.9 50.5C91.8 50.3 93.9 49.1 96.4 48.9C98.9 48.6 101.6 48.9 103.9 49.2C106.2 49.6 108.3 50.2 110.1 51.1C112 52 113.7 54.1 115.1 54.9C116.6 55.6 117.1 55.8 119 55.9C120.9 55.9 124.4 55.4 126.5 55.1C128.6 54.8 129.4 55 131.5 54.2C133.6 53.5 136.3 51.8 139 50.5C141.7 49.1 144.8 47.3 147.8 46.1C150.7 44.9 153.4 43.9 156.5 43.4C159.6 42.8 163.2 42.8 166.5 42.6C169.8 42.4 172.8 42.4 176.5 42.4C180.2 42.3 184.8 42.2 189 42.1C193.2 42 197.3 41.9 201.5 41.7C205.7 41.6 209.8 41.3 214 41.1C218.2 40.9 221.7 40.7 226.5 40.5C231.3 40.2 240 39.7 242.8 39.6L243.4 -2L-2 -2Z" fill="#FFA500" stroke="#000" stroke-width="0.55" stroke-opacity="0.9"/>
<path d="M-1.1 29.2C0.1 29.3 4.5 29.9 6.4 29.9C8.3 29.8 8.5 28.9 10.1 28.9C11.8 28.9 14.1 29.4 16.4 29.9C18.7 30.3 21.9 30.9 23.9 31.7C25.9 32.6 27 33.6 28.3 34.9C29.5 36.1 30.3 37.8 31.4 39.2C32.5 40.7 33.7 42.5 35.1 43.6C36.6 44.7 38.3 45.4 40.1 46.1C42 46.8 44.1 47.2 46.4 47.6C48.7 48 51.4 48.4 53.9 48.4C56.4 48.3 59.1 47.6 61.4 47.1C63.7 46.6 65.6 45.5 67.6 45.1C69.7 44.7 71.2 44.5 73.9 44.6C76.6 44.7 81 45.4 83.9 45.5C86.8 45.6 88.9 45.1 91.4 45.1C93.9 45.1 96.4 45.3 98.9 45.5C101.4 45.7 104.3 45.9 106.4 46.4C108.5 46.8 109.9 47.2 111.4 48C112.9 48.8 113.9 50.6 115.1 51.1C116.4 51.6 117.3 51 119 51.1C120.7 51.2 123.2 51.8 125.2 51.7C127.3 51.6 129.4 51.3 131.5 50.5C133.6 49.6 135.7 48 137.8 46.7C139.8 45.5 141.7 44.2 144 43C146.3 41.7 149 40.1 151.5 39.2C154 38.4 156.1 38.2 159 38C161.9 37.8 165.7 38 169 38C172.3 37.9 175.7 37.7 179 37.6C182.3 37.5 185.2 37.6 189 37.6C192.8 37.6 197.3 37.7 201.5 37.6C205.7 37.5 209.8 37.3 214 37.1C218.2 36.9 221.7 36.6 226.5 36.4C231.3 36.1 240 35.6 242.8 35.5L243.4 -2L-2 -2Z" fill="#FFDF00" stroke="#000" stroke-width="0.55" stroke-opacity="0.9"/>
<path d="M-1.1 19.2C0.1 19.3 3.9 19.4 6.4 19.9C8.9 20.3 11.4 21.2 13.9 21.7C16.4 22.2 18.9 22.5 21.4 23C23.9 23.5 26.4 23.9 28.9 24.6C31.4 25.3 34.4 26.3 36.4 27.4C38.4 28.4 39.9 29.6 40.8 31.1C41.6 32.6 41.2 34.6 41.4 36.1C41.6 37.6 41.4 38.7 42 39.9C42.6 41 43.8 42.2 45.1 43C46.5 43.8 48.5 44.3 50.1 44.6C51.8 44.9 53.5 45.1 55.1 44.9C56.8 44.6 58.5 43.7 60.1 43C61.8 42.2 63.3 41 65.1 40.5C67 39.9 68.7 39.7 71.4 39.6C74.1 39.5 78.1 39.9 81.4 40.1C84.7 40.3 88.1 40.6 91.4 40.9C94.7 41.1 98.5 41.1 101.4 41.4C104.3 41.6 106.8 41.7 108.9 42.1C111 42.5 112.5 43.1 113.9 43.6C115.3 44.1 116.2 45 117 44.9C117.9 44.7 117.6 42.8 119 42.6C120.4 42.4 123.2 43.5 125.2 43.6C127.3 43.7 129.6 43.5 131.5 43C133.4 42.5 134.6 41.5 136.5 40.5C138.4 39.4 140.7 37.9 142.8 36.7C144.8 35.6 146.7 34.3 149 33.6C151.3 32.9 153.6 32.6 156.5 32.6C159.4 32.6 163.2 33.1 166.5 33.4C169.8 33.6 173.2 34 176.5 34.2C179.8 34.4 182.8 34.6 186.5 34.6C190.2 34.6 194.8 34.4 199 34.2C203.2 34.1 206.9 33.9 211.5 33.6C216.1 33.3 221.3 32.9 226.5 32.6C231.7 32.3 240 31.9 242.8 31.7L243.4 -2L-2 -2Z" fill="#DEB887" stroke="#000" stroke-width="0.55" stroke-opacity="0.9"/>
<path d="M-1.1 13C-0.3 13.3 1.8 14.2 3.9 14.9C6 15.5 8.5 16.1 11.4 16.7C14.3 17.4 18.1 18.1 21.4 18.6C24.7 19.1 28.1 19.5 31.4 19.9C34.7 20.2 38.5 20.5 41.4 20.9C44.3 21.2 46.6 21.4 48.9 21.7C51.2 22.1 53.3 22.4 55.1 23C57 23.6 58.7 24.4 60.1 25.5C61.6 26.5 62.4 28.2 63.9 29.2C65.4 30.3 66.8 31.1 68.9 31.7C71 32.4 73.5 32.6 76.4 33C79.3 33.4 83.1 33.8 86.4 34.2C89.7 34.6 93.1 35 96.4 35.5C99.7 36 103.5 36.6 106.4 37.1C109.3 37.6 111.9 38.2 113.9 38.6C115.9 39 117.4 39.1 118.3 39.2C119.1 39.3 117.5 39.4 118.9 39.1C120.3 38.8 124.4 38.4 126.7 37.6C129 36.8 130.6 35.5 132.6 34.2C134.6 32.9 136.8 31 138.6 29.7C140.4 28.4 141.9 27 143.5 26.3C145.1 25.6 146.6 25.3 148.4 25.3C150.2 25.3 152 25.8 154.3 26.3C156.6 26.8 159.6 27.7 162.2 28.3C164.8 28.9 167.5 29.5 170.1 29.9C172.7 30.3 175.1 30.7 178 30.9C180.9 31.1 184.5 31 187.8 30.9C191.1 30.8 194.2 30.5 197.7 30.2C201.2 29.9 205.9 29.2 209 29.2C212.1 29.2 213.2 30.2 216.5 30.1C219.8 30 224.6 29.2 229 28.9C233.4 28.5 240.7 28.1 243 28L243.4 -2L-2 -2Z" fill="#F5E4BD" stroke="#000" stroke-width="0.55" stroke-opacity="0.9"/>
<path d="M52.9 30.2C54.2 30.2 56 30.9 56.9 31.7C57.8 32.6 58.5 34.2 58.5 35.5C58.5 36.7 57.8 38.4 56.9 39.2C56 40.1 54.2 40.7 52.9 40.7C51.6 40.7 49.8 40.1 48.9 39.2C48 38.4 47.3 36.7 47.3 35.5C47.3 34.2 48 32.6 48.9 31.7C49.8 30.9 51.6 30.2 52.9 30.2Z" fill="#F5E4BD" stroke="#000" stroke-width="0.55" stroke-opacity="0.9"/>
<path d="M11.4 -0.8C11.4 0.2 11 3.3 11.4 4.9C11.8 6.4 12.6 7.5 13.9 8.6C15.1 9.7 16.8 10.9 18.9 11.7C21 12.6 23.5 13.1 26.4 13.6C29.3 14.1 33.1 14.6 36.4 14.9C39.7 15.1 43.1 15 46.4 15.1C49.7 15.2 53.1 15.2 56.4 15.5C59.7 15.7 63.7 16.1 66.4 16.7C69.1 17.4 71 18.3 72.6 19.2C74.3 20.2 75.5 21.2 76.4 22.4C77.3 23.5 77.2 25 78.3 26.1C79.3 27.2 80.9 28.2 82.6 28.9C84.4 29.5 86.2 29.8 88.9 30.1C91.6 30.4 95.6 30.2 98.9 30.5C102.2 30.7 106 31.1 108.9 31.7C111.8 32.4 114.7 33.7 116.4 34.2C118.1 34.7 117.9 35.1 119.3 34.7C120.7 34.3 123.6 32.9 124.8 31.7C126 30.6 126.7 29.1 126.7 27.8C126.7 26.5 125.5 25 124.8 23.8C124.1 22.7 122.2 21.7 122.3 20.9C122.5 20.1 123.8 19.4 125.7 18.9C127.6 18.4 130.6 18.1 133.6 18.1C136.6 18.1 140.4 18.4 143.5 18.9C146.6 19.4 149.5 20.2 152.3 20.9C155.1 21.6 157.6 22.6 160.2 23.3C162.8 24 165.1 24.7 168.1 25.3C171.1 25.9 174.7 26.6 178 27C181.3 27.4 184.5 27.8 187.8 28C191.1 28.2 194.2 28.4 197.7 28.3C201.2 28.2 203.8 27.6 209 27.3C214.2 27 223.3 26.9 229 26.7C234.7 26.5 240.7 26.2 243 26.1" fill="none" stroke="#000" stroke-width="0.55" stroke-opacity="0.9"/>
<path d="M21 -0.8C21.3 -0 21.8 2.4 22.9 3.6C23.9 4.9 25.5 5.9 27.2 6.7C29 7.6 31.2 8 33.5 8.6C35.8 9.2 38.3 9.7 41 10.1C43.7 10.5 46.8 10.8 49.8 10.9C52.7 10.9 55.4 10.7 58.5 10.5C61.6 10.2 65.2 9.6 68.5 9.2C71.8 8.8 75.2 8.3 78.5 8C81.8 7.7 85.2 7.4 88.5 7.4C91.8 7.4 95.2 7.7 98.5 8C101.8 8.3 105.6 8.9 108.5 9.2C111.4 9.5 114.2 9.7 116 9.9C117.8 10 117.2 10 119 10.1C120.8 10.2 124 10.4 126.5 10.6C129 10.8 131.5 11 134 11.4C136.5 11.7 139 12.3 141.5 12.9C144 13.4 146.1 13.9 149 14.9C151.9 15.8 155.9 17.3 159 18.4C162.1 19.4 164.6 20.1 167.5 21C170.4 21.8 173.3 22.8 176.1 23.5C179 24.2 181.8 24.7 184.6 25.2C187.5 25.7 190.4 26.1 193.2 26.5C196.1 26.8 198.9 27.2 201.8 27.4C204.6 27.5 207.5 27.3 210.4 27.1C213.2 26.9 216.1 26.5 219 26.2C221.9 25.9 223.5 25.7 227.5 25.2C231.5 24.8 240.2 23.9 242.8 23.6L243.4 -2Z" fill="#2E8B57" stroke="#000" stroke-width="0.55" stroke-opacity="0.9"/>
<path d="M97.6 24.1C97.6 23.9 100 23.4 101.1 23.4C102.3 23.4 104.6 23.9 104.6 24.1C104.6 24.4 102.3 24.9 101.1 24.9C100 24.9 97.6 24.4 97.6 24.1Z" fill="#2E8B57" stroke="#000" stroke-width="0.55" stroke-opacity="0.9"/>
<path d="M30.4 -0.8C31.1 -0 33 2.5 34.8 3.6C36.5 4.7 38.7 5.4 41 6.1C43.3 6.8 46 7.3 48.5 7.6C51 7.9 53.5 8 56 8C58.5 7.9 61 7.8 63.5 7.4C66 6.9 68.7 6.2 71 5.5C73.3 4.7 75.5 4 77.2 3C79 1.9 80.9 -0.1 81.6 -0.8Z" fill="#9ACD32" stroke="#000" stroke-width="0.55" stroke-opacity="0.9"/>
<path d="M129.6 -0.8C130.8 -0.1 134.1 1.7 136.5 3C138.9 4.2 141.5 5.4 144 6.7C146.5 8 149 9.6 151.5 10.9C154 12.1 156.3 13 159 14.1C161.7 15.2 164.6 16.4 167.5 17.5C170.4 18.5 173.3 19.6 176.1 20.5C179 21.3 181.8 22 184.6 22.6C187.5 23.2 190.4 23.9 193.2 24.4C196.1 24.8 198.9 25.1 201.8 25.2C204.6 25.3 207.5 25.2 210.4 25C213.2 24.8 216.1 24.4 219 24C221.9 23.6 223.5 23.1 227.5 22.6C231.5 22.1 240.2 21.2 242.8 21L243.4 -2Z" fill="#9ACD32" stroke="#000" stroke-width="0.55" stroke-opacity="0.9"/>
<path d="M38.5 -0.8C39.3 -0.1 41.6 2.1 43.5 3C45.4 3.9 47.5 4.3 49.8 4.6C52 4.9 54.8 5 57.2 4.9C59.8 4.7 62.7 4.1 64.8 3.6C66.8 3.1 68.6 2.5 69.8 1.7C70.9 1 71.3 -0.4 71.6 -0.8Z" fill="#20B2AA" stroke="#000" stroke-width="0.55" stroke-opacity="0.9"/>
<path d="M142.1 -0.8C143.3 -0 146.2 2.1 149 3.9C151.8 5.6 155.9 8.2 159 9.9C162.1 11.5 164.6 12.4 167.5 13.6C170.4 14.8 173.3 16.1 176.1 17.1C179 18.1 181.8 18.9 184.6 19.6C187.5 20.3 190.4 20.9 193.2 21.4C196.1 21.9 198.9 22.4 201.8 22.6C204.6 22.8 207.5 22.7 210.4 22.5C213.2 22.3 216.1 21.7 219 21.4C221.9 21 223.5 20.7 227.5 20.1C231.5 19.5 240.2 18.3 242.8 18L243.4 -2Z" fill="#20B2AA" stroke="#000" stroke-width="0.55" stroke-opacity="0.9"/>
<path d="M153.4 -0.8C154.3 0.1 156.6 3 159 4.6C161.4 6.2 164.6 7.5 167.5 9C170.4 10.4 173.3 12 176.1 13.2C179 14.4 181.8 15.4 184.6 16.2C187.5 17.1 190.7 17.8 193.2 18.4C195.8 18.9 197.8 19.3 200.1 19.6C202.4 19.9 204.4 20.2 207 20.1C209.6 20 212.1 19.3 215.5 18.7C218.9 18.1 223 17.3 227.5 16.6C232 15.9 240.2 14.8 242.8 14.5L243.4 -2Z" fill="#B0E0E6" stroke="#000" stroke-width="0.55" stroke-opacity="0.9"/>
<path d="M176.1 -0.8C176.2 -0 176.1 2.5 176.5 3.9C176.9 5.2 177.7 6.1 178.8 7.2C179.8 8.4 181.4 9.6 183 10.6C184.6 11.6 186.1 12.4 188.1 13.2C190.1 14 192.7 14.8 195 15.4C197.3 15.9 199.5 16.3 201.8 16.6C204 16.9 206 17.2 208.6 17.1C211.2 17 214.1 16.4 217.2 15.9C220.4 15.3 223.2 14.2 227.5 13.6C231.8 13 240.2 12.2 242.8 12L243.4 -2Z" fill="#7297EE" stroke="#000" stroke-width="0.55" stroke-opacity="0.9"/>
<path d="M190.2 -0.8C190.3 0.1 190.1 3 190.6 4.6C191.1 6.2 192.1 7.7 193.2 9C194.4 10.2 195.8 11.2 197.5 12C199.2 12.7 201.4 13.3 203.5 13.6C205.6 13.9 207.8 13.8 210.4 13.6C213 13.4 216.1 12.9 219 12.4C221.9 11.9 223.5 11.2 227.5 10.6C231.5 10 240.2 8.8 242.8 8.5L243.4 -2Z" fill="#4169E1" stroke="#000" stroke-width="0.55" stroke-opacity="0.9"/>
<path d="M202.6 -0.8C202.5 0.1 201.6 3.1 201.8 4.6C201.9 6.1 202.6 7.2 203.5 8.1C204.4 9 205.3 9.5 207 9.9C208.7 10.2 210.9 10.4 213.8 10.2C216.6 10.1 221 9.5 224.1 9C227.3 8.5 229.5 7.8 232.6 7.2C235.7 6.6 241.1 5.8 242.8 5.5L243.4 -2Z" fill="#0000CD" stroke="#000" stroke-width="0.55" stroke-opacity="0.9"/>
<path d="M223.4 -0.8C223.9 -0.5 225 0.4 226.5 0.9C228 1.3 229.9 1.6 232.6 1.9C235.3 2.1 241.1 2.4 242.8 2.5L243.4 -2Z" fill="#9370DB" stroke="#000" stroke-width="0.55" stroke-opacity="0.9"/>
<path d="M-1.5 153.5C-0.2 153.5 3.7 153.6 6 153.9C8.3 154.1 10.2 154.7 12.2 155.1C14.3 155.5 15.8 155.7 18.5 156C21.2 156.2 25.4 156.5 28.5 156.6C31.6 156.7 34.9 156.7 37.2 156.6C39.6 156.5 41.2 155.6 42.9 156C44.5 156.4 45.7 158.1 47.2 159.1C48.8 160.1 50.6 161.4 52.2 162.2C53.9 163.1 55.4 163.8 57.2 164.1C59.1 164.4 61.6 164 63.5 163.9C65.4 163.7 66.6 163.3 68.5 163.5C70.4 163.6 72.7 164.1 74.8 164.7C76.8 165.4 79.2 166.4 81 167.2C82.8 168.1 84.6 168.9 85.4 169.7C86.1 170.6 85.9 171.4 85.4 172.2C84.9 173.1 83.8 174.1 82.2 174.7C80.7 175.4 78.3 175.7 76 176C73.7 176.3 71.4 176.2 68.5 176.6C65.6 177 61.6 177.5 58.5 178.1C55.4 178.7 52.2 179.4 49.8 180.1C47.2 180.8 45.2 181.4 43.5 182.2C41.8 183.1 41 184.2 39.8 185.4C38.5 186.5 37.9 187.9 36 189.1C34.1 190.4 31.4 191.7 28.5 192.9C25.6 194 21.8 195 18.5 196C15.2 196.9 11.8 197.8 8.5 198.5C5.2 199.2 0.2 199.8 -1.5 200.1Z" fill="#FFB6C1" stroke="#000" stroke-width="0.55" stroke-opacity="0.9"/>
<path d="M-1.5 179.1C-0.6 179.4 2.8 180.1 4.1 181C5.5 181.8 6.5 183.1 6.6 184.1C6.7 185.1 6.1 186.3 4.8 187.2C3.4 188.2 -0.5 189.3 -1.5 189.7Z" fill="#FF1493" stroke="#000" stroke-width="0.55" stroke-opacity="0.9"/>
<path d="M27.6 135.1C27.6 135.9 27.1 136.9 26.4 137.5C25.7 138 24.5 138.5 23.5 138.5C22.5 138.5 21.3 138 20.6 137.5C19.9 136.9 19.4 135.9 19.4 135.1C19.4 134.3 19.9 133.3 20.6 132.7C21.3 132.2 22.5 131.7 23.5 131.7C24.5 131.7 25.7 132.2 26.4 132.7C27.1 133.3 27.6 134.3 27.6 135.1Z" fill="#FF4500" stroke="#000" stroke-width="0.55" stroke-opacity="0.9"/>
<path d="M-1.5 206.4C0.2 206.1 5.2 205.4 8.5 204.7C11.8 204 15.2 203.1 18.5 202.2C21.8 201.4 25.2 200.6 28.5 199.7C31.8 198.9 35.2 198.1 38.5 197.2C41.8 196.4 45.2 195.5 48.5 194.7C51.8 194 55.2 193.5 58.5 192.9C61.8 192.2 65.2 191.6 68.5 191C71.8 190.4 75.2 189.7 78.5 189.1C81.8 188.5 85.2 187.7 88.5 187.2C91.8 186.7 95.6 186.3 98.5 186C101.4 185.6 104 185.7 106 185.1C108 184.5 109.5 183.4 110.4 182.2C111.2 181 110.6 179.4 111 177.9C111.4 176.3 111.8 174.5 112.9 172.9C113.9 171.2 115.6 169.5 117.2 167.9C118.9 166.2 121.7 164.3 123 162.9C124.3 161.4 123.6 160.8 125.2 159.1C126.9 157.4 130.2 154.5 132.8 152.9C135.2 151.2 137.5 150.2 140.2 149.1C143 148 146.3 146.7 149 146C151.7 145.2 154.3 144.8 156.5 144.7C158.7 144.7 160.6 144.9 162.1 145.6C163.7 146.3 164.9 147.7 165.9 149.1C166.9 150.5 167.8 152.2 168 154.1C168.2 156 167.6 158.3 167.1 160.4C166.7 162.4 166.1 164.5 165.2 166.6C164.4 168.7 163.4 170.9 162.1 172.9C160.9 174.8 159.3 176.9 157.8 178.5C156.2 180 154.6 181.1 152.8 182.2C150.9 183.4 148.2 184.5 146.5 185.4C144.8 186.2 143.9 186.6 142.8 187.2C141.6 187.9 140 188.2 139.6 189.1C139.2 190 139.5 191.4 140.2 192.9C141 194.3 142.3 196.2 144 197.9C145.7 199.5 148 201.3 150.2 202.9C152.5 204.4 155 205.9 157.8 207.2C160.5 208.6 163.4 209.9 166.5 211C169.6 212 173.2 212.9 176.5 213.5C179.8 214.1 183.2 214.5 186.5 214.7C189.8 214.9 193.2 214.9 196.5 214.7C199.8 214.6 203.2 214.4 206.5 213.9C209.8 213.3 213.4 212.4 216.5 211.6C219.6 210.8 222.8 209.9 225.2 209.1C227.8 208.3 229.8 207.6 231.5 206.6C233.2 205.6 234.4 204.3 235.2 202.9C236.1 201.4 236.1 199.2 236.5 197.9C236.9 196.5 236.6 195.5 237.8 194.7C238.9 194 242.4 193.7 243.4 193.5L243.4 224.1L-2 224.1Z" fill="#FF4500" stroke="#000" stroke-width="0.55" stroke-opacity="0.9"/>
<path d="M243.4 147.6C241.4 147.6 234.5 147.5 231.5 147.6C228.5 147.7 226.1 147.4 225.2 148.5C224.4 149.6 225.9 152.1 226.5 154.1C227.1 156.1 228.2 158.1 229 160.4C229.8 162.6 230.7 165.8 231.5 167.9C232.3 169.9 233 171.3 234 172.9C235 174.4 236.2 176 237.8 177.2C239.3 178.5 242.4 179.8 243.4 180.4Z" fill="#FF4500" stroke="#000" stroke-width="0.55" stroke-opacity="0.9"/>
<path d="M180.2 176.6C180.4 175.5 180.7 174.1 181.5 172.9C182.3 171.6 184 170 185.2 169.1C186.5 168.2 187.5 167.6 189 167.6C190.5 167.6 192.3 168.4 194 169.1C195.7 169.8 196.9 171.1 199 171.6C201.1 172.1 204.4 171.9 206.5 172.2C208.6 172.6 209.9 172.9 211.5 173.9C213.1 174.8 214.7 176.5 215.9 177.9C217 179.2 218.3 180.9 218.4 182.2C218.5 183.6 217.4 184.8 216.5 186C215.6 187.1 214.2 188.2 212.8 189.1C211.3 190 209.4 191.1 207.8 191.6C206.1 192.1 204.4 192 202.8 191.9C201.1 191.7 199.2 191.4 197.8 191C196.3 190.5 195.5 189.4 194 189.1C192.5 188.8 190.2 189.6 189 189.1C187.8 188.6 187.3 187.1 186.5 186C185.7 184.8 184.9 183.3 184 182.2C183.1 181.2 181.5 180.7 180.9 179.7C180.2 178.8 180.1 177.7 180.2 176.6Z" fill="#FFB6C1" stroke="#000" stroke-width="0.55" stroke-opacity="0.9"/>
<path d="M174 201C174.3 200.1 175.2 198.6 176.5 197.9C177.8 197.1 179.8 196.4 181.5 196.4C183.2 196.3 184.8 196.8 186.5 197.6C188.2 198.4 190.2 199.9 191.5 201C192.8 202.1 193.9 203.1 194.2 204.1C194.6 205.1 194.2 206.6 193.4 207.2C192.5 207.9 190.8 208.1 189 208.1C187.2 208.1 184.6 207.8 182.8 207.2C180.9 206.7 179.1 205.5 177.8 204.7C176.4 204 175.2 203.5 174.6 202.9C174 202.2 173.7 201.8 174 201Z" fill="#FFB6C1" stroke="#000" stroke-width="0.55" stroke-opacity="0.9"/>
<path d="M-1.5 210.1C0.2 209.9 5.2 209.4 8.5 208.9C11.8 208.3 15.2 207.4 18.5 206.6C21.8 205.8 25.2 204.9 28.5 204.1C31.8 203.3 35.2 202.3 38.5 201.6C41.8 200.9 45.2 200.2 48.5 199.7C51.8 199.3 55.2 199.1 58.5 198.9C61.8 198.6 65.2 198.6 68.5 198.5C71.8 198.3 75.2 198.2 78.5 197.9C81.8 197.5 85.2 196.9 88.5 196.4C91.8 195.8 95.2 194.8 98.5 194.4C101.8 193.9 105.6 193.9 108.5 193.9C111.4 193.9 114.2 194.1 116 194.4C117.8 194.6 117.2 195.2 119 195.6C120.8 196 124 195.9 126.5 196.6C129 197.3 131.5 198.5 134 199.7C136.5 201 138.8 202.6 141.5 204.1C144.2 205.6 147.1 207 150.2 208.5C153.4 209.9 156.9 211.6 160.2 212.9C163.6 214.1 166.9 215.2 170.2 216C173.6 216.8 176.9 217.2 180.2 217.6C183.6 218 186.9 218.4 190.2 218.5C193.6 218.6 196.9 218.3 200.2 218.1C203.6 217.9 206.9 217.6 210.2 217.2C213.6 216.8 217.1 216.2 220.2 215.6C223.4 215 226.3 214.2 229 213.5C231.7 212.8 234.1 212 236.5 211.4C238.9 210.7 242.2 210 243.4 209.7L243.4 224.1L-2 224.1Z" fill="#FFA500" stroke="#000" stroke-width="0.55" stroke-opacity="0.9"/>
<path d="M-1.5 213.1C0.2 212.9 5.2 212.4 8.5 211.9C11.8 211.3 15.2 210.5 18.5 209.7C21.8 209 25.2 208.1 28.5 207.2C31.8 206.4 35.2 205.5 38.5 204.7C41.8 204 45.2 203.3 48.5 202.9C51.8 202.4 55.2 202.3 58.5 202.2C61.8 202.1 65.2 202.2 68.5 202.2C71.8 202.2 75.2 202.3 78.5 202.2C81.8 202.1 85.2 201.9 88.5 201.6C91.8 201.3 95.2 200.8 98.5 200.6C101.8 200.4 105.6 200.3 108.5 200.4C111.4 200.4 114.2 200.7 116 201C117.8 201.3 117.2 201.9 119 202.2C120.8 202.6 124 202.5 126.5 203.1C129 203.7 131.5 204.8 134 206C136.5 207.2 138.8 209 141.5 210.4C144.2 211.7 147.1 213 150.2 214.1C153.4 215.2 156.9 216.4 160.2 217.2C163.6 218.1 166.9 218.8 170.2 219.4C173.6 219.9 176.9 220.3 180.2 220.6C183.6 220.9 186.9 221.1 190.2 221.2C193.6 221.3 196.9 221.3 200.2 221.2C203.6 221.1 206.9 221 210.2 220.6C213.6 220.2 217.1 219.7 220.2 219.1C223.4 218.5 226.3 217.9 229 217.2C231.7 216.6 234.1 215.7 236.5 215.1C238.9 214.5 242.2 214.1 243.4 213.9L243.4 224.1L-2 224.1Z" fill="#FFDF00" stroke="#000" stroke-width="0.55" stroke-opacity="0.9"/>
<path d="M-1.5 215.6C0.2 215.4 5.2 214.9 8.5 214.4C11.8 213.8 15.2 213 18.5 212.2C21.8 211.5 25.2 210.6 28.5 209.7C31.8 208.9 35.2 207.9 38.5 207.2C41.8 206.5 45.2 206 48.5 205.6C51.8 205.2 55.2 205.1 58.5 205.1C61.8 205.1 65.2 205.4 68.5 205.6C71.8 205.8 75.2 206.2 78.5 206.4C81.8 206.5 85.2 206.7 88.5 206.6C91.8 206.5 95.2 206.1 98.5 206C101.8 205.8 105.6 205.5 108.5 205.6C111.4 205.7 114.2 206 116 206.4C117.8 206.7 117.2 207.2 119 207.6C120.8 208 124 207.8 126.5 208.5C129 209.1 131.5 210.5 134 211.6C136.5 212.7 138.8 214.1 141.5 215.4C144.2 216.6 147.1 217.9 150.2 218.9C153.4 219.9 157.3 220.6 160.2 221.4C163.2 222.1 166.5 222.8 167.8 223.1L-2 224.1Z" fill="#DEB887" stroke="#000" stroke-width="0.55" stroke-opacity="0.9"/>
<path d="M217.8 223.1C219.2 222.7 223.8 221.6 226.5 221C229.2 220.3 231.2 219.7 234 219.1C236.8 218.5 241.8 217.5 243.4 217.2L243.4 224.1Z" fill="#DEB887" stroke="#000" stroke-width="0.55" stroke-opacity="0.9"/>
<path d="M-1.5 217.6C0.2 217.4 5.2 216.9 8.5 216.4C11.8 215.8 15.2 215.1 18.5 214.4C21.8 213.6 25.2 212.7 28.5 211.9C31.8 211 35.2 210.1 38.5 209.4C41.8 208.6 45.2 208 48.5 207.6C51.8 207.2 55.2 206.9 58.5 206.9C61.8 206.8 65.2 207 68.5 207.2C71.8 207.5 75.2 208.1 78.5 208.5C81.8 208.8 85.2 209.2 88.5 209.4C91.8 209.5 95.2 209.3 98.5 209.4C101.8 209.4 105.6 209.5 108.5 209.7C111.4 210 114.2 210.6 116 211C117.8 211.4 117.2 211.9 119 212.2C120.8 212.6 124 212.5 126.5 213.1C129 213.7 131.5 215 134 216C136.5 217 139 218.2 141.5 219.1C144 220 147.1 220.9 149 221.6C150.9 222.3 152.1 222.9 152.8 223.1L-2 224.1Z" fill="#F5E4BD" stroke="#000" stroke-width="0.55" stroke-opacity="0.9"/>
<path d="M234 223.1 L243.4 220.4L243.4 224.1Z" fill="#F5E4BD" stroke="#000" stroke-width="0.55" stroke-opacity="0.9"/>
<path d="M-1.5 219.4C0.2 219.1 5.2 218.6 8.5 218.1C11.8 217.6 15.2 217.1 18.5 216.4C21.8 215.6 25.2 214.7 28.5 213.9C31.8 213 35.2 212.1 38.5 211.4C41.8 210.6 45.2 209.8 48.5 209.4C51.8 208.9 55.2 208.6 58.5 208.5C61.8 208.4 65.2 208.4 68.5 208.9C71.8 209.3 75.2 210.3 78.5 211C81.8 211.6 85.2 212.4 88.5 212.9C91.8 213.3 95.2 213.5 98.5 213.9C101.8 214.2 105.6 214.4 108.5 214.7C111.4 215.1 114.2 215.6 116 216C117.8 216.3 117.2 216.6 119 216.9C120.8 217.1 124 217.1 126.5 217.6C129 218.1 131.5 219.2 134 220.1C136.5 221 140.2 222.6 141.5 223.1" fill="none" stroke="#000" stroke-width="0.55" stroke-opacity="0.9"/>
<path d="M-1.5 221.4C0.2 221.2 5.2 220.8 8.5 220.4C11.8 219.9 15.2 219.6 18.5 218.9C21.8 218.1 25.2 216.9 28.5 216C31.8 215.1 35.2 214.2 38.5 213.5C41.8 212.7 45.2 211.9 48.5 211.4C51.8 210.8 55.2 210.5 58.5 210.4C61.8 210.2 65.2 210.1 68.5 210.6C71.8 211.1 75.2 212.2 78.5 213.1C81.8 214 85.2 215.1 88.5 216C91.8 216.8 95.2 217.5 98.5 218.1C101.8 218.7 105.6 219.3 108.5 219.7C111.4 220.1 114.2 220.3 116 220.6C117.8 220.9 117.7 220.9 119 221.4C120.3 221.8 123.2 222.8 124 223.1L-2 224.1Z" fill="#2E8B57" stroke="#000" stroke-width="0.55" stroke-opacity="0.9"/>
<path d="M19.8 223.1C21.2 222.5 25.8 220.8 28.5 219.7C31.2 218.7 33.1 217.8 36 216.9C38.9 215.9 42.7 214.9 46 214.1C49.3 213.3 52.7 212.5 56 212.2C59.3 211.9 62.7 211.9 66 212.2C69.3 212.6 72.7 213.4 76 214.4C79.3 215.3 82.9 216.7 86 217.9C89.1 219 92.5 220.1 94.8 221C97 221.9 98.9 222.7 99.8 223.1Z" fill="#9ACD32" stroke="#000" stroke-width="0.55" stroke-opacity="0.9"/>
<path d="M28.5 223.1C29.8 222.6 33.5 221.1 36 220.1C38.5 219.1 40.6 218.1 43.5 217.2C46.4 216.3 50.2 215.2 53.5 214.7C56.8 214.2 60.2 213.9 63.5 214.1C66.8 214.3 70.4 215.1 73.5 216C76.6 216.8 79.8 218.2 82.2 219.1C84.8 220 86.8 220.9 88.5 221.6C90.2 222.3 91.6 222.9 92.2 223.1Z" fill="#20B2AA" stroke="#000" stroke-width="0.55" stroke-opacity="0.9"/>
<path d="M37.2 223.1C38.5 222.5 42.2 220.7 44.8 219.7C47.2 218.7 49.5 217.9 52.2 217.2C55 216.6 58.1 216.1 61 216C63.9 215.9 67 216.1 69.8 216.6C72.5 217.1 75 218.3 77.2 219.1C79.5 219.9 82 220.9 83.5 221.6C85 222.3 85.6 222.9 86 223.1Z" fill="#B0E0E6" stroke="#000" stroke-width="0.55" stroke-opacity="0.9"/>
<path d="M44.8 223.1C45.8 222.6 48.7 221 51 220.1C53.3 219.2 56 218.3 58.5 217.9C61 217.4 63.5 217.4 66 217.6C68.5 217.8 71.2 218.5 73.5 219.1C75.8 219.7 78.2 220.7 79.8 221.4C81.3 222 82.4 222.8 82.9 223.1Z" fill="#7297EE" stroke="#000" stroke-width="0.55" stroke-opacity="0.9"/>
<path d="M49.8 223.1C50.8 222.7 53.9 221.2 56 220.6C58.1 220 60.2 219.5 62.2 219.4C64.3 219.2 66.4 219.4 68.5 219.7C70.6 220 73.1 220.7 74.8 221.2C76.4 221.8 77.9 222.8 78.5 223.1Z" fill="#4169E1" stroke="#000" stroke-width="0.55" stroke-opacity="0.9"/>
<path d="M54.8 223.1C56 222.7 60 221.3 62.2 221C64.5 220.7 66.6 220.9 68.5 221.2C70.4 221.6 72.7 222.8 73.5 223.1Z" fill="#0000CD" stroke="#000" stroke-width="0.55" stroke-opacity="0.9"/>
<circle cx="192.8" cy="97.9" r="1.1" fill="#fff"/>
<circle cx="201.5" cy="106.9" r="1.1" fill="#fff"/>
<use href="#coast"/>
</g>
<path d="M1.3 0V-3.5 M1.3 222.1V225.6" stroke="#000" stroke-width="0.45"/>
<path d="M23.1 0V-7.8 M23.1 222.1V229.9" stroke="#000" stroke-width="1.1"/>
<path d="M44.8 0V-3.5 M44.8 222.1V225.6" stroke="#000" stroke-width="0.45"/>
<path d="M66.6 0V-3.5 M66.6 222.1V225.6" stroke="#000" stroke-width="0.45"/>
<path d="M88.3 0V-7.8 M88.3 222.1V229.9" stroke="#000" stroke-width="1.1"/>
<path d="M110.1 0V-3.5 M110.1 222.1V225.6" stroke="#000" stroke-width="0.45"/>
<path d="M131.9 0V-3.5 M131.9 222.1V225.6" stroke="#000" stroke-width="0.45"/>
<path d="M153.6 0V-7.8 M153.6 222.1V229.9" stroke="#000" stroke-width="1.1"/>
<path d="M175.4 0V-3.5 M175.4 222.1V225.6" stroke="#000" stroke-width="0.45"/>
<path d="M197.2 0V-3.5 M197.2 222.1V225.6" stroke="#000" stroke-width="0.45"/>
<path d="M218.9 0V-7.8 M218.9 222.1V229.9" stroke="#000" stroke-width="1.1"/>
<path d="M240.7 0V-3.5 M240.7 222.1V225.6" stroke="#000" stroke-width="0.45"/>
<path d="M0 219.6H-3.5 M241.4 219.6H244.9" stroke="#000" stroke-width="0.45"/>
<path d="M0 197.9H-3.5 M241.4 197.9H244.9" stroke="#000" stroke-width="0.45"/>
<path d="M0 176.2H-7.8 M241.4 176.2H249.2" stroke="#000" stroke-width="1.1"/>
<path d="M0 154.4H-3.5 M241.4 154.4H244.9" stroke="#000" stroke-width="0.45"/>
<path d="M0 132.7H-3.5 M241.4 132.7H244.9" stroke="#000" stroke-width="0.45"/>
<path d="M0 110.9H-7.8 M241.4 110.9H249.2" stroke="#000" stroke-width="1.1"/>
<path d="M0 89.2H-3.5 M241.4 89.2H244.9" stroke="#000" stroke-width="0.45"/>
<path d="M0 67.4H-3.5 M241.4 67.4H244.9" stroke="#000" stroke-width="0.45"/>
<path d="M0 45.7H-7.8 M241.4 45.7H249.2" stroke="#000" stroke-width="1.1"/>
<path d="M0 23.9H-3.5 M241.4 23.9H244.9" stroke="#000" stroke-width="0.45"/>
<path d="M0 2.2H-3.5 M241.4 2.2H244.9" stroke="#000" stroke-width="0.45"/>
<rect x="0" y="0" width="241.4" height="222.1" fill="none" stroke="#000" stroke-width="1.15"/>
<text x="23.1" y="244.7" text-anchor="middle" font-size="10">60E</text>
<text x="88.3" y="244.7" text-anchor="middle" font-size="10">90E</text>
<text x="153.6" y="244.7" text-anchor="middle" font-size="10">120E</text>
<text x="218.9" y="244.7" text-anchor="middle" font-size="10">150E</text>
<text x="-14.8" y="49.3" text-anchor="end" font-size="10">30N</text>
<text x="-14.8" y="114.5" text-anchor="end" font-size="10">0</text>
<text x="-14.8" y="179.8" text-anchor="end" font-size="10">30S</text>
<rect x="252.6" y="2.2" width="14.7" height="12.8" fill="#FF1493" stroke="#000" stroke-width="0.5" stroke-opacity="0.8"/>
<rect x="252.6" y="15" width="14.7" height="12.8" fill="#FFB6C1" stroke="#000" stroke-width="0.5" stroke-opacity="0.8"/>
<rect x="252.6" y="27.8" width="14.7" height="12.8" fill="#B22222" stroke="#000" stroke-width="0.5" stroke-opacity="0.8"/>
<rect x="252.6" y="40.6" width="14.7" height="12.8" fill="#FF4500" stroke="#000" stroke-width="0.5" stroke-opacity="0.8"/>
<rect x="252.6" y="53.4" width="14.7" height="12.8" fill="#FFA500" stroke="#000" stroke-width="0.5" stroke-opacity="0.8"/>
<rect x="252.6" y="66.2" width="14.7" height="12.8" fill="#FFDF00" stroke="#000" stroke-width="0.5" stroke-opacity="0.8"/>
<rect x="252.6" y="79" width="14.7" height="12.8" fill="#DEB887" stroke="#000" stroke-width="0.5" stroke-opacity="0.8"/>
<rect x="252.6" y="91.8" width="14.7" height="12.8" fill="#F5E4BD" stroke="#000" stroke-width="0.5" stroke-opacity="0.8"/>
<rect x="252.6" y="104.6" width="14.7" height="12.8" fill="#F5E4BD" stroke="#000" stroke-width="0.5" stroke-opacity="0.8"/>
<rect x="252.6" y="117.4" width="14.7" height="12.8" fill="#2E8B57" stroke="#000" stroke-width="0.5" stroke-opacity="0.8"/>
<rect x="252.6" y="130.2" width="14.7" height="12.8" fill="#9ACD32" stroke="#000" stroke-width="0.5" stroke-opacity="0.8"/>
<rect x="252.6" y="143" width="14.7" height="12.8" fill="#20B2AA" stroke="#000" stroke-width="0.5" stroke-opacity="0.8"/>
<rect x="252.6" y="155.8" width="14.7" height="12.8" fill="#B0E0E6" stroke="#000" stroke-width="0.5" stroke-opacity="0.8"/>
<rect x="252.6" y="168.6" width="14.7" height="12.8" fill="#7297EE" stroke="#000" stroke-width="0.5" stroke-opacity="0.8"/>
<rect x="252.6" y="181.4" width="14.7" height="12.8" fill="#4169E1" stroke="#000" stroke-width="0.5" stroke-opacity="0.8"/>
<rect x="252.6" y="194.2" width="14.7" height="12.8" fill="#0000CD" stroke="#000" stroke-width="0.5" stroke-opacity="0.8"/>
<rect x="252.6" y="207" width="14.7" height="12.8" fill="#9370DB" stroke="#000" stroke-width="0.5" stroke-opacity="0.8"/>
<text x="271.4" y="18.7" font-size="10">3200</text>
<text x="271.4" y="31.5" font-size="10">3160</text>
<text x="271.4" y="44.3" font-size="10">3120</text>
<text x="271.4" y="57.1" font-size="10">3080</text>
<text x="271.4" y="69.9" font-size="10">3040</text>
<text x="271.4" y="82.7" font-size="10">3000</text>
<text x="271.4" y="95.5" font-size="10">2960</text>
<text x="271.4" y="108.3" font-size="10">2920</text>
<text x="271.4" y="121.1" font-size="10">2880</text>
<text x="271.4" y="133.9" font-size="10">2840</text>
<text x="271.4" y="146.7" font-size="10">2800</text>
<text x="271.4" y="159.5" font-size="10">2760</text>
<text x="271.4" y="172.3" font-size="10">2720</text>
<text x="271.4" y="185.1" font-size="10">2680</text>
<text x="271.4" y="197.9" font-size="10">2640</text>
<text x="271.4" y="210.7" font-size="10">2600</text>
<text x="-0.5" y="-11.8" font-size="12.65">700 hPa</text>
<text x="242.4" y="-14.4" text-anchor="end" font-size="12.7">poisson_grid_fill</text>
</g>
<g transform="translate(714.15 304.9)">
<g clip-path="url(#fc)">
<rect x="0" y="0" width="241.4" height="222.1" fill="#B22222"/>
<path d="M-1.5 69.7C-0 69.9 4.5 70.7 7.2 71C10 71.3 12.5 71.7 14.8 71.6C17 71.5 18.9 70.3 21 70.6C23.1 70.9 24.8 72.5 27.2 73.5C29.8 74.5 33.3 75.7 36 76.6C38.7 77.5 41 78.5 43.5 79.1C46 79.7 49.3 80.6 51 80.1C52.7 79.6 52.7 76.4 53.5 76C54.3 75.6 54.8 77.3 56 77.9C57.2 78.4 59.1 78.8 61 79.1C62.9 79.4 65.2 79.2 67.2 79.7C69.3 80.2 70.8 81.2 73.5 82.2C76.2 83.3 80.6 84.9 83.5 86C86.4 87 88.5 88.1 91 88.5C93.5 88.9 96 88.7 98.5 88.5C101 88.3 103.5 87.6 106 87.2C108.5 86.8 111.3 86.4 113.5 86C115.7 85.6 116.8 85.1 119 84.7C121.2 84.3 124 83.8 126.5 83.5C129 83.2 131.5 82.9 134 82.9C136.5 82.9 139.4 83.1 141.5 83.5C143.6 83.9 144.8 85.1 146.5 85.4C148.2 85.6 149.8 85 151.5 84.7C153.2 84.4 154.8 83.9 156.5 83.5C158.2 83.1 159.4 82.5 161.5 82.2C163.6 81.9 166.7 81.6 169 81.6C171.3 81.6 173.2 81.9 175.2 82.2C177.3 82.5 179.6 83 181.5 83.5C183.4 84 184.8 84.9 186.5 85.4C188.2 85.8 189.4 85.9 191.5 86C193.6 86.1 196.7 85.8 199 86C201.3 86.1 203.7 86.2 205.2 86.9C206.8 87.5 207.6 88.7 208.4 89.7C209.1 90.7 209.7 91.8 209.6 92.9C209.5 93.9 207.9 94.8 207.8 96C207.6 97.1 208.4 99 209 99.7C209.6 100.5 210.7 100.8 211.5 100.4C212.3 99.9 212.8 98 214 97.2C215.2 96.5 216.9 96.2 219 96C221.1 95.8 224 95.9 226.5 96C229 96.1 231.2 96.5 234 96.6C236.8 96.7 241.8 96.4 243.4 96.4L243.4 52.1C241.4 52.1 235.6 52.1 231.5 52.1C227.4 52.1 223.2 52.2 219 52.4C214.8 52.5 210.2 52.7 206.5 53C202.8 53.2 199.8 53.4 196.5 53.9C193.2 54.3 189.8 54.9 186.5 55.5C183.2 56.1 179.8 56.7 176.5 57.4C173.2 58 169.8 58.9 166.5 59.6C163.2 60.4 159 61.2 156.5 61.9C154 62.5 153.6 63 151.5 63.5C149.4 64 146.9 64.2 144 64.7C141.1 65.2 137.1 65.8 134 66.4C130.9 66.9 127.8 67.5 125.2 68.1C122.8 68.7 120.2 69.6 119 70.1C117.8 70.6 118.8 70.9 117.9 71C117 71 115.5 71 113.5 70.4C111.5 69.7 108.5 68.3 106 67.2C103.5 66.2 101 65 98.5 64.1C96 63.2 93.5 62.1 91 61.9C88.5 61.6 86.4 62.4 83.5 62.9C80.6 63.3 76.8 64.1 73.5 64.7C70.2 65.4 66.6 66.5 63.5 66.9C60.4 67.2 57.7 66.7 54.8 66.6C51.8 66.5 48.7 66.1 46 66.4C43.3 66.6 41 67.4 38.5 67.9C36 68.3 33.1 68.9 31 68.9C28.9 68.9 27.4 68.9 26 67.9C24.6 66.9 23.7 63.3 22.9 62.9C22 62.4 21.9 65.4 21 65.1C20.1 64.8 18.7 62.4 17.2 61.1C15.8 59.8 14.1 58.3 12.2 57.4C10.4 56.4 8.3 55.9 6 55.5C3.7 55.1 -0.2 55 -1.5 54.9Z" fill="#FFB6C1" stroke="#000" stroke-width="0.55" stroke-opacity="0.9"/>
<path d="M-1.7 46.1C-0 46.3 5 46.6 8.3 47.1C11.6 47.6 15 48.5 18.3 49.2C21.6 50 25 51 28.3 51.7C31.6 52.5 35 53.2 38.3 53.9C41.6 54.5 45 55.3 48.3 55.9C51.6 56.4 55.4 57 58.3 57.1C61.2 57.2 63.3 56.8 65.8 56.4C68.3 55.9 70.4 55 73.3 54.6C76.2 54.2 80 54.2 83.3 54.2C86.6 54.3 90.4 55 93.3 54.9C96.2 54.7 98.3 53.6 100.8 53.6C103.3 53.6 106.2 53.9 108.3 54.6C110.4 55.3 111.6 56.7 113.3 57.6C115 58.5 117.3 59.5 118.3 59.9C119.2 60.2 117.6 60.1 119 59.9C120.4 59.6 123.6 59.3 126.5 58.6C129.4 57.9 133.2 56.9 136.5 55.9C139.8 54.8 143.2 53.4 146.5 52.4C149.8 51.4 153.2 50.5 156.5 49.9C159.8 49.2 163.2 48.9 166.5 48.6C169.8 48.3 172.8 48.2 176.5 48C180.2 47.8 184.8 47.6 189 47.4C193.2 47.1 197.3 46.9 201.5 46.7C205.7 46.5 209.8 46.3 214 46.1C218.2 45.9 221.7 45.7 226.5 45.5C231.3 45.2 240 44.7 242.8 44.6L243.4 -2L-2 -2Z" fill="#FF4500" stroke="#000" stroke-width="0.55" stroke-opacity="0.9"/>
<path d="M-1.7 38.4C-0.5 38.3 3.5 37.8 5.8 38C8.1 38.1 9.8 38.5 12 39.2C14.3 40 17 41.2 19.5 42.4C22 43.5 24.3 45 27 46.1C29.8 47.2 32.7 48.4 35.8 49.2C38.9 50.1 42.5 50.6 45.8 51.1C49.1 51.6 52.5 52.1 55.8 52.1C59.1 52.1 62.9 51.6 65.8 51.1C68.7 50.6 71 49.9 73.3 49.2C75.6 48.6 77.9 47.3 79.5 47.1C81.2 46.9 81.8 47.5 83.3 48C84.8 48.5 86.2 49.8 88.3 50.1C90.4 50.4 93.3 49.9 95.8 49.6C98.3 49.3 101 48.9 103.3 48.4C105.6 47.8 108.1 46.1 109.5 46.1C111 46.1 111.2 47.4 112 48.6C112.9 49.9 113.4 52.4 114.5 53.6C115.7 54.8 117 55.6 119 55.9C121 56.1 124.4 55.4 126.5 55.1C128.6 54.8 129.4 55 131.5 54.2C133.6 53.5 136.3 51.8 139 50.5C141.7 49.1 144.8 47.3 147.8 46.1C150.7 44.9 153.4 43.9 156.5 43.4C159.6 42.8 163.2 42.8 166.5 42.6C169.8 42.4 172.8 42.4 176.5 42.4C180.2 42.3 184.8 42.2 189 42.1C193.2 42 197.3 41.9 201.5 41.7C205.7 41.6 209.8 41.3 214 41.1C218.2 40.9 221.7 40.7 226.5 40.5C231.3 40.2 240 39.7 242.8 39.6L243.4 -2L-2 -2Z" fill="#FFA500" stroke="#000" stroke-width="0.55" stroke-opacity="0.9"/>
<path d="M-1.7 29.2C-0.5 29.3 3.9 29.9 5.8 29.9C7.7 29.8 7.9 28.9 9.5 28.9C11.2 28.9 13.5 29.4 15.8 29.9C18.1 30.3 21.3 30.9 23.3 31.7C25.3 32.6 26.4 33.6 27.7 34.9C28.9 36.1 29.7 37.8 30.8 39.2C31.9 40.7 33.1 42.5 34.5 43.6C36 44.7 37.7 45.4 39.5 46.1C41.4 46.8 43.5 47.2 45.8 47.6C48.1 48 50.8 48.4 53.3 48.4C55.8 48.3 58.3 47.7 60.8 47.4C63.3 47 65.8 46.4 68.3 46.1C70.8 45.8 73.3 45.7 75.8 45.5C78.3 45.2 80.8 44.9 83.3 44.6C85.8 44.3 88.3 43.9 90.8 43.6C93.3 43.3 96.2 42.6 98.3 42.6C100.4 42.6 101.6 43.3 103.3 43.4C105 43.4 106.8 42.8 108.3 43C109.8 43.1 111 43.3 112 44.2C113.1 45.2 113.7 47.4 114.5 48.6C115.4 49.9 116.3 51.3 117 51.7C117.8 52.1 117.6 51.1 119 51.1C120.4 51.1 123.2 51.8 125.2 51.7C127.3 51.6 129.4 51.3 131.5 50.5C133.6 49.6 135.7 48 137.8 46.7C139.8 45.5 141.7 44.2 144 43C146.3 41.7 149 40.1 151.5 39.2C154 38.4 156.1 38.2 159 38C161.9 37.8 165.7 38 169 38C172.3 37.9 175.7 37.7 179 37.6C182.3 37.5 185.2 37.6 189 37.6C192.8 37.6 197.3 37.7 201.5 37.6C205.7 37.5 209.8 37.3 214 37.1C218.2 36.9 221.7 36.6 226.5 36.4C231.3 36.1 240 35.6 242.8 35.5L243.4 -2L-2 -2Z" fill="#FFDF00" stroke="#000" stroke-width="0.55" stroke-opacity="0.9"/>
<path d="M-1.7 19.2C-0.5 19.3 3.3 19.4 5.8 19.9C8.3 20.3 10.8 21.2 13.3 21.7C15.8 22.2 18.3 22.5 20.8 23C23.3 23.5 25.8 23.9 28.3 24.6C30.8 25.3 33.8 26.3 35.8 27.4C37.8 28.4 39.3 29.6 40.2 31.1C41 32.6 40.6 34.6 40.8 36.1C41 37.6 40.8 38.7 41.4 39.9C42 41 43.2 42.2 44.5 43C45.9 43.8 47.9 44.3 49.5 44.6C51.2 44.9 52.9 45.1 54.5 44.9C56.2 44.6 57.7 43.4 59.5 43C61.4 42.5 63.5 42.2 65.8 42.1C68.1 42 70.8 42.2 73.3 42.1C75.8 42 78.3 41.7 80.8 41.4C83.3 41 85.8 40.4 88.3 39.9C90.8 39.4 93.7 38.6 95.8 38.4C97.9 38.1 99.1 38.2 100.8 38.4C102.5 38.5 103.9 38.9 105.8 39.2C107.7 39.6 110.4 39.6 112 40.5C113.7 41.3 114.6 43.9 115.8 44.2C117 44.6 117.4 42.7 119 42.6C120.6 42.5 123.2 43.5 125.2 43.6C127.3 43.7 129.6 43.5 131.5 43C133.4 42.5 134.6 41.5 136.5 40.5C138.4 39.4 140.7 37.9 142.8 36.7C144.8 35.6 146.7 34.3 149 33.6C151.3 32.9 153.6 32.6 156.5 32.6C159.4 32.6 163.2 33.1 166.5 33.4C169.8 33.6 173.2 34 176.5 34.2C179.8 34.4 182.8 34.6 186.5 34.6C190.2 34.6 194.8 34.4 199 34.2C203.2 34.1 206.9 33.9 211.5 33.6C216.1 33.3 221.3 32.9 226.5 32.6C231.7 32.3 240 31.9 242.8 31.7L243.4 -2L-2 -2Z" fill="#DEB887" stroke="#000" stroke-width="0.55" stroke-opacity="0.9"/>
<path d="M-1.7 13C-0.9 13.3 1.2 14.2 3.3 14.9C5.4 15.5 7.9 16.1 10.8 16.7C13.7 17.4 17.5 18.1 20.8 18.6C24.1 19.1 27.5 19.5 30.8 19.9C34.1 20.2 37.9 20.5 40.8 20.9C43.7 21.2 46 21.4 48.3 21.7C50.6 22.1 52.7 22.4 54.5 23C56.4 23.6 58.1 24.5 59.5 25.5C61 26.4 62.5 27.8 63.3 28.6C64.1 29.4 64.7 30.4 64.3 30.5C63.9 30.6 62.2 29.3 60.8 29.2C59.4 29.1 57.5 29.3 55.8 29.9C54.1 30.4 52.2 31.5 50.8 32.4C49.4 33.2 48.2 33.8 47.7 34.9C47.2 35.9 47.2 37.7 47.7 38.6C48.2 39.5 49 40.2 50.8 40.5C52.6 40.8 55.8 40.6 58.3 40.5C60.8 40.3 63.3 39.8 65.8 39.6C68.3 39.4 70.4 39.5 73.3 39.2C76.2 39 80.4 38.3 83.3 38C86.2 37.6 88.3 37.4 90.8 37.1C93.3 36.8 95.8 36.2 98.3 36.1C100.8 36 103.3 36.3 105.8 36.7C108.3 37.1 111.3 38.1 113.3 38.6C115.3 39.1 116.7 39.8 117.7 39.9C118.6 39.9 117.4 39.5 118.9 39.1C120.4 38.7 124.4 38.4 126.7 37.6C129 36.8 130.6 35.5 132.6 34.2C134.6 32.9 136.8 31 138.6 29.7C140.4 28.4 141.9 27 143.5 26.3C145.1 25.6 146.6 25.3 148.4 25.3C150.2 25.3 152 25.8 154.3 26.3C156.6 26.8 159.6 27.7 162.2 28.3C164.8 28.9 167.5 29.5 170.1 29.9C172.7 30.3 175.1 30.7 178 30.9C180.9 31.1 184.5 31 187.8 30.9C191.1 30.8 194.2 30.5 197.7 30.2C201.2 29.9 205.9 29.2 209 29.2C212.1 29.2 213.2 30.2 216.5 30.1C219.8 30 224.6 29.2 229 28.9C233.4 28.5 240.7 28.1 243 28L243.4 -2L-2 -2Z" fill="#F5E4BD" stroke="#000" stroke-width="0.55" stroke-opacity="0.9"/>
<path d="M10.8 -0.8C10.8 0.2 10.4 3.3 10.8 4.9C11.2 6.4 12 7.5 13.3 8.6C14.5 9.7 16.2 10.9 18.3 11.7C20.4 12.6 22.9 13.1 25.8 13.6C28.7 14.1 32.5 14.6 35.8 14.9C39.1 15.1 42.5 15 45.8 15.1C49.1 15.2 52.5 15.2 55.8 15.5C59.1 15.7 63.1 16.1 65.8 16.7C68.5 17.4 70.4 18.3 72 19.2C73.7 20.2 74.9 21.2 75.8 22.4C76.7 23.5 77.3 24.9 77.7 26.1C78 27.4 78.6 28.8 78 29.9C77.5 30.9 76.6 31.9 74.5 32.4C72.5 32.8 68.5 32.6 65.8 32.6C63.1 32.6 59.8 32.4 58.3 32.6C56.8 32.8 56.8 33 57 33.6C57.3 34.2 58.5 35.4 59.5 36.1C60.6 36.8 61.4 37.7 63.3 38C65.2 38.3 68.5 38.2 70.8 38C73.1 37.8 75 37.2 77 36.7C79.1 36.2 81 35.4 83.3 34.9C85.6 34.3 87.9 33.7 90.8 33.4C93.7 33 97.5 32.6 100.8 32.6C104.1 32.6 107.9 33.1 110.8 33.6C113.7 34.1 116.9 35.3 118.3 35.5C119.7 35.7 118.2 35.3 119.3 34.7C120.4 34.1 123.6 32.9 124.8 31.7C126 30.6 126.7 29.1 126.7 27.8C126.7 26.5 125.5 25 124.8 23.8C124.1 22.7 122.2 21.7 122.3 20.9C122.5 20.1 123.8 19.4 125.7 18.9C127.6 18.4 130.6 18.1 133.6 18.1C136.6 18.1 140.4 18.4 143.5 18.9C146.6 19.4 149.5 20.2 152.3 20.9C155.1 21.6 157.6 22.6 160.2 23.3C162.8 24 165.1 24.7 168.1 25.3C171.1 25.9 174.7 26.6 178 27C181.3 27.4 184.5 27.8 187.8 28C191.1 28.2 194.2 28.4 197.7 28.3C201.2 28.2 203.8 27.6 209 27.3C214.2 27 223.3 26.9 229 26.7C234.7 26.5 240.7 26.2 243 26.1" fill="none" stroke="#000" stroke-width="0.55" stroke-opacity="0.9"/>
<path d="M21 -0.8C21.3 -0 21.8 2.4 22.9 3.6C23.9 4.9 25.5 5.9 27.2 6.7C29 7.6 31.2 8 33.5 8.6C35.8 9.2 38.3 9.7 41 10.1C43.7 10.5 46.8 10.8 49.8 10.9C52.7 10.9 55.4 10.7 58.5 10.5C61.6 10.2 65.2 9.6 68.5 9.2C71.8 8.8 75.2 8.3 78.5 8C81.8 7.7 85.2 7.4 88.5 7.4C91.8 7.4 95.2 7.7 98.5 8C101.8 8.3 105.6 8.9 108.5 9.2C111.4 9.5 114.2 9.7 116 9.9C117.8 10 117.2 10 119 10.1C120.8 10.2 124 10.4 126.5 10.6C129 10.8 131.5 11 134 11.4C136.5 11.7 139 12.3 141.5 12.9C144 13.4 146.1 13.9 149 14.9C151.9 15.8 155.9 17.3 159 18.4C162.1 19.4 164.6 20.1 167.5 21C170.4 21.8 173.3 22.8 176.1 23.5C179 24.2 181.8 24.7 184.6 25.2C187.5 25.7 190.4 26.1 193.2 26.5C196.1 26.8 198.9 27.2 201.8 27.4C204.6 27.5 207.5 27.3 210.4 27.1C213.2 26.9 216.1 26.5 219 26.2C221.9 25.9 223.5 25.7 227.5 25.2C231.5 24.8 240.2 23.9 242.8 23.6L243.4 -2Z" fill="#2E8B57" stroke="#000" stroke-width="0.55" stroke-opacity="0.9"/>
<path d="M94.5 26.7C94.8 26 96.8 24.7 98.3 24.2C99.8 23.7 101.6 23.4 103.3 23.6C105 23.8 107 24.9 108.3 25.5C109.5 26.1 110.9 26.6 110.8 27.4C110.7 28.1 109.1 29.5 107.7 29.9C106.2 30.2 103.8 29.8 102 29.6C100.3 29.4 98.3 29.1 97 28.6C95.8 28.1 94.3 27.5 94.5 26.7Z" fill="#2E8B57" stroke="#000" stroke-width="0.55" stroke-opacity="0.9"/>
<path d="M63.9 36.1C63.9 35.8 65.9 35.1 67 35.1C68.2 35.1 70.5 36 70.5 36.4C70.5 36.7 68.2 37.1 67 37.1C65.9 37.1 63.9 36.4 63.9 36.1Z" fill="#2E8B57" stroke="#000" stroke-width="0.55" stroke-opacity="0.9"/>
<path d="M30.4 -0.8C31.1 -0 33 2.5 34.8 3.6C36.5 4.7 38.7 5.4 41 6.1C43.3 6.8 46 7.3 48.5 7.6C51 7.9 53.5 8 56 8C58.5 7.9 61 7.8 63.5 7.4C66 6.9 68.7 6.2 71 5.5C73.3 4.7 75.5 4 77.2 3C79 1.9 80.9 -0.1 81.6 -0.8Z" fill="#9ACD32" stroke="#000" stroke-width="0.55" stroke-opacity="0.9"/>
<path d="M129.6 -0.8C130.8 -0.1 134.1 1.7 136.5 3C138.9 4.2 141.5 5.4 144 6.7C146.5 8 149 9.6 151.5 10.9C154 12.1 156.3 13 159 14.1C161.7 15.2 164.6 16.4 167.5 17.5C170.4 18.5 173.3 19.6 176.1 20.5C179 21.3 181.8 22 184.6 22.6C187.5 23.2 190.4 23.9 193.2 24.4C196.1 24.8 198.9 25.1 201.8 25.2C204.6 25.3 207.5 25.2 210.4 25C213.2 24.8 216.1 24.4 219 24C221.9 23.6 223.5 23.1 227.5 22.6C231.5 22.1 240.2 21.2 242.8 21L243.4 -2Z" fill="#9ACD32" stroke="#000" stroke-width="0.55" stroke-opacity="0.9"/>
<path d="M38.5 -0.8C39.3 -0.1 41.6 2.1 43.5 3C45.4 3.9 47.5 4.3 49.8 4.6C52 4.9 54.8 5 57.2 4.9C59.8 4.7 62.7 4.1 64.8 3.6C66.8 3.1 68.6 2.5 69.8 1.7C70.9 1 71.3 -0.4 71.6 -0.8Z" fill="#20B2AA" stroke="#000" stroke-width="0.55" stroke-opacity="0.9"/>
<path d="M142.1 -0.8C143.3 -0 146.2 2.1 149 3.9C151.8 5.6 155.9 8.2 159 9.9C162.1 11.5 164.6 12.4 167.5 13.6C170.4 14.8 173.3 16.1 176.1 17.1C179 18.1 181.8 18.9 184.6 19.6C187.5 20.3 190.4 20.9 193.2 21.4C196.1 21.9 198.9 22.4 201.8 22.6C204.6 22.8 207.5 22.7 210.4 22.5C213.2 22.3 216.1 21.7 219 21.4C221.9 21 223.5 20.7 227.5 20.1C231.5 19.5 240.2 18.3 242.8 18L243.4 -2Z" fill="#20B2AA" stroke="#000" stroke-width="0.55" stroke-opacity="0.9"/>
<path d="M153.4 -0.8C154.3 0.1 156.6 3 159 4.6C161.4 6.2 164.6 7.5 167.5 9C170.4 10.4 173.3 12 176.1 13.2C179 14.4 181.8 15.4 184.6 16.2C187.5 17.1 190.7 17.8 193.2 18.4C195.8 18.9 197.8 19.3 200.1 19.6C202.4 19.9 204.4 20.2 207 20.1C209.6 20 212.1 19.3 215.5 18.7C218.9 18.1 223 17.3 227.5 16.6C232 15.9 240.2 14.8 242.8 14.5L243.4 -2Z" fill="#B0E0E6" stroke="#000" stroke-width="0.55" stroke-opacity="0.9"/>
<path d="M176.1 -0.8C176.2 -0 176.1 2.5 176.5 3.9C176.9 5.2 177.7 6.1 178.8 7.2C179.8 8.4 181.4 9.6 183 10.6C184.6 11.6 186.1 12.4 188.1 13.2C190.1 14 192.7 14.8 195 15.4C197.3 15.9 199.5 16.3 201.8 16.6C204 16.9 206 17.2 208.6 17.1C211.2 17 214.1 16.4 217.2 15.9C220.4 15.3 223.2 14.2 227.5 13.6C231.8 13 240.2 12.2 242.8 12L243.4 -2Z" fill="#7297EE" stroke="#000" stroke-width="0.55" stroke-opacity="0.9"/>
<path d="M190.2 -0.8C190.3 0.1 190.1 3 190.6 4.6C191.1 6.2 192.1 7.7 193.2 9C194.4 10.2 195.8 11.2 197.5 12C199.2 12.7 201.4 13.3 203.5 13.6C205.6 13.9 207.8 13.8 210.4 13.6C213 13.4 216.1 12.9 219 12.4C221.9 11.9 223.5 11.2 227.5 10.6C231.5 10 240.2 8.8 242.8 8.5L243.4 -2Z" fill="#4169E1" stroke="#000" stroke-width="0.55" stroke-opacity="0.9"/>
<path d="M202.6 -0.8C202.5 0.1 201.6 3.1 201.8 4.6C201.9 6.1 202.6 7.2 203.5 8.1C204.4 9 205.3 9.5 207 9.9C208.7 10.2 210.9 10.4 213.8 10.2C216.6 10.1 221 9.5 224.1 9C227.3 8.5 229.5 7.8 232.6 7.2C235.7 6.6 241.1 5.8 242.8 5.5L243.4 -2Z" fill="#0000CD" stroke="#000" stroke-width="0.55" stroke-opacity="0.9"/>
<path d="M223.4 -0.8C223.9 -0.5 225 0.4 226.5 0.9C228 1.3 229.9 1.6 232.6 1.9C235.3 2.1 241.1 2.4 242.8 2.5L243.4 -2Z" fill="#9370DB" stroke="#000" stroke-width="0.55" stroke-opacity="0.9"/>
<path d="M-1.5 153.5C-0.2 153.5 3.7 153.6 6 153.9C8.3 154.1 10.2 154.7 12.2 155.1C14.3 155.5 15.8 155.7 18.5 156C21.2 156.2 25.4 156.5 28.5 156.6C31.6 156.7 34.9 156.7 37.2 156.6C39.6 156.5 41.2 155.6 42.9 156C44.5 156.4 45.7 158.1 47.2 159.1C48.8 160.1 50.6 161.4 52.2 162.2C53.9 163.1 55.4 163.8 57.2 164.1C59.1 164.4 61.6 164 63.5 163.9C65.4 163.7 66.6 163.3 68.5 163.5C70.4 163.6 72.7 164.1 74.8 164.7C76.8 165.4 79.2 166.4 81 167.2C82.8 168.1 84.6 168.9 85.4 169.7C86.1 170.6 85.9 171.4 85.4 172.2C84.9 173.1 83.8 174.1 82.2 174.7C80.7 175.4 78.3 175.7 76 176C73.7 176.3 71.4 176.2 68.5 176.6C65.6 177 61.6 177.5 58.5 178.1C55.4 178.7 52.2 179.4 49.8 180.1C47.2 180.8 45.2 181.4 43.5 182.2C41.8 183.1 41 184.2 39.8 185.4C38.5 186.5 37.9 187.9 36 189.1C34.1 190.4 31.4 191.7 28.5 192.9C25.6 194 21.8 195 18.5 196C15.2 196.9 11.8 197.8 8.5 198.5C5.2 199.2 0.2 199.8 -1.5 200.1Z" fill="#FFB6C1" stroke="#000" stroke-width="0.55" stroke-opacity="0.9"/>
<path d="M-1.5 179.1C-0.6 179.4 2.8 180.1 4.1 181C5.5 181.8 6.5 183.1 6.6 184.1C6.7 185.1 6.1 186.3 4.8 187.2C3.4 188.2 -0.5 189.3 -1.5 189.7Z" fill="#FF1493" stroke="#000" stroke-width="0.55" stroke-opacity="0.9"/>
<path d="M27.6 135.1C27.6 135.9 27.1 136.9 26.4 137.5C25.7 138 24.5 138.5 23.5 138.5C22.5 138.5 21.3 138 20.6 137.5C19.9 136.9 19.4 135.9 19.4 135.1C19.4 134.3 19.9 133.3 20.6 132.7C21.3 132.2 22.5 131.7 23.5 131.7C24.5 131.7 25.7 132.2 26.4 132.7C27.1 133.3 27.6 134.3 27.6 135.1Z" fill="#FF4500" stroke="#000" stroke-width="0.55" stroke-opacity="0.9"/>
<path d="M-1.5 206.4C0.2 206.1 5.2 205.4 8.5 204.7C11.8 204 15.2 203.1 18.5 202.2C21.8 201.4 25.2 200.6 28.5 199.7C31.8 198.9 35.2 198.1 38.5 197.2C41.8 196.4 45.2 195.5 48.5 194.7C51.8 194 55.2 193.5 58.5 192.9C61.8 192.2 65.2 191.6 68.5 191C71.8 190.4 75.2 189.7 78.5 189.1C81.8 188.5 85.2 187.7 88.5 187.2C91.8 186.7 95.6 186.3 98.5 186C101.4 185.6 104 185.7 106 185.1C108 184.5 109.5 183.4 110.4 182.2C111.2 181 110.6 179.4 111 177.9C111.4 176.3 111.8 174.5 112.9 172.9C113.9 171.2 115.6 169.5 117.2 167.9C118.9 166.2 121.7 164.3 123 162.9C124.3 161.4 123.6 160.8 125.2 159.1C126.9 157.4 130.2 154.5 132.8 152.9C135.2 151.2 137.5 150.2 140.2 149.1C143 148 146.3 146.7 149 146C151.7 145.2 154.3 144.8 156.5 144.7C158.7 144.7 160.6 144.9 162.1 145.6C163.7 146.3 164.9 147.7 165.9 149.1C166.9 150.5 167.8 152.2 168 154.1C168.2 156 167.6 158.3 167.1 160.4C166.7 162.4 166.1 164.5 165.2 166.6C164.4 168.7 163.4 170.9 162.1 172.9C160.9 174.8 159.3 176.9 157.8 178.5C156.2 180 154.6 181.1 152.8 182.2C150.9 183.4 148.2 184.5 146.5 185.4C144.8 186.2 143.9 186.6 142.8 187.2C141.6 187.9 140 188.2 139.6 189.1C139.2 190 139.5 191.4 140.2 192.9C141 194.3 142.3 196.2 144 197.9C145.7 199.5 148 201.3 150.2 202.9C152.5 204.4 155 205.9 157.8 207.2C160.5 208.6 163.4 209.9 166.5 211C169.6 212 173.2 212.9 176.5 213.5C179.8 214.1 183.2 214.5 186.5 214.7C189.8 214.9 193.2 214.9 196.5 214.7C199.8 214.6 203.2 214.4 206.5 213.9C209.8 213.3 213.4 212.4 216.5 211.6C219.6 210.8 222.8 209.9 225.2 209.1C227.8 208.3 229.8 207.6 231.5 206.6C233.2 205.6 234.4 204.3 235.2 202.9C236.1 201.4 236.1 199.2 236.5 197.9C236.9 196.5 236.6 195.5 237.8 194.7C238.9 194 242.4 193.7 243.4 193.5L243.4 224.1L-2 224.1Z" fill="#FF4500" stroke="#000" stroke-width="0.55" stroke-opacity="0.9"/>
<path d="M243.4 147.6C241.4 147.6 234.5 147.5 231.5 147.6C228.5 147.7 226.1 147.4 225.2 148.5C224.4 149.6 225.9 152.1 226.5 154.1C227.1 156.1 228.2 158.1 229 160.4C229.8 162.6 230.7 165.8 231.5 167.9C232.3 169.9 233 171.3 234 172.9C235 174.4 236.2 176 237.8 177.2C239.3 178.5 242.4 179.8 243.4 180.4Z" fill="#FF4500" stroke="#000" stroke-width="0.55" stroke-opacity="0.9"/>
<path d="M180.2 176.6C180.4 175.5 180.7 174.1 181.5 172.9C182.3 171.6 184 170 185.2 169.1C186.5 168.2 187.5 167.6 189 167.6C190.5 167.6 192.3 168.4 194 169.1C195.7 169.8 196.9 171.1 199 171.6C201.1 172.1 204.4 171.9 206.5 172.2C208.6 172.6 209.9 172.9 211.5 173.9C213.1 174.8 214.7 176.5 215.9 177.9C217 179.2 218.3 180.9 218.4 182.2C218.5 183.6 217.4 184.8 216.5 186C215.6 187.1 214.2 188.2 212.8 189.1C211.3 190 209.4 191.1 207.8 191.6C206.1 192.1 204.4 192 202.8 191.9C201.1 191.7 199.2 191.4 197.8 191C196.3 190.5 195.5 189.4 194 189.1C192.5 188.8 190.2 189.6 189 189.1C187.8 188.6 187.3 187.1 186.5 186C185.7 184.8 184.9 183.3 184 182.2C183.1 181.2 181.5 180.7 180.9 179.7C180.2 178.8 180.1 177.7 180.2 176.6Z" fill="#FFB6C1" stroke="#000" stroke-width="0.55" stroke-opacity="0.9"/>
<path d="M174 201C174.3 200.1 175.2 198.6 176.5 197.9C177.8 197.1 179.8 196.4 181.5 196.4C183.2 196.3 184.8 196.8 186.5 197.6C188.2 198.4 190.2 199.9 191.5 201C192.8 202.1 193.9 203.1 194.2 204.1C194.6 205.1 194.2 206.6 193.4 207.2C192.5 207.9 190.8 208.1 189 208.1C187.2 208.1 184.6 207.8 182.8 207.2C180.9 206.7 179.1 205.5 177.8 204.7C176.4 204 175.2 203.5 174.6 202.9C174 202.2 173.7 201.8 174 201Z" fill="#FFB6C1" stroke="#000" stroke-width="0.55" stroke-opacity="0.9"/>
<path d="M-1.5 210.1C0.2 209.9 5.2 209.4 8.5 208.9C11.8 208.3 15.2 207.4 18.5 206.6C21.8 205.8 25.2 204.9 28.5 204.1C31.8 203.3 35.2 202.3 38.5 201.6C41.8 200.9 45.2 200.2 48.5 199.7C51.8 199.3 55.2 199.1 58.5 198.9C61.8 198.6 65.2 198.6 68.5 198.5C71.8 198.3 75.2 198.2 78.5 197.9C81.8 197.5 85.2 196.9 88.5 196.4C91.8 195.8 95.2 194.8 98.5 194.4C101.8 193.9 105.6 193.9 108.5 193.9C111.4 193.9 114.2 194.1 116 194.4C117.8 194.6 117.2 195.2 119 195.6C120.8 196 124 195.9 126.5 196.6C129 197.3 131.5 198.5 134 199.7C136.5 201 138.8 202.6 141.5 204.1C144.2 205.6 147.1 207 150.2 208.5C153.4 209.9 156.9 211.6 160.2 212.9C163.6 214.1 166.9 215.2 170.2 216C173.6 216.8 176.9 217.2 180.2 217.6C183.6 218 186.9 218.4 190.2 218.5C193.6 218.6 196.9 218.3 200.2 218.1C203.6 217.9 206.9 217.6 210.2 217.2C213.6 216.8 217.1 216.2 220.2 215.6C223.4 215 226.3 214.2 229 213.5C231.7 212.8 234.1 212 236.5 211.4C238.9 210.7 242.2 210 243.4 209.7L243.4 224.1L-2 224.1Z" fill="#FFA500" stroke="#000" stroke-width="0.55" stroke-opacity="0.9"/>
<path d="M-1.5 213.1C0.2 212.9 5.2 212.4 8.5 211.9C11.8 211.3 15.2 210.5 18.5 209.7C21.8 209 25.2 208.1 28.5 207.2C31.8 206.4 35.2 205.5 38.5 204.7C41.8 204 45.2 203.3 48.5 202.9C51.8 202.4 55.2 202.3 58.5 202.2C61.8 202.1 65.2 202.2 68.5 202.2C71.8 202.2 75.2 202.3 78.5 202.2C81.8 202.1 85.2 201.9 88.5 201.6C91.8 201.3 95.2 200.8 98.5 200.6C101.8 200.4 105.6 200.3 108.5 200.4C111.4 200.4 114.2 200.7 116 201C117.8 201.3 117.2 201.9 119 202.2C120.8 202.6 124 202.5 126.5 203.1C129 203.7 131.5 204.8 134 206C136.5 207.2 138.8 209 141.5 210.4C144.2 211.7 147.1 213 150.2 214.1C153.4 215.2 156.9 216.4 160.2 217.2C163.6 218.1 166.9 218.8 170.2 219.4C173.6 219.9 176.9 220.3 180.2 220.6C183.6 220.9 186.9 221.1 190.2 221.2C193.6 221.3 196.9 221.3 200.2 221.2C203.6 221.1 206.9 221 210.2 220.6C213.6 220.2 217.1 219.7 220.2 219.1C223.4 218.5 226.3 217.9 229 217.2C231.7 216.6 234.1 215.7 236.5 215.1C238.9 214.5 242.2 214.1 243.4 213.9L243.4 224.1L-2 224.1Z" fill="#FFDF00" stroke="#000" stroke-width="0.55" stroke-opacity="0.9"/>
<path d="M-1.5 215.6C0.2 215.4 5.2 214.9 8.5 214.4C11.8 213.8 15.2 213 18.5 212.2C21.8 211.5 25.2 210.6 28.5 209.7C31.8 208.9 35.2 207.9 38.5 207.2C41.8 206.5 45.2 206 48.5 205.6C51.8 205.2 55.2 205.1 58.5 205.1C61.8 205.1 65.2 205.4 68.5 205.6C71.8 205.8 75.2 206.2 78.5 206.4C81.8 206.5 85.2 206.7 88.5 206.6C91.8 206.5 95.2 206.1 98.5 206C101.8 205.8 105.6 205.5 108.5 205.6C111.4 205.7 114.2 206 116 206.4C117.8 206.7 117.2 207.2 119 207.6C120.8 208 124 207.8 126.5 208.5C129 209.1 131.5 210.5 134 211.6C136.5 212.7 138.8 214.1 141.5 215.4C144.2 216.6 147.1 217.9 150.2 218.9C153.4 219.9 157.3 220.6 160.2 221.4C163.2 222.1 166.5 222.8 167.8 223.1L-2 224.1Z" fill="#DEB887" stroke="#000" stroke-width="0.55" stroke-opacity="0.9"/>
<path d="M217.8 223.1C219.2 222.7 223.8 221.6 226.5 221C229.2 220.3 231.2 219.7 234 219.1C236.8 218.5 241.8 217.5 243.4 217.2L243.4 224.1Z" fill="#DEB887" stroke="#000" stroke-width="0.55" stroke-opacity="0.9"/>
<path d="M-1.5 217.6C0.2 217.4 5.2 216.9 8.5 216.4C11.8 215.8 15.2 215.1 18.5 214.4C21.8 213.6 25.2 212.7 28.5 211.9C31.8 211 35.2 210.1 38.5 209.4C41.8 208.6 45.2 208 48.5 207.6C51.8 207.2 55.2 206.9 58.5 206.9C61.8 206.8 65.2 207 68.5 207.2C71.8 207.5 75.2 208.1 78.5 208.5C81.8 208.8 85.2 209.2 88.5 209.4C91.8 209.5 95.2 209.3 98.5 209.4C101.8 209.4 105.6 209.5 108.5 209.7C111.4 210 114.2 210.6 116 211C117.8 211.4 117.2 211.9 119 212.2C120.8 212.6 124 212.5 126.5 213.1C129 213.7 131.5 215 134 216C136.5 217 139 218.2 141.5 219.1C144 220 147.1 220.9 149 221.6C150.9 222.3 152.1 222.9 152.8 223.1L-2 224.1Z" fill="#F5E4BD" stroke="#000" stroke-width="0.55" stroke-opacity="0.9"/>
<path d="M234 223.1 L243.4 220.4L243.4 224.1Z" fill="#F5E4BD" stroke="#000" stroke-width="0.55" stroke-opacity="0.9"/>
<path d="M-1.5 219.4C0.2 219.1 5.2 218.6 8.5 218.1C11.8 217.6 15.2 217.1 18.5 216.4C21.8 215.6 25.2 214.7 28.5 213.9C31.8 213 35.2 212.1 38.5 211.4C41.8 210.6 45.2 209.8 48.5 209.4C51.8 208.9 55.2 208.6 58.5 208.5C61.8 208.4 65.2 208.4 68.5 208.9C71.8 209.3 75.2 210.3 78.5 211C81.8 211.6 85.2 212.4 88.5 212.9C91.8 213.3 95.2 213.5 98.5 213.9C101.8 214.2 105.6 214.4 108.5 214.7C111.4 215.1 114.2 215.6 116 216C117.8 216.3 117.2 216.6 119 216.9C120.8 217.1 124 217.1 126.5 217.6C129 218.1 131.5 219.2 134 220.1C136.5 221 140.2 222.6 141.5 223.1" fill="none" stroke="#000" stroke-width="0.55" stroke-opacity="0.9"/>
<path d="M-1.5 221.4C0.2 221.2 5.2 220.8 8.5 220.4C11.8 219.9 15.2 219.6 18.5 218.9C21.8 218.1 25.2 216.9 28.5 216C31.8 215.1 35.2 214.2 38.5 213.5C41.8 212.7 45.2 211.9 48.5 211.4C51.8 210.8 55.2 210.5 58.5 210.4C61.8 210.2 65.2 210.1 68.5 210.6C71.8 211.1 75.2 212.2 78.5 213.1C81.8 214 85.2 215.1 88.5 216C91.8 216.8 95.2 217.5 98.5 218.1C101.8 218.7 105.6 219.3 108.5 219.7C111.4 220.1 114.2 220.3 116 220.6C117.8 220.9 117.7 220.9 119 221.4C120.3 221.8 123.2 222.8 124 223.1L-2 224.1Z" fill="#2E8B57" stroke="#000" stroke-width="0.55" stroke-opacity="0.9"/>
<path d="M19.8 223.1C21.2 222.5 25.8 220.8 28.5 219.7C31.2 218.7 33.1 217.8 36 216.9C38.9 215.9 42.7 214.9 46 214.1C49.3 213.3 52.7 212.5 56 212.2C59.3 211.9 62.7 211.9 66 212.2C69.3 212.6 72.7 213.4 76 214.4C79.3 215.3 82.9 216.7 86 217.9C89.1 219 92.5 220.1 94.8 221C97 221.9 98.9 222.7 99.8 223.1Z" fill="#9ACD32" stroke="#000" stroke-width="0.55" stroke-opacity="0.9"/>
<path d="M28.5 223.1C29.8 222.6 33.5 221.1 36 220.1C38.5 219.1 40.6 218.1 43.5 217.2C46.4 216.3 50.2 215.2 53.5 214.7C56.8 214.2 60.2 213.9 63.5 214.1C66.8 214.3 70.4 215.1 73.5 216C76.6 216.8 79.8 218.2 82.2 219.1C84.8 220 86.8 220.9 88.5 221.6C90.2 222.3 91.6 222.9 92.2 223.1Z" fill="#20B2AA" stroke="#000" stroke-width="0.55" stroke-opacity="0.9"/>
<path d="M37.2 223.1C38.5 222.5 42.2 220.7 44.8 219.7C47.2 218.7 49.5 217.9 52.2 217.2C55 216.6 58.1 216.1 61 216C63.9 215.9 67 216.1 69.8 216.6C72.5 217.1 75 218.3 77.2 219.1C79.5 219.9 82 220.9 83.5 221.6C85 222.3 85.6 222.9 86 223.1Z" fill="#B0E0E6" stroke="#000" stroke-width="0.55" stroke-opacity="0.9"/>
<path d="M44.8 223.1C45.8 222.6 48.7 221 51 220.1C53.3 219.2 56 218.3 58.5 217.9C61 217.4 63.5 217.4 66 217.6C68.5 217.8 71.2 218.5 73.5 219.1C75.8 219.7 78.2 220.7 79.8 221.4C81.3 222 82.4 222.8 82.9 223.1Z" fill="#7297EE" stroke="#000" stroke-width="0.55" stroke-opacity="0.9"/>
<path d="M49.8 223.1C50.8 222.7 53.9 221.2 56 220.6C58.1 220 60.2 219.5 62.2 219.4C64.3 219.2 66.4 219.4 68.5 219.7C70.6 220 73.1 220.7 74.8 221.2C76.4 221.8 77.9 222.8 78.5 223.1Z" fill="#4169E1" stroke="#000" stroke-width="0.55" stroke-opacity="0.9"/>
<path d="M54.8 223.1C56 222.7 60 221.3 62.2 221C64.5 220.7 66.6 220.9 68.5 221.2C70.4 221.6 72.7 222.8 73.5 223.1Z" fill="#0000CD" stroke="#000" stroke-width="0.55" stroke-opacity="0.9"/>
<circle cx="192.8" cy="97.9" r="1.1" fill="#fff"/>
<circle cx="201.5" cy="106.9" r="1.1" fill="#fff"/>
<use href="#coast"/>
</g>
<path d="M1.3 0V-3.5 M1.3 222.1V225.6" stroke="#000" stroke-width="0.45"/>
<path d="M23.1 0V-7.8 M23.1 222.1V229.9" stroke="#000" stroke-width="1.1"/>
<path d="M44.8 0V-3.5 M44.8 222.1V225.6" stroke="#000" stroke-width="0.45"/>
<path d="M66.6 0V-3.5 M66.6 222.1V225.6" stroke="#000" stroke-width="0.45"/>
<path d="M88.3 0V-7.8 M88.3 222.1V229.9" stroke="#000" stroke-width="1.1"/>
<path d="M110.1 0V-3.5 M110.1 222.1V225.6" stroke="#000" stroke-width="0.45"/>
<path d="M131.9 0V-3.5 M131.9 222.1V225.6" stroke="#000" stroke-width="0.45"/>
<path d="M153.6 0V-7.8 M153.6 222.1V229.9" stroke="#000" stroke-width="1.1"/>
<path d="M175.4 0V-3.5 M175.4 222.1V225.6" stroke="#000" stroke-width="0.45"/>
<path d="M197.2 0V-3.5 M197.2 222.1V225.6" stroke="#000" stroke-width="0.45"/>
<path d="M218.9 0V-7.8 M218.9 222.1V229.9" stroke="#000" stroke-width="1.1"/>
<path d="M240.7 0V-3.5 M240.7 222.1V225.6" stroke="#000" stroke-width="0.45"/>
<path d="M0 219.6H-3.5 M241.4 219.6H244.9" stroke="#000" stroke-width="0.45"/>
<path d="M0 197.9H-3.5 M241.4 197.9H244.9" stroke="#000" stroke-width="0.45"/>
<path d="M0 176.2H-7.8 M241.4 176.2H249.2" stroke="#000" stroke-width="1.1"/>
<path d="M0 154.4H-3.5 M241.4 154.4H244.9" stroke="#000" stroke-width="0.45"/>
<path d="M0 132.7H-3.5 M241.4 132.7H244.9" stroke="#000" stroke-width="0.45"/>
<path d="M0 110.9H-7.8 M241.4 110.9H249.2" stroke="#000" stroke-width="1.1"/>
<path d="M0 89.2H-3.5 M241.4 89.2H244.9" stroke="#000" stroke-width="0.45"/>
<path d="M0 67.4H-3.5 M241.4 67.4H244.9" stroke="#000" stroke-width="0.45"/>
<path d="M0 45.7H-7.8 M241.4 45.7H249.2" stroke="#000" stroke-width="1.1"/>
<path d="M0 23.9H-3.5 M241.4 23.9H244.9" stroke="#000" stroke-width="0.45"/>
<path d="M0 2.2H-3.5 M241.4 2.2H244.9" stroke="#000" stroke-width="0.45"/>
<rect x="0" y="0" width="241.4" height="222.1" fill="none" stroke="#000" stroke-width="1.15"/>
<text x="23.1" y="244.7" text-anchor="middle" font-size="10">60E</text>
<text x="88.3" y="244.7" text-anchor="middle" font-size="10">90E</text>
<text x="153.6" y="244.7" text-anchor="middle" font-size="10">120E</text>
<text x="218.9" y="244.7" text-anchor="middle" font-size="10">150E</text>
<text x="-14.8" y="49.3" text-anchor="end" font-size="10">30N</text>
<text x="-14.8" y="114.5" text-anchor="end" font-size="10">0</text>
<text x="-14.8" y="179.8" text-anchor="end" font-size="10">30S</text>
<rect x="252.6" y="2.2" width="14.7" height="12.8" fill="#FF1493" stroke="#000" stroke-width="0.5" stroke-opacity="0.8"/>
<rect x="252.6" y="15" width="14.7" height="12.8" fill="#FFB6C1" stroke="#000" stroke-width="0.5" stroke-opacity="0.8"/>
<rect x="252.6" y="27.8" width="14.7" height="12.8" fill="#B22222" stroke="#000" stroke-width="0.5" stroke-opacity="0.8"/>
<rect x="252.6" y="40.6" width="14.7" height="12.8" fill="#FF4500" stroke="#000" stroke-width="0.5" stroke-opacity="0.8"/>
<rect x="252.6" y="53.4" width="14.7" height="12.8" fill="#FFA500" stroke="#000" stroke-width="0.5" stroke-opacity="0.8"/>
<rect x="252.6" y="66.2" width="14.7" height="12.8" fill="#FFDF00" stroke="#000" stroke-width="0.5" stroke-opacity="0.8"/>
<rect x="252.6" y="79" width="14.7" height="12.8" fill="#DEB887" stroke="#000" stroke-width="0.5" stroke-opacity="0.8"/>
<rect x="252.6" y="91.8" width="14.7" height="12.8" fill="#F5E4BD" stroke="#000" stroke-width="0.5" stroke-opacity="0.8"/>
<rect x="252.6" y="104.6" width="14.7" height="12.8" fill="#F5E4BD" stroke="#000" stroke-width="0.5" stroke-opacity="0.8"/>
<rect x="252.6" y="117.4" width="14.7" height="12.8" fill="#2E8B57" stroke="#000" stroke-width="0.5" stroke-opacity="0.8"/>
<rect x="252.6" y="130.2" width="14.7" height="12.8" fill="#9ACD32" stroke="#000" stroke-width="0.5" stroke-opacity="0.8"/>
<rect x="252.6" y="143" width="14.7" height="12.8" fill="#20B2AA" stroke="#000" stroke-width="0.5" stroke-opacity="0.8"/>
<rect x="252.6" y="155.8" width="14.7" height="12.8" fill="#B0E0E6" stroke="#000" stroke-width="0.5" stroke-opacity="0.8"/>
<rect x="252.6" y="168.6" width="14.7" height="12.8" fill="#7297EE" stroke="#000" stroke-width="0.5" stroke-opacity="0.8"/>
<rect x="252.6" y="181.4" width="14.7" height="12.8" fill="#4169E1" stroke="#000" stroke-width="0.5" stroke-opacity="0.8"/>
<rect x="252.6" y="194.2" width="14.7" height="12.8" fill="#0000CD" stroke="#000" stroke-width="0.5" stroke-opacity="0.8"/>
<rect x="252.6" y="207" width="14.7" height="12.8" fill="#9370DB" stroke="#000" stroke-width="0.5" stroke-opacity="0.8"/>
<text x="271.4" y="18.7" font-size="10">3200</text>
<text x="271.4" y="31.5" font-size="10">3160</text>
<text x="271.4" y="44.3" font-size="10">3120</text>
<text x="271.4" y="57.1" font-size="10">3080</text>
<text x="271.4" y="69.9" font-size="10">3040</text>
<text x="271.4" y="82.7" font-size="10">3000</text>
<text x="271.4" y="95.5" font-size="10">2960</text>
<text x="271.4" y="108.3" font-size="10">2920</text>
<text x="271.4" y="121.1" font-size="10">2880</text>
<text x="271.4" y="133.9" font-size="10">2840</text>
<text x="271.4" y="146.7" font-size="10">2800</text>
<text x="271.4" y="159.5" font-size="10">2760</text>
<text x="271.4" y="172.3" font-size="10">2720</text>
<text x="271.4" y="185.1" font-size="10">2680</text>
<text x="271.4" y="197.9" font-size="10">2640</text>
<text x="271.4" y="210.7" font-size="10">2600</text>
<text x="-0.5" y="-11.8" font-size="12.65">700 hPa</text>
<text x="242.4" y="-14.4" text-anchor="end" font-size="12.7">vinth2p: extrapolation</text>
</g>
</svg></body></html>
